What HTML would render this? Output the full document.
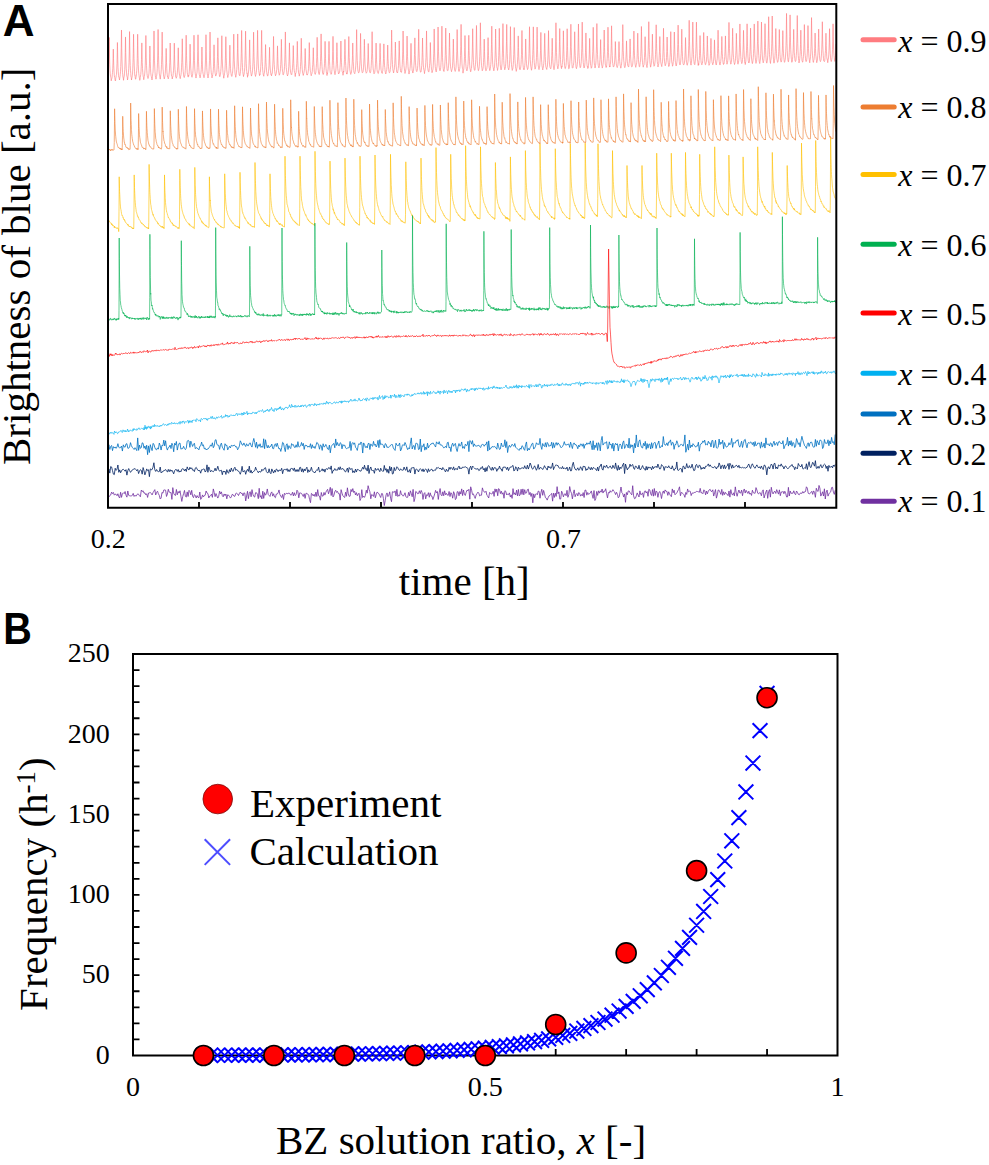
<!DOCTYPE html>
<html><head><meta charset="utf-8"><style>
html,body{margin:0;padding:0;background:#fff;}
svg{display:block;}
text{font-family:"Liberation Serif",serif;fill:#000;}
.sans{font-family:"Liberation Sans",sans-serif;font-weight:bold;}
</style></head><body>
<svg width="989" height="1165" viewBox="0 0 989 1165">
<rect width="989" height="1165" fill="#fff"/>
<text class="sans" x="2.7" y="36" font-size="44">A</text>
<text x="0" y="0" font-size="41" transform="translate(30.2,465) rotate(-90)">Brightness of blue [a.u.]</text>
<polyline points="108.00,75.50 108.25,72.17 108.50,68.35 108.75,60.68 109.00,50.75 109.20,37.44 109.25,41.23 109.50,54.98 109.75,64.69 110.00,70.21 110.25,73.79 110.50,76.17 110.75,77.18 111.00,78.05 111.25,80.81 111.50,79.11 111.75,78.62 112.00,77.91 112.25,74.82 112.50,72.57 112.75,68.78 113.00,62.15 113.25,51.17 113.30,49.15 113.50,58.44 113.75,65.77 114.00,71.01 114.25,75.11 114.50,76.99 114.75,77.11 115.00,79.56 115.25,80.62 115.50,80.98 115.75,78.29 116.00,77.28 116.25,75.21 116.50,74.44 116.75,68.98 117.00,63.41 117.25,52.13 117.42,42.51 117.50,46.77 117.75,59.33 118.00,67.58 118.25,71.26 118.50,75.47 118.75,77.03 119.00,77.56 119.25,78.61 119.50,79.98 119.75,78.05 120.00,76.58 120.25,74.50 120.50,71.72 120.75,66.57 121.00,58.90 121.25,47.64 121.49,30.31 121.50,29.99 121.75,48.80 122.00,59.92 122.25,67.02 122.50,72.54 122.75,74.78 123.00,77.64 123.25,77.67 123.50,80.30 123.75,78.22 124.00,76.94 124.25,76.01 124.50,73.11 124.75,69.52 125.00,62.94 125.25,52.57 125.50,37.55 125.51,36.94 125.75,52.71 126.00,61.93 126.25,68.81 126.50,72.06 126.75,75.83 127.00,76.61 127.25,77.29 127.50,79.98 127.75,78.74 128.00,76.37 128.25,74.94 128.50,72.52 128.75,68.24 129.00,62.56 129.25,51.83 129.50,35.91 129.56,31.59 129.75,45.17 130.00,58.33 130.25,65.59 130.50,70.53 130.75,73.42 131.00,77.30 131.25,77.50 131.50,80.03 131.75,78.18 132.00,77.30 132.25,75.69 132.50,74.19 132.75,68.89 133.00,62.61 133.25,53.39 133.50,38.28 133.56,34.29 133.75,47.52 134.00,58.58 134.25,65.95 134.50,71.28 134.75,75.20 135.00,75.03 135.25,77.93 135.50,79.26 135.75,78.89 136.00,77.00 136.25,76.10 136.50,73.44 136.75,70.49 137.00,66.61 137.25,58.35 137.50,45.18 137.65,34.22 137.75,41.24 138.00,55.70 138.25,64.58 138.50,70.08 138.75,73.58 139.00,75.28 139.25,77.22 139.50,78.12 139.75,80.34 140.00,79.30 140.25,77.53 140.50,76.02 140.75,74.48 141.00,71.23 141.25,66.48 141.50,59.45 141.75,47.35 141.83,42.90 142.00,52.17 142.25,62.36 142.50,68.49 142.75,72.24 143.00,74.69 143.25,76.66 143.50,77.53 143.75,79.71 144.00,78.11 144.25,76.58 144.50,75.95 144.75,73.14 145.00,70.18 145.25,65.11 145.50,55.99 145.75,44.10 145.87,35.51 146.00,44.66 146.25,57.23 146.50,65.32 146.75,70.13 147.00,73.73 147.25,75.64 147.50,77.27 147.75,77.44 148.00,78.52 148.25,77.85 148.50,76.73 148.75,75.03 149.00,73.09 149.25,68.16 149.50,63.19 149.75,53.59 149.89,45.98 150.00,52.04 150.25,61.59 150.50,68.18 150.75,72.68 151.00,75.15 151.25,76.66 151.50,76.83 151.75,78.51 152.00,79.97 152.25,77.90 152.50,76.37 152.75,73.67 153.00,72.09 153.25,67.08 153.50,58.87 153.75,49.26 154.00,30.96 154.00,31.12 154.25,48.82 154.50,60.79 154.75,66.96 155.00,71.72 155.25,75.27 155.50,76.98 155.75,77.26 156.00,79.16 156.25,76.89 156.50,76.16 156.75,75.12 157.00,72.59 157.25,68.50 157.50,62.71 157.75,52.02 158.00,36.93 158.09,29.50 158.25,41.83 158.50,55.84 158.75,64.23 159.00,69.41 159.25,73.26 159.50,74.81 159.75,75.90 160.00,77.91 160.25,79.15 160.50,77.02 160.75,74.68 161.00,73.26 161.25,69.84 161.50,64.52 161.75,55.65 162.00,43.74 162.16,32.09 162.25,38.69 162.50,53.03 162.75,62.73 163.00,69.09 163.25,71.12 163.50,74.84 163.75,76.70 164.00,77.73 164.25,78.92 164.50,78.06 164.75,76.73 165.00,75.29 165.25,73.28 165.50,69.07 165.75,63.73 166.00,55.40 166.15,48.41 166.25,52.64 166.50,62.30 166.75,68.51 167.00,72.95 167.25,74.71 167.50,77.01 167.75,76.78 168.00,77.79 168.25,78.87 168.50,77.71 168.75,76.89 169.00,74.11 169.25,72.05 169.50,68.96 169.75,62.62 170.00,52.99 170.20,43.00 170.25,45.70 170.50,57.92 170.75,65.19 171.00,70.86 171.25,73.34 171.50,75.99 171.75,76.24 172.00,77.06 172.25,78.97 172.50,77.20 172.75,77.12 173.00,75.72 173.25,73.24 173.50,70.78 173.75,65.90 174.00,59.19 174.25,46.85 174.31,43.15 174.50,54.22 174.75,63.93 175.00,69.65 175.25,72.38 175.50,74.81 175.75,76.95 176.00,77.06 176.25,78.28 176.50,77.54 176.75,76.97 177.00,75.17 177.25,72.93 177.50,70.16 177.75,66.68 178.00,58.84 178.25,47.91 178.25,47.81 178.50,59.16 178.75,65.93 179.00,70.94 179.25,73.17 179.50,75.28 179.75,76.12 180.00,77.94 180.25,78.65 180.50,76.66 180.75,75.91 181.00,74.50 181.25,72.63 181.50,67.81 181.75,62.32 182.00,53.56 182.25,40.69 182.27,38.77 182.50,52.22 182.75,62.24 183.00,69.02 183.25,71.74 183.50,74.13 183.75,76.47 184.00,77.10 184.25,77.55 184.50,76.18 184.75,76.17 185.00,74.14 185.25,70.53 185.50,65.81 185.75,56.92 186.00,46.40 186.16,35.20 186.25,42.18 186.50,55.65 186.75,63.60 187.00,68.30 187.25,72.74 187.50,74.35 187.75,75.92 188.00,76.65 188.25,77.11 188.50,75.45 188.75,76.13 189.00,73.96 189.25,71.74 189.50,67.99 189.75,60.42 190.00,49.14 190.10,44.17 190.25,52.26 190.50,61.94 190.75,68.15 191.00,70.86 191.25,74.41 191.50,74.99 191.75,76.85 192.00,77.25 192.25,76.33 192.50,75.37 192.75,73.43 193.00,70.71 193.25,65.95 193.50,60.12 193.75,50.58 193.99,35.19 194.00,35.87 194.25,51.30 194.50,60.60 194.75,68.00 195.00,71.27 195.25,73.81 195.50,75.31 195.75,76.53 196.00,78.05 196.25,76.45 196.50,74.93 196.75,73.67 197.00,72.47 197.25,67.31 197.50,60.95 197.75,51.45 198.00,35.98 198.00,34.77 198.25,50.69 198.50,61.26 198.75,67.29 199.00,71.24 199.25,74.51 199.50,75.01 199.75,76.42 200.00,77.90 200.25,77.49 200.50,74.94 200.75,74.29 201.00,72.33 201.25,69.73 201.50,64.68 201.75,57.15 201.93,47.00 202.00,51.54 202.25,60.85 202.50,66.91 202.75,71.47 203.00,73.25 203.25,74.27 203.50,76.13 203.75,76.20 204.00,77.74 204.25,76.43 204.50,75.34 204.75,74.33 205.00,70.83 205.25,66.07 205.50,60.01 205.75,49.78 205.99,34.71 206.00,36.60 206.25,51.26 206.50,60.24 206.75,67.70 207.00,71.17 207.25,73.87 207.50,75.30 207.75,76.56 208.00,77.98 208.25,76.78 208.50,75.34 208.75,73.69 209.00,71.13 209.25,66.16 209.50,60.44 209.75,50.38 210.00,34.83 210.03,32.02 210.25,48.67 210.50,58.88 210.75,65.18 211.00,69.35 211.25,72.86 211.50,74.73 211.75,75.54 212.00,77.91 212.25,76.26 212.50,76.12 212.75,74.32 213.00,72.84 213.25,70.48 213.50,66.76 213.75,57.86 214.00,46.93 214.03,44.80 214.25,56.20 214.50,63.26 214.75,68.69 215.00,72.15 215.25,73.72 215.50,75.03 215.75,76.09 216.00,75.33 216.25,74.85 216.50,74.11 216.75,72.41 217.00,69.12 217.25,63.42 217.50,56.35 217.75,44.81 217.85,37.83 218.00,46.93 218.25,57.75 218.50,65.63 218.75,69.54 219.00,72.11 219.25,74.11 219.50,76.38 219.75,76.50 220.00,76.73 220.25,75.03 220.50,74.37 220.75,71.44 221.00,68.26 221.25,64.23 221.50,54.94 221.75,41.02 221.83,35.74 222.00,47.20 222.25,58.80 222.50,65.03 222.75,68.90 223.00,72.48 223.25,74.43 223.50,75.62 223.75,78.22 224.00,76.24 224.25,75.63 224.50,73.33 224.75,72.21 225.00,69.50 225.25,63.60 225.50,55.11 225.75,42.08 225.84,36.72 226.00,45.98 226.25,57.73 226.50,65.21 226.75,69.91 227.00,72.22 227.25,74.43 227.50,75.30 227.75,77.52 228.00,76.29 228.25,75.14 228.50,74.70 228.75,73.57 229.00,70.17 229.25,66.63 229.50,60.93 229.75,50.38 229.86,45.20 230.00,51.88 230.25,62.10 230.50,68.48 230.75,72.01 231.00,73.21 231.25,75.17 231.50,75.79 231.75,76.37 232.00,76.31 232.25,73.83 232.50,73.36 232.75,70.21 233.00,66.85 233.25,59.81 233.50,49.24 233.75,34.13 233.75,34.75 234.00,50.07 234.25,60.24 234.50,66.05 234.75,69.25 235.00,73.30 235.25,74.81 235.50,75.56 235.75,77.29 236.00,75.86 236.25,74.01 236.50,72.15 236.75,69.68 237.00,66.06 237.25,58.00 237.50,48.63 237.71,33.94 237.75,36.54 238.00,52.36 238.25,60.98 238.50,66.28 238.75,70.49 239.00,73.51 239.25,75.14 239.50,75.28 239.75,75.85 240.00,75.13 240.25,73.07 240.50,71.41 240.75,67.81 241.00,62.20 241.25,53.78 241.50,40.77 241.64,30.46 241.75,38.82 242.00,52.77 242.25,62.34 242.50,67.48 242.75,71.35 243.00,73.76 243.25,74.88 243.50,76.62 243.75,74.96 244.00,74.80 244.25,72.70 244.50,71.38 244.75,67.51 245.00,59.71 245.25,50.79 245.50,36.79 245.57,31.18 245.75,43.92 246.00,55.73 246.25,63.74 246.50,68.76 246.75,71.51 247.00,74.04 247.25,73.65 247.50,77.28 247.75,75.27 248.00,75.60 248.25,73.94 248.50,71.95 248.75,69.96 249.00,65.20 249.25,58.70 249.50,48.15 249.65,39.90 249.75,46.10 250.00,57.70 250.25,64.31 250.50,69.47 250.75,71.85 251.00,73.62 251.25,75.12 251.50,76.10 251.75,75.10 252.00,74.24 252.25,72.84 252.50,70.70 252.75,66.66 253.00,62.02 253.25,52.49 253.50,39.03 253.58,32.20 253.75,44.37 254.00,56.29 254.25,63.44 254.50,69.45 254.75,71.67 255.00,74.30 255.25,75.11 255.50,76.43 255.75,74.86 256.00,74.29 256.25,72.56 256.50,70.12 256.75,66.13 257.00,59.34 257.25,50.65 257.50,34.71 257.57,30.36 257.75,42.73 258.00,55.00 258.25,63.04 258.50,68.22 258.75,70.50 259.00,72.33 259.25,73.93 259.50,75.63 259.75,74.64 260.00,75.04 260.25,72.32 260.50,70.99 260.75,66.55 261.00,61.97 261.25,53.14 261.50,39.85 261.63,30.39 261.75,40.12 262.00,52.98 262.25,61.60 262.50,66.54 262.75,70.80 263.00,72.59 263.25,74.53 263.50,74.98 263.75,76.24 264.00,73.70 264.25,73.47 264.50,72.38 264.75,69.11 265.00,64.72 265.25,58.42 265.50,47.53 265.57,44.57 265.75,54.75 266.00,62.48 266.25,66.67 266.50,70.17 266.75,72.54 267.00,74.60 267.25,74.55 267.50,76.11 267.75,75.78 268.00,75.12 268.25,73.49 268.50,71.53 268.75,68.81 269.00,65.30 269.25,58.33 269.50,50.05 269.54,47.31 269.75,56.97 270.00,64.84 270.25,69.04 270.50,70.77 270.75,73.61 271.00,74.92 271.25,74.70 271.50,75.87 271.75,74.71 272.00,73.05 272.25,73.16 272.50,68.96 272.75,66.06 273.00,60.89 273.25,52.10 273.50,38.43 273.53,36.47 273.75,49.48 274.00,59.90 274.25,64.45 274.50,69.44 274.75,71.58 275.00,73.58 275.25,74.62 275.50,75.79 275.75,74.66 276.00,74.64 276.25,73.26 276.50,70.93 276.75,69.44 277.00,65.08 277.25,56.12 277.50,45.86 277.51,46.45 277.75,56.57 278.00,63.59 278.25,68.01 278.50,70.78 278.75,72.81 279.00,73.82 279.25,75.22 279.50,74.74 279.75,74.02 280.00,72.55 280.25,71.40 280.50,68.26 280.75,64.34 281.00,58.22 281.25,47.29 281.38,39.34 281.50,46.29 281.75,57.09 282.00,63.94 282.25,68.26 282.50,71.58 282.75,72.43 283.00,74.77 283.25,74.82 283.50,74.19 283.75,73.46 284.00,72.01 284.25,70.30 284.50,66.52 284.75,62.18 285.00,52.92 285.25,39.11 285.36,31.95 285.50,41.11 285.75,54.46 286.00,62.86 286.25,67.64 286.50,69.80 286.75,72.09 287.00,74.63 287.25,74.70 287.50,75.95 287.75,74.95 288.00,74.77 288.25,72.81 288.50,70.07 288.75,66.76 289.00,61.51 289.25,52.43 289.44,42.89 289.50,47.02 289.75,57.07 290.00,64.21 290.25,68.53 290.50,72.35 290.75,72.46 291.00,73.90 291.25,74.57 291.50,74.89 291.75,74.51 292.00,72.67 292.25,70.81 292.50,67.75 292.75,63.93 293.00,58.09 293.25,47.48 293.28,45.58 293.50,55.83 293.75,63.25 294.00,68.06 294.25,70.42 294.50,72.43 294.75,72.81 295.00,73.88 295.25,76.56 295.50,73.40 295.75,73.60 296.00,72.73 296.25,70.64 296.50,67.61 296.75,63.54 297.00,56.57 297.25,45.52 297.31,41.40 297.50,52.18 297.75,60.38 298.00,65.96 298.25,69.79 298.50,72.18 298.75,73.69 299.00,73.87 299.25,76.11 299.50,74.75 299.75,73.88 300.00,72.66 300.25,69.78 300.50,66.44 300.75,61.70 301.00,52.36 301.25,40.16 301.27,38.25 301.50,50.84 301.75,59.12 302.00,65.24 302.25,69.28 302.50,72.02 302.75,73.52 303.00,73.90 303.25,75.45 303.50,73.86 303.75,73.75 304.00,72.28 304.25,70.90 304.50,68.63 304.75,63.27 305.00,55.50 305.18,48.50 305.25,51.49 305.50,60.12 305.75,66.76 306.00,69.65 306.25,70.94 306.50,73.41 306.75,74.58 307.00,74.32 307.25,75.13 307.50,74.05 307.75,73.65 308.00,72.70 308.25,71.19 308.50,68.42 308.75,64.01 309.00,57.17 309.25,45.91 309.29,42.60 309.50,53.50 309.75,61.71 310.00,66.42 310.25,70.28 310.50,71.69 310.75,72.70 311.00,74.70 311.25,75.74 311.50,74.46 311.75,74.20 312.00,73.31 312.25,71.45 312.50,67.68 312.75,64.84 313.00,59.08 313.25,49.56 313.30,47.78 313.50,56.74 313.75,62.92 314.00,67.05 314.25,71.45 314.50,72.01 314.75,72.75 315.00,74.21 315.25,74.35 315.50,73.08 315.75,72.73 316.00,70.37 316.25,67.43 316.50,63.69 316.75,57.24 317.00,45.91 317.15,37.32 317.25,43.48 317.50,56.55 317.75,62.14 318.00,67.86 318.25,70.11 318.50,71.95 318.75,73.57 319.00,74.41 319.25,74.46 319.50,73.15 319.75,71.37 320.00,69.32 320.25,66.57 320.50,61.45 320.75,53.74 321.00,40.46 321.10,33.92 321.25,44.22 321.50,55.15 321.75,61.69 322.00,66.52 322.25,69.36 322.50,72.75 322.75,72.72 323.00,74.52 323.25,74.31 323.50,74.18 323.75,72.73 324.00,70.45 324.25,67.69 324.50,63.57 324.75,56.89 325.00,45.95 325.08,41.36 325.25,50.96 325.50,58.44 325.75,65.22 326.00,68.32 326.25,71.20 326.50,73.01 326.75,73.50 327.00,75.55 327.25,72.96 327.50,73.49 327.75,71.36 328.00,69.96 328.25,66.57 328.50,60.19 328.75,53.25 329.00,41.36 329.01,41.60 329.25,53.22 329.50,61.26 329.75,65.53 330.00,70.19 330.25,72.44 330.50,72.85 330.75,73.55 331.00,74.29 331.25,73.94 331.50,73.93 331.75,71.49 332.00,69.49 332.25,65.54 332.50,59.12 332.75,51.38 333.00,36.36 333.00,37.17 333.25,51.21 333.50,60.27 333.75,65.60 334.00,69.11 334.25,70.77 334.50,71.93 334.75,73.50 335.00,74.68 335.25,72.83 335.50,71.95 335.75,70.92 336.00,68.02 336.25,64.77 336.50,59.10 336.75,51.32 336.92,42.72 337.00,47.83 337.25,56.37 337.50,63.31 337.75,68.25 338.00,70.31 338.25,71.92 338.50,74.00 338.75,73.64 339.00,73.34 339.25,72.65 339.50,72.52 339.75,70.99 340.00,67.77 340.25,64.22 340.50,59.08 340.75,49.81 340.90,41.02 341.00,47.06 341.25,57.33 341.50,62.69 341.75,67.57 342.00,70.56 342.25,71.74 342.50,72.01 342.75,73.61 343.00,75.29 343.25,74.07 343.50,71.23 343.75,72.15 344.00,67.94 344.25,65.29 344.50,59.62 344.75,50.35 344.94,39.36 345.00,42.16 345.25,54.79 345.50,61.57 345.75,65.39 346.00,71.07 346.25,71.91 346.50,73.67 346.75,73.07 347.00,74.17 347.25,73.40 347.50,72.09 347.75,69.27 348.00,65.48 348.25,60.95 348.50,51.99 348.75,39.72 348.81,36.53 349.00,47.08 349.25,57.45 349.50,63.79 349.75,68.81 350.00,71.03 350.25,71.97 350.50,73.62 350.75,74.41 351.00,73.31 351.25,73.18 351.50,70.91 351.75,69.52 352.00,66.05 352.25,62.12 352.50,55.57 352.75,42.98 352.75,43.61 353.00,54.46 353.25,61.58 353.50,66.14 353.75,70.40 354.00,72.71 354.25,72.94 354.50,73.08 354.75,73.63 355.00,72.27 355.25,71.51 355.50,69.17 355.75,65.88 356.00,60.87 356.25,52.13 356.50,39.39 356.63,29.61 356.75,39.11 357.00,51.53 357.25,60.37 357.50,65.17 357.75,69.00 358.00,71.27 358.25,71.66 358.50,72.80 358.75,72.65 359.00,72.60 359.25,71.68 359.50,69.03 359.75,64.95 360.00,60.36 360.25,50.22 360.50,38.10 360.55,33.42 360.75,44.78 361.00,57.89 361.25,63.95 361.50,66.83 361.75,70.09 362.00,71.58 362.25,72.81 362.50,72.68 362.75,72.40 363.00,71.89 363.25,70.06 363.50,67.87 363.75,63.08 364.00,57.56 364.25,45.55 364.37,39.28 364.50,45.84 364.75,56.31 365.00,64.04 365.25,66.99 365.50,70.32 365.75,71.67 366.00,72.22 366.25,73.23 366.50,72.96 366.75,72.20 367.00,71.60 367.25,69.64 367.50,66.01 367.75,61.10 368.00,54.21 368.23,43.52 368.25,45.32 368.50,56.98 368.75,62.96 369.00,66.90 369.25,69.60 369.50,71.02 369.75,72.11 370.00,72.76 370.25,72.83 370.50,71.97 370.75,71.22 371.00,68.55 371.25,65.35 371.50,59.64 371.75,52.89 372.00,39.43 372.12,31.71 372.25,40.59 372.50,53.45 372.75,60.51 373.00,66.03 373.25,70.22 373.50,70.28 373.75,72.76 374.00,73.84 374.25,73.52 374.50,73.05 374.75,72.31 375.00,69.76 375.25,67.82 375.50,63.27 375.75,57.22 376.00,47.58 376.09,43.07 376.25,51.07 376.50,59.75 376.75,64.21 377.00,69.38 377.25,71.14 377.50,72.30 377.75,72.62 378.00,73.31 378.25,73.49 378.50,72.78 378.75,70.71 379.00,70.36 379.25,68.99 379.50,62.63 379.75,57.92 380.00,47.88 380.08,43.40 380.25,52.30 380.50,59.27 380.75,65.21 381.00,69.21 381.25,70.47 381.50,71.69 381.75,72.81 382.00,73.00 382.25,73.43 382.50,71.25 382.75,70.72 383.00,67.35 383.25,64.75 383.50,58.70 383.75,48.54 383.87,43.86 384.00,49.64 384.25,58.72 384.50,65.30 384.75,67.46 385.00,69.73 385.25,72.43 385.50,72.65 385.75,73.95 386.00,73.00 386.25,71.61 386.50,70.83 386.75,69.62 387.00,66.50 387.25,61.35 387.50,54.03 387.70,45.08 387.75,47.31 388.00,58.28 388.25,63.42 388.50,66.73 388.75,69.54 389.00,71.72 389.25,72.67 389.50,72.90 389.75,72.30 390.00,71.83 390.25,69.67 390.50,67.83 390.75,65.71 391.00,60.02 391.25,52.54 391.50,40.49 391.64,30.07 391.75,37.58 392.00,51.97 392.25,59.67 392.50,64.50 392.75,68.46 393.00,70.44 393.25,71.16 393.50,72.95 393.75,72.21 394.00,70.32 394.25,69.72 394.50,67.26 394.75,63.41 395.00,56.84 395.25,48.15 395.37,42.02 395.50,48.78 395.75,57.34 396.00,64.09 396.25,66.84 396.50,69.70 396.75,71.98 397.00,71.90 397.25,72.59 397.50,73.01 397.75,71.44 398.00,70.19 398.25,68.41 398.50,65.62 398.75,58.89 399.00,51.63 399.22,40.92 399.25,42.71 399.50,53.99 399.75,61.08 400.00,66.17 400.25,68.41 400.50,70.73 400.75,72.02 401.00,72.17 401.25,72.39 401.50,72.30 401.75,70.27 402.00,67.65 402.25,64.59 402.50,58.87 402.75,51.17 403.00,38.38 403.09,31.00 403.25,41.89 403.50,54.16 403.75,60.70 404.00,65.72 404.25,68.06 404.50,70.04 404.75,71.39 405.00,73.49 405.25,72.11 405.50,71.24 405.75,69.95 406.00,68.15 406.25,65.40 406.50,60.20 406.75,53.32 407.00,40.08 407.07,36.04 407.25,46.10 407.50,56.38 407.75,61.77 408.00,66.51 408.25,69.12 408.50,70.67 408.75,70.75 409.00,74.07 409.25,72.18 409.50,71.43 409.75,70.38 410.00,68.59 410.25,66.08 410.50,60.79 410.75,53.95 411.00,43.51 411.00,43.33 411.25,54.07 411.50,61.03 411.75,65.37 412.00,68.60 412.25,71.02 412.50,71.04 412.75,73.05 413.00,72.74 413.25,71.38 413.50,70.88 413.75,68.00 414.00,65.10 414.25,60.96 414.50,54.55 414.75,43.79 414.85,37.89 415.00,46.70 415.25,55.39 415.50,62.92 415.75,65.91 416.00,68.79 416.25,70.50 416.50,71.13 416.75,71.66 417.00,70.90 417.25,70.20 417.50,68.64 417.75,65.68 418.00,60.27 418.25,53.08 418.50,41.52 418.69,29.32 418.75,32.73 419.00,48.85 419.25,57.18 419.50,62.86 419.75,67.13 420.00,69.82 420.25,70.96 420.50,72.26 420.75,72.07 421.00,71.82 421.25,70.59 421.50,67.95 421.75,65.64 422.00,60.14 422.25,52.45 422.50,39.90 422.54,37.99 422.75,49.87 423.00,57.53 423.25,64.03 423.50,67.39 423.75,69.57 424.00,69.74 424.25,71.68 424.50,73.61 424.75,71.22 425.00,70.67 425.25,67.91 425.50,67.02 425.75,62.56 426.00,57.35 426.25,46.59 426.50,33.04 426.52,30.93 426.75,45.77 427.00,55.08 427.25,61.69 427.50,67.22 427.75,68.28 428.00,69.99 428.25,71.24 428.50,71.61 428.75,72.08 429.00,71.37 429.25,68.60 429.50,65.65 429.75,63.25 430.00,57.17 430.25,47.50 430.35,42.54 430.50,49.03 430.75,58.03 431.00,62.91 431.25,66.37 431.50,69.78 431.75,70.35 432.00,72.71 432.25,72.17 432.50,70.73 432.75,70.26 433.00,68.89 433.25,65.29 433.50,59.80 433.75,53.29 434.00,42.29 434.18,28.96 434.25,33.87 434.50,48.94 434.75,57.49 435.00,62.58 435.25,66.56 435.50,68.67 435.75,70.65 436.00,71.48 436.25,71.93 436.50,70.74 436.75,68.08 437.00,66.67 437.25,63.14 437.50,56.98 437.75,47.91 438.00,32.38 438.07,27.02 438.25,40.87 438.50,51.77 438.75,58.77 439.00,65.15 439.25,67.31 439.50,69.45 439.75,70.12 440.00,70.82 440.25,70.05 440.50,69.12 440.75,67.39 441.00,62.76 441.25,59.09 441.50,49.94 441.75,37.11 441.91,26.16 442.00,32.96 442.25,46.80 442.50,57.73 442.75,62.25 443.00,66.52 443.25,68.86 443.50,70.96 443.75,70.98 444.00,71.48 444.25,69.51 444.50,68.73 444.75,65.09 445.00,61.05 445.25,55.49 445.50,44.18 445.74,28.08 445.75,29.73 446.00,44.93 446.25,54.59 446.50,61.86 446.75,65.03 447.00,68.80 447.25,70.50 447.50,70.66 447.75,70.82 448.00,70.27 448.25,68.70 448.50,65.86 448.75,62.94 449.00,55.82 449.25,47.46 449.50,33.05 449.50,33.08 449.75,47.78 450.00,56.18 450.25,62.90 450.50,66.20 450.75,68.31 451.00,69.43 451.25,70.46 451.50,71.68 451.75,70.32 452.00,69.75 452.25,68.54 452.50,65.83 452.75,61.86 453.00,54.26 453.25,43.36 453.34,39.09 453.50,47.17 453.75,56.93 454.00,62.31 454.25,66.67 454.50,68.89 454.75,70.33 455.00,71.19 455.25,71.44 455.50,70.57 455.75,69.33 456.00,67.76 456.25,63.95 456.50,60.24 456.75,51.72 457.00,40.29 457.15,29.56 457.25,36.69 457.50,50.88 457.75,57.99 458.00,62.77 458.25,66.38 458.50,68.69 458.75,71.27 459.00,71.14 459.25,71.28 459.50,69.32 459.75,68.44 460.00,66.16 460.25,62.87 460.50,55.56 460.75,46.67 461.00,31.49 461.08,24.36 461.25,37.49 461.50,50.14 461.75,57.21 462.00,63.81 462.25,67.04 462.50,68.62 462.75,69.48 463.00,73.17 463.25,70.94 463.50,70.38 463.75,69.10 464.00,65.81 464.25,62.83 464.50,56.55 464.75,47.58 464.97,35.53 465.00,37.67 465.25,50.90 465.50,58.45 465.75,63.42 466.00,66.59 466.25,68.95 466.50,69.64 466.75,70.66 467.00,70.87 467.25,69.77 467.50,68.68 467.75,66.36 468.00,64.40 468.25,58.92 468.50,50.38 468.75,37.38 468.80,35.31 469.00,46.08 469.25,55.50 469.50,61.81 469.75,65.69 470.00,68.70 470.25,69.54 470.50,71.59 470.75,71.82 471.00,70.58 471.25,68.57 471.50,68.14 471.75,64.17 472.00,59.76 472.25,53.08 472.50,41.95 472.68,28.73 472.75,34.18 473.00,47.48 473.25,57.02 473.50,62.47 473.75,65.87 474.00,67.95 474.25,69.51 474.50,70.23 474.75,70.43 475.00,69.77 475.25,66.22 475.50,64.26 475.75,59.60 476.00,52.94 476.25,41.02 476.48,25.49 476.50,26.69 476.75,43.96 477.00,54.07 477.25,60.55 477.50,65.00 477.75,67.35 478.00,68.39 478.25,70.53 478.50,70.65 478.75,69.52 479.00,68.65 479.25,66.50 479.50,61.79 479.75,56.34 480.00,48.68 480.25,34.71 480.39,22.77 480.50,31.55 480.75,46.39 481.00,55.71 481.25,61.03 481.50,65.56 481.75,67.27 482.00,68.80 482.25,70.81 482.50,70.15 482.75,69.58 483.00,68.55 483.25,66.48 483.50,62.50 483.75,57.34 484.00,48.46 484.21,39.11 484.25,41.02 484.50,51.56 484.75,59.35 485.00,64.31 485.25,67.10 485.50,69.63 485.75,70.57 486.00,70.35 486.25,70.63 486.50,69.31 486.75,68.94 487.00,67.10 487.25,65.57 487.50,59.84 487.75,51.78 488.00,41.52 488.07,37.65 488.25,46.41 488.50,55.67 488.75,61.67 489.00,65.67 489.25,67.74 489.50,68.84 489.75,70.61 490.00,69.79 490.25,68.79 490.50,66.74 490.75,64.50 491.00,61.23 491.25,53.82 491.50,44.70 491.75,29.51 491.78,26.20 492.00,41.22 492.25,51.75 492.50,60.07 492.75,64.47 493.00,66.90 493.25,67.72 493.50,69.23 493.75,70.85 494.00,70.41 494.25,68.44 494.50,66.93 494.75,62.87 495.00,58.15 495.25,50.49 495.50,38.48 495.62,29.01 495.75,38.81 496.00,51.18 496.25,57.68 496.50,62.48 496.75,66.44 497.00,67.91 497.25,68.30 497.50,70.44 497.75,69.17 498.00,67.37 498.25,66.33 498.50,61.67 498.75,55.44 499.00,46.75 499.25,31.83 499.30,28.33 499.50,42.06 499.75,52.45 500.00,59.40 500.25,64.83 500.50,67.20 500.75,68.93 501.00,69.91 501.25,69.62 501.50,68.84 501.75,66.10 502.00,63.88 502.25,57.52 502.50,50.06 502.75,37.19 502.94,23.61 503.00,28.79 503.25,44.97 503.50,53.87 503.75,60.53 504.00,64.36 504.25,66.72 504.50,68.10 504.75,69.75 505.00,68.61 505.25,68.36 505.50,66.47 505.75,63.23 506.00,58.49 506.25,51.11 506.50,41.41 506.72,24.41 506.75,28.18 507.00,43.79 507.25,53.52 507.50,59.60 507.75,64.81 508.00,67.76 508.25,68.08 508.50,69.44 508.75,69.93 509.00,68.40 509.25,67.40 509.50,63.24 509.75,59.25 510.00,51.21 510.25,41.62 510.45,26.63 510.50,29.69 510.75,45.55 511.00,54.95 511.25,61.94 511.50,64.60 511.75,67.16 512.00,68.99 512.25,70.45 512.50,69.55 512.75,69.09 513.00,67.24 513.25,64.33 513.50,60.57 513.75,54.34 514.00,44.09 514.25,29.75 514.26,27.52 514.50,43.93 514.75,54.02 515.00,59.97 515.25,63.74 515.50,66.62 515.75,68.62 516.00,69.80 516.25,71.39 516.50,70.21 516.75,68.56 517.00,67.56 517.25,64.48 517.50,62.20 517.75,56.49 518.00,47.67 518.24,35.90 518.25,36.51 518.50,47.55 518.75,57.09 519.00,61.50 519.25,66.03 519.50,68.81 519.75,68.62 520.00,69.75 520.25,69.23 520.50,68.48 520.75,66.98 521.00,64.71 521.25,59.49 521.50,54.35 521.75,42.98 521.96,30.51 522.00,33.62 522.25,47.30 522.50,55.30 522.75,61.02 523.00,64.69 523.25,67.15 523.50,69.17 523.75,68.86 524.00,69.85 524.25,69.07 524.50,67.71 524.75,65.57 525.00,62.79 525.25,57.08 525.50,49.07 525.70,38.96 525.75,42.26 526.00,51.25 526.25,59.71 526.50,63.30 526.75,66.06 527.00,67.47 527.25,68.13 527.50,69.58 527.75,68.86 528.00,68.41 528.25,65.79 528.50,64.68 528.75,60.05 529.00,53.43 529.25,43.17 529.50,27.34 529.51,26.74 529.75,42.69 530.00,53.18 530.25,59.57 530.50,63.07 530.75,66.25 531.00,67.59 531.25,69.17 531.50,70.26 531.75,68.72 532.00,66.81 532.25,63.89 532.50,60.42 532.75,54.66 533.00,47.01 533.25,32.32 533.33,26.85 533.50,38.29 533.75,50.43 534.00,58.56 534.25,62.26 534.50,65.44 534.75,67.11 535.00,69.16 535.25,68.79 535.50,67.85 535.75,66.33 536.00,64.13 536.25,61.63 536.50,57.25 536.75,46.93 537.00,34.45 537.10,27.10 537.25,37.14 537.50,49.63 537.75,57.32 538.00,61.96 538.25,66.35 538.50,66.39 538.75,68.78 539.00,69.58 539.25,68.35 539.50,67.50 539.75,65.96 540.00,62.59 540.25,57.99 540.50,50.68 540.75,37.59 540.86,32.42 541.00,41.73 541.25,52.07 541.50,59.07 541.75,62.28 542.00,65.73 542.25,67.16 542.50,68.40 542.75,69.89 543.00,68.48 543.25,67.79 543.50,65.29 543.75,63.63 544.00,59.77 544.25,53.08 544.50,43.18 544.69,33.37 544.75,35.84 545.00,48.39 545.25,56.43 545.50,62.46 545.75,66.10 546.00,67.23 546.25,67.99 546.50,68.95 546.75,69.48 547.00,67.55 547.25,67.25 547.50,64.91 547.75,60.58 548.00,55.10 548.25,46.07 548.50,32.17 548.50,30.65 548.75,46.00 549.00,54.39 549.25,60.01 549.50,64.14 549.75,66.32 550.00,67.42 550.25,68.05 550.50,68.52 550.75,68.85 551.00,67.74 551.25,64.94 551.50,61.84 551.75,55.67 552.00,47.53 552.19,38.27 552.25,40.93 552.50,51.55 552.75,58.80 553.00,62.85 553.25,65.18 553.50,67.61 553.75,68.37 554.00,69.70 554.25,68.20 554.50,66.80 554.75,65.03 555.00,61.77 555.25,56.61 555.50,49.03 555.75,37.44 555.95,22.75 556.00,27.20 556.25,41.69 556.50,52.48 556.75,58.91 557.00,63.28 557.25,65.56 557.50,67.17 557.75,68.86 558.00,68.50 558.25,66.76 558.50,66.31 558.75,63.48 559.00,58.50 559.25,52.60 559.50,41.41 559.72,28.55 559.75,30.32 560.00,44.56 560.25,53.99 560.50,59.65 560.75,63.84 561.00,66.18 561.25,67.60 561.50,68.65 561.75,66.37 562.00,67.10 562.25,64.31 562.50,62.55 562.75,58.55 563.00,51.11 563.25,39.75 563.39,30.80 563.50,37.69 563.75,49.30 564.00,56.78 564.25,61.36 564.50,65.44 564.75,66.75 565.00,68.44 565.25,68.61 565.50,68.09 565.75,66.81 566.00,65.30 566.25,62.61 566.50,57.79 566.75,50.20 567.00,38.92 567.17,28.76 567.25,33.26 567.50,46.62 567.75,55.98 568.00,61.18 568.25,64.31 568.50,66.01 568.75,68.76 569.00,68.64 569.25,67.82 569.50,66.07 569.75,63.26 570.00,59.84 570.25,55.28 570.50,46.72 570.75,32.93 570.86,24.26 571.00,34.23 571.25,47.55 571.50,55.08 571.75,61.40 572.00,64.79 572.25,67.69 572.50,68.02 572.75,68.12 573.00,67.66 573.25,65.35 573.50,65.17 573.75,62.85 574.00,59.45 574.25,53.01 574.50,43.14 574.69,31.75 574.75,35.86 575.00,48.77 575.25,55.45 575.50,60.79 575.75,63.52 576.00,67.05 576.25,68.17 576.50,68.71 576.75,67.08 577.00,66.57 577.25,64.47 577.50,61.66 577.75,56.86 578.00,49.85 578.25,37.80 578.46,23.98 578.50,27.19 578.75,42.49 579.00,52.46 579.25,58.56 579.50,63.16 579.75,65.14 580.00,67.02 580.25,67.69 580.50,66.80 580.75,66.78 581.00,63.88 581.25,61.74 581.50,56.86 581.75,48.36 582.00,36.95 582.21,22.13 582.25,25.23 582.50,41.10 582.75,52.25 583.00,58.22 583.25,62.63 583.50,64.82 583.75,66.84 584.00,68.04 584.25,67.74 584.50,67.01 584.75,65.11 585.00,62.30 585.25,57.96 585.50,52.24 585.75,42.33 585.91,32.95 586.00,38.31 586.25,50.21 586.50,58.31 586.75,61.45 587.00,64.64 587.25,66.48 587.50,66.16 587.75,68.51 588.00,67.52 588.25,67.65 588.50,65.40 588.75,62.89 589.00,59.63 589.25,54.24 589.50,45.10 589.64,38.39 589.75,43.36 590.00,53.18 590.25,59.55 590.50,63.87 590.75,65.60 591.00,66.88 591.25,68.28 591.50,68.00 591.75,67.25 592.00,65.28 592.25,62.03 592.50,58.05 592.75,51.45 593.00,41.17 593.22,27.29 593.25,29.12 593.50,42.99 593.75,52.92 594.00,58.09 594.25,62.84 594.50,65.16 594.75,65.81 595.00,68.04 595.25,67.23 595.50,65.44 595.75,64.01 596.00,60.63 596.25,53.60 596.50,46.08 596.75,32.17 596.86,23.55 597.00,33.82 597.25,46.08 597.50,54.44 597.75,59.59 598.00,62.97 598.25,65.41 598.50,66.08 598.75,67.65 599.00,67.90 599.25,66.70 599.50,65.55 599.75,62.24 600.00,59.37 600.25,54.10 600.50,45.92 600.63,39.60 600.75,46.22 601.00,54.24 601.25,59.68 601.50,63.10 601.75,65.62 602.00,66.41 602.25,68.08 602.50,67.43 602.75,66.21 603.00,64.49 603.25,62.10 603.50,58.21 603.75,51.67 604.00,41.13 604.19,30.01 604.25,33.90 604.50,47.30 604.75,54.80 605.00,58.94 605.25,63.92 605.50,65.38 605.75,66.06 606.00,67.38 606.25,66.72 606.50,67.19 606.75,64.79 607.00,61.23 607.25,58.31 607.50,51.58 607.75,42.89 607.98,27.20 608.00,27.89 608.25,43.60 608.50,52.63 608.75,58.46 609.00,61.31 609.25,64.95 609.50,67.07 609.75,66.31 610.00,66.94 610.25,64.65 610.50,63.86 610.75,59.37 611.00,53.50 611.25,45.39 611.50,31.32 611.57,25.80 611.75,38.47 612.00,49.05 612.25,55.52 612.50,61.93 612.75,63.60 613.00,65.28 613.25,66.90 613.50,67.00 613.75,66.55 614.00,66.11 614.25,64.74 614.50,62.90 614.75,60.06 615.00,53.97 615.25,46.11 615.35,41.57 615.50,47.24 615.75,55.52 616.00,59.77 616.25,63.84 616.50,65.48 616.75,66.49 617.00,66.59 617.25,67.57 617.50,66.49 617.75,66.21 618.00,64.21 618.25,61.37 618.50,58.30 618.75,52.01 619.00,41.60 619.00,42.35 619.25,51.32 619.50,57.55 619.75,61.73 620.00,63.80 620.25,65.54 620.50,66.69 620.75,68.17 621.00,67.54 621.25,65.67 621.50,65.03 621.75,61.74 622.00,58.07 622.25,52.20 622.50,42.28 622.75,28.17 622.78,24.62 623.00,38.30 623.25,50.34 623.50,56.33 623.75,60.73 624.00,62.14 624.25,65.88 624.50,66.90 624.75,67.68 625.00,67.11 625.25,66.42 625.50,63.93 625.75,61.85 626.00,56.98 626.25,50.82 626.50,41.52 626.51,40.88 626.75,49.93 627.00,57.26 627.25,61.10 627.50,63.38 627.75,65.66 628.00,66.29 628.25,66.51 628.50,66.15 628.75,66.65 629.00,63.55 629.25,62.11 629.50,58.68 629.75,52.99 630.00,43.07 630.09,38.92 630.25,46.34 630.50,54.70 630.75,59.07 631.00,62.03 631.25,65.16 631.50,66.51 631.75,66.96 632.00,66.74 632.25,66.56 632.50,65.35 632.75,64.03 633.00,60.35 633.25,56.88 633.50,50.20 633.75,39.42 633.90,31.07 634.00,37.01 634.25,48.16 634.50,55.79 634.75,59.46 635.00,63.04 635.25,65.13 635.50,66.22 635.75,67.35 636.00,65.96 636.25,64.92 636.50,64.39 636.75,62.30 637.00,59.67 637.25,53.47 637.50,44.14 637.72,33.20 637.75,34.03 638.00,45.97 638.25,55.80 638.50,59.60 638.75,62.93 639.00,64.84 639.25,66.72 639.50,66.75 639.75,66.61 640.00,64.34 640.25,62.34 640.50,60.90 640.75,56.43 641.00,48.88 641.25,37.61 641.42,26.47 641.50,31.60 641.75,45.86 642.00,53.76 642.25,58.97 642.50,62.26 642.75,64.73 643.00,65.80 643.25,67.18 643.50,65.59 643.75,65.43 644.00,64.70 644.25,60.89 644.50,57.21 644.75,51.62 645.00,42.05 645.10,36.70 645.25,43.13 645.50,52.91 645.75,57.60 646.00,61.29 646.25,64.21 646.50,65.20 646.75,66.64 647.00,67.58 647.25,65.36 647.50,63.71 647.75,60.34 648.00,56.44 648.25,49.90 648.50,40.18 648.75,24.18 648.78,21.71 649.00,36.81 649.25,47.66 649.50,54.59 649.75,59.15 650.00,62.93 650.25,64.56 650.50,67.17 650.75,66.57 651.00,64.93 651.25,63.94 651.50,60.54 651.75,58.71 652.00,52.35 652.25,42.48 652.40,34.16 652.50,40.41 652.75,49.30 653.00,56.19 653.25,60.98 653.50,63.20 653.75,64.53 654.00,66.28 654.25,65.93 654.50,65.66 654.75,64.07 655.00,62.02 655.25,59.72 655.50,54.34 655.75,48.46 656.00,35.68 656.18,24.79 656.25,28.52 656.50,43.42 656.75,51.42 657.00,57.01 657.25,61.34 657.50,63.87 657.75,64.34 658.00,66.97 658.25,65.33 658.50,64.78 658.75,63.31 659.00,60.91 659.25,55.77 659.50,51.27 659.75,40.96 659.82,36.56 660.00,44.62 660.25,52.42 660.50,57.75 660.75,61.98 661.00,63.61 661.25,64.53 661.50,65.67 661.75,66.58 662.00,64.72 662.25,63.16 662.50,61.86 662.75,57.86 663.00,52.04 663.25,42.89 663.50,28.52 663.51,28.24 663.75,42.34 664.00,51.50 664.25,57.52 664.50,61.25 664.75,63.39 665.00,64.85 665.25,65.78 665.50,64.63 665.75,64.54 666.00,62.90 666.25,60.81 666.50,57.46 666.75,51.42 667.00,42.73 667.13,37.03 667.25,43.19 667.50,51.60 667.75,57.75 668.00,60.93 668.25,62.78 668.50,64.73 668.75,66.55 669.00,65.39 669.25,65.47 669.50,64.25 669.75,62.24 670.00,57.81 670.25,54.08 670.50,45.03 670.75,32.08 670.76,31.63 671.00,44.66 671.25,52.69 671.50,57.85 671.75,61.92 672.00,63.04 672.25,64.22 672.50,66.22 672.75,65.45 673.00,64.50 673.25,61.62 673.50,59.87 673.75,55.11 674.00,48.74 674.25,36.19 674.33,32.00 674.50,40.95 674.75,49.76 675.00,56.20 675.25,60.93 675.50,62.55 675.75,63.96 676.00,65.72 676.25,66.02 676.50,65.18 676.75,62.97 677.00,61.26 677.25,58.53 677.50,52.54 677.75,44.39 678.00,32.42 678.11,25.14 678.25,33.41 678.50,44.71 678.75,52.91 679.00,57.97 679.25,61.48 679.50,63.80 679.75,64.65 680.00,65.03 680.25,64.59 680.50,62.68 680.75,61.00 681.00,57.35 681.25,53.72 681.50,44.46 681.75,30.52 681.77,29.18 682.00,42.20 682.25,50.50 682.50,56.61 682.75,60.19 683.00,63.27 683.25,64.05 683.50,64.78 683.75,64.92 684.00,64.32 684.25,63.80 684.50,62.05 684.75,60.07 685.00,55.02 685.25,49.30 685.50,38.56 685.52,37.60 685.75,46.68 686.00,53.98 686.25,59.40 686.50,62.52 686.75,63.70 687.00,65.10 687.25,65.22 687.50,64.30 687.75,62.90 688.00,61.73 688.25,58.30 688.50,53.11 688.75,45.35 689.00,33.63 689.18,20.31 689.25,25.00 689.50,41.31 689.75,50.13 690.00,56.06 690.25,60.64 690.50,62.84 690.75,63.83 691.00,65.14 691.25,63.36 691.50,62.04 691.75,58.81 692.00,56.74 692.25,49.18 692.50,41.03 692.75,25.40 692.79,22.06 693.00,36.27 693.25,47.51 693.50,54.66 693.75,59.67 694.00,61.77 694.25,63.81 694.50,64.20 694.75,64.73 695.00,63.24 695.25,61.04 695.50,58.24 695.75,53.56 696.00,46.28 696.25,34.74 696.43,22.13 696.50,27.44 696.75,42.27 697.00,49.99 697.25,56.21 697.50,60.89 697.75,61.04 698.00,63.50 698.25,65.52 698.50,63.65 698.75,64.69 699.00,60.39 699.25,59.72 699.50,55.56 699.75,48.58 700.00,37.53 700.04,35.58 700.25,44.70 700.50,53.27 700.75,57.21 701.00,60.74 701.25,63.34 701.50,63.53 701.75,64.70 702.00,64.81 702.25,63.18 702.50,63.04 702.75,60.45 703.00,56.08 703.25,51.41 703.50,42.52 703.70,32.47 703.75,35.85 704.00,46.55 704.25,54.43 704.50,58.06 704.75,61.74 705.00,63.02 705.25,64.61 705.50,64.79 705.75,64.17 706.00,62.85 706.25,62.14 706.50,59.85 706.75,56.56 707.00,50.02 707.25,39.85 707.32,35.97 707.50,44.60 707.75,52.31 708.00,58.08 708.25,61.00 708.50,62.13 708.75,63.49 709.00,65.33 709.25,64.93 709.50,63.92 709.75,63.46 710.00,60.84 710.25,58.01 710.50,53.38 710.75,45.48 710.95,38.43 711.00,39.93 711.25,49.55 711.50,55.36 711.75,59.83 712.00,61.81 712.25,63.35 712.50,63.46 712.75,64.79 713.00,63.44 713.25,63.31 713.50,61.73 713.75,59.01 714.00,56.06 714.25,49.02 714.49,39.89 714.50,40.36 714.75,49.54 715.00,56.05 715.25,59.89 715.50,61.07 715.75,63.76 716.00,64.45 716.25,65.03 716.50,64.03 716.75,61.98 717.00,60.15 717.25,58.70 717.50,53.29 717.75,45.16 718.00,34.55 718.07,30.19 718.25,39.52 718.50,48.56 718.75,54.77 719.00,59.43 719.25,61.64 719.50,63.03 719.75,64.25 720.00,65.05 720.25,63.11 720.50,63.10 720.75,61.39 721.00,58.92 721.25,55.70 721.50,50.29 721.75,41.38 721.84,36.44 722.00,44.10 722.25,53.14 722.50,56.55 722.75,59.37 723.00,62.34 723.25,63.76 723.50,64.49 723.75,63.67 724.00,63.90 724.25,61.71 724.50,59.50 724.75,56.56 725.00,51.76 725.25,44.22 725.43,35.93 725.50,39.35 725.75,49.41 726.00,55.06 726.25,59.32 726.50,60.61 726.75,62.08 727.00,64.23 727.25,62.98 727.50,62.44 727.75,60.83 728.00,57.95 728.25,53.74 728.50,48.00 728.75,35.55 728.98,22.42 729.00,24.74 729.25,38.90 729.50,48.59 729.75,55.13 730.00,59.59 730.25,60.56 730.50,62.76 730.75,64.17 731.00,63.85 731.25,62.57 731.50,61.11 731.75,57.88 732.00,53.89 732.25,46.88 732.50,36.41 732.64,28.32 732.75,35.00 733.00,45.56 733.25,53.95 733.50,57.55 733.75,59.76 734.00,62.79 734.25,63.00 734.50,64.56 734.75,63.70 735.00,62.88 735.25,61.35 735.50,58.63 735.75,55.25 736.00,50.43 736.25,39.14 736.38,33.35 736.50,39.58 736.75,48.30 737.00,54.15 737.25,59.72 737.50,60.87 737.75,63.63 738.00,64.19 738.25,63.18 738.50,62.17 738.75,60.34 739.00,57.60 739.25,52.50 739.50,44.91 739.75,33.19 739.90,23.94 740.00,30.83 740.25,42.62 740.50,50.86 740.75,56.45 741.00,59.21 741.25,61.39 741.50,62.40 741.75,63.58 742.00,63.09 742.25,62.07 742.50,59.52 742.75,57.32 743.00,51.15 743.25,44.76 743.50,31.03 743.51,30.38 743.75,42.39 744.00,49.42 744.25,55.95 744.50,59.42 744.75,62.38 745.00,62.05 745.25,64.54 745.50,62.62 745.75,61.77 746.00,58.05 746.25,56.10 746.50,50.68 746.75,43.03 747.00,29.88 747.08,23.82 747.25,35.70 747.50,46.44 747.75,53.29 748.00,57.87 748.25,60.68 748.50,61.88 748.75,62.91 749.00,62.10 749.25,62.23 749.50,59.95 749.75,56.57 750.00,51.46 750.25,44.07 750.50,32.05 750.56,28.15 750.75,38.70 751.00,49.57 751.25,54.58 751.50,57.96 751.75,60.02 752.00,61.83 752.25,63.52 752.50,63.46 752.75,61.94 753.00,60.47 753.25,57.76 753.50,53.37 753.75,48.29 754.00,37.94 754.24,24.50 754.25,23.94 754.50,39.03 754.75,48.92 755.00,54.30 755.25,57.51 755.50,60.12 755.75,62.16 756.00,63.39 756.25,62.29 756.50,61.45 756.75,59.25 757.00,55.47 757.25,49.90 757.50,41.22 757.75,28.17 757.85,21.07 758.00,31.21 758.25,43.64 758.50,51.01 758.75,55.40 759.00,58.72 759.25,61.59 759.50,62.68 759.75,63.56 760.00,61.71 760.25,60.41 760.50,57.95 760.75,53.55 761.00,46.09 761.25,35.82 761.47,22.04 761.50,23.92 761.75,39.32 762.00,48.91 762.25,54.06 762.50,59.03 762.75,60.28 763.00,61.82 763.25,62.81 763.50,61.64 763.75,60.74 764.00,58.23 764.25,55.41 764.50,49.16 764.75,40.11 765.00,25.53 765.02,23.69 765.25,38.18 765.50,47.39 765.75,54.37 766.00,57.74 766.25,61.03 766.50,62.12 766.75,63.15 767.00,62.23 767.25,60.88 767.50,58.99 767.75,55.79 768.00,49.74 768.25,42.09 768.50,30.17 768.66,16.73 768.75,23.76 769.00,38.33 769.25,47.34 769.50,54.61 769.75,57.82 770.00,60.33 770.25,62.62 770.50,63.46 770.75,60.52 771.00,59.54 771.25,56.26 771.50,51.32 771.75,43.76 772.00,31.53 772.22,16.01 772.25,17.94 772.50,34.84 772.75,46.10 773.00,52.79 773.25,56.92 773.50,59.62 773.75,62.08 774.00,63.18 774.25,62.12 774.50,60.53 774.75,58.89 775.00,55.56 775.25,51.45 775.50,44.14 775.75,31.36 775.81,28.55 776.00,39.15 776.25,48.17 776.50,53.48 776.75,58.32 777.00,59.70 777.25,60.93 777.50,62.36 777.75,62.16 778.00,61.52 778.25,59.81 778.50,56.50 778.75,51.35 779.00,44.61 779.25,33.45 779.32,29.51 779.50,38.19 779.75,48.27 780.00,54.33 780.25,57.60 780.50,60.24 780.75,61.01 781.00,62.10 781.25,61.80 781.50,61.58 781.75,59.76 782.00,56.25 782.25,52.74 782.50,45.13 782.75,35.27 782.82,30.61 783.00,39.42 783.25,48.93 783.50,53.78 783.75,57.28 784.00,59.29 784.25,61.58 784.50,62.33 784.75,61.93 785.00,60.62 785.25,59.75 785.50,55.99 785.75,51.39 786.00,45.37 786.25,34.42 786.50,16.49 786.52,13.41 786.75,30.74 787.00,43.34 787.25,50.65 787.50,56.25 787.75,57.85 788.00,60.81 788.25,61.78 788.50,61.74 788.75,59.44 789.00,57.47 789.25,52.67 789.50,46.05 789.75,36.38 790.00,21.17 790.07,14.89 790.25,29.27 790.50,42.17 790.75,49.77 791.00,54.28 791.25,58.02 791.50,59.81 791.75,62.20 792.00,62.32 792.25,61.48 792.50,59.57 792.75,56.47 793.00,53.47 793.25,47.60 793.50,39.37 793.69,29.39 793.75,32.75 794.00,44.12 794.25,52.19 794.50,55.42 794.75,58.29 795.00,60.45 795.25,61.36 795.50,61.56 795.75,60.93 796.00,59.78 796.25,55.27 796.50,51.81 796.75,45.01 797.00,34.19 797.25,17.19 797.27,15.53 797.50,32.68 797.75,43.44 798.00,50.91 798.25,55.60 798.50,58.59 798.75,60.32 799.00,62.93 799.25,61.72 799.50,60.70 799.75,58.84 800.00,55.62 800.25,51.39 800.50,44.47 800.75,34.37 800.82,30.16 801.00,39.38 801.25,48.68 801.50,54.32 801.75,56.66 802.00,60.59 802.25,61.16 802.50,62.21 802.75,62.04 803.00,60.34 803.25,58.12 803.50,56.55 803.75,50.25 804.00,43.38 804.25,32.27 804.36,24.57 804.50,33.91 804.75,44.95 805.00,52.82 805.25,55.52 805.50,58.70 805.75,60.81 806.00,61.63 806.25,61.29 806.50,61.16 806.75,59.53 807.00,57.37 807.25,54.05 807.50,48.22 807.75,38.83 807.98,25.58 808.00,25.96 808.25,39.95 808.50,48.69 808.75,53.82 809.00,57.52 809.25,59.24 809.50,61.81 809.75,62.75 810.00,60.44 810.25,59.21 810.50,56.34 810.75,53.06 811.00,46.30 811.25,36.14 811.50,20.25 811.53,17.60 811.75,31.88 812.00,44.05 812.25,50.55 812.50,55.74 812.75,58.43 813.00,60.75 813.25,62.36 813.50,62.29 813.75,60.39 814.00,59.69 814.25,56.97 814.50,53.55 814.75,47.77 815.00,39.20 815.10,33.06 815.25,41.41 815.50,48.58 815.75,55.05 816.00,56.71 816.25,59.25 816.50,60.22 816.75,62.71 817.00,61.01 817.25,60.75 817.50,58.90 817.75,55.87 818.00,52.83 818.25,47.39 818.50,37.62 818.67,29.12 818.75,33.34 819.00,44.39 819.25,51.10 819.50,55.84 819.75,59.40 820.00,60.39 820.25,61.42 820.50,61.51 820.75,60.60 821.00,60.39 821.25,57.02 821.50,53.85 821.75,49.10 822.00,40.82 822.25,29.22 822.33,21.74 822.50,33.94 822.75,44.88 823.00,50.79 823.25,55.36 823.50,58.65 823.75,60.99 824.00,60.82 824.25,61.02 824.50,61.49 824.75,60.49 825.00,57.56 825.25,53.48 825.50,50.35 825.75,41.72 825.95,33.21 826.00,35.45 826.25,45.40 826.50,51.78 826.75,56.81 827.00,59.38 827.25,59.23 827.50,60.87 827.75,62.71 828.00,60.87 828.25,59.17 828.50,57.96 828.75,54.92 829.00,50.23 829.25,42.65 829.50,31.09 829.54,28.69 829.75,39.99 830.00,47.92 830.25,53.58 830.50,57.07 830.75,59.97 831.00,60.87 831.25,61.56 831.50,61.03 831.75,59.62 832.00,57.86 832.25,54.25 832.50,49.67 832.75,41.21 833.00,27.56 833.05,23.83 833.25,36.25 833.50,46.01 833.75,52.02 834.00,55.33 834.25,57.69 834.50,60.39 834.75,61.43 835.00,60.31 835.25,57.47 835.50,55.80 835.75,50.57 836.00,44.02" fill="none" stroke="#FF7C80" stroke-width="1" stroke-linejoin="round" stroke-opacity="0.62"/>
<polyline points="108.00,150.60 108.25,150.24 108.50,149.91 108.75,149.81 109.00,149.88 109.25,149.69 109.50,149.89 109.75,149.09 110.00,150.04 110.25,149.96 110.50,150.87 110.75,150.23 111.00,149.80 111.25,150.16 111.50,149.53 111.75,149.74 112.00,149.30 112.25,150.45 112.50,150.15 112.75,149.53 113.00,149.92 113.25,150.27 113.50,150.11 113.75,150.06 114.00,149.63 114.25,142.56 114.50,121.39 114.60,108.78 114.75,115.38 115.00,123.62 115.25,130.10 115.40,131.93 115.50,134.08 115.75,136.70 116.00,139.12 116.25,141.12 116.50,142.11 116.75,143.25 117.00,143.58 117.25,144.44 117.50,145.58 117.75,146.46 118.00,146.91 118.25,147.66 118.50,147.33 118.75,147.62 119.00,148.19 119.25,148.09 119.50,148.28 119.75,148.12 120.00,149.00 120.25,148.42 120.50,149.11 120.75,148.54 121.00,149.52 121.25,148.86 121.50,149.59 121.75,148.80 122.00,149.26 122.11,149.85 122.25,147.29 122.50,135.27 122.71,116.27 122.75,117.22 122.86,122.00 123.00,126.25 123.11,128.30 123.25,131.75 123.50,135.05 123.51,135.06 123.75,138.04 124.00,139.81 124.25,142.39 124.50,142.26 124.75,144.05 125.00,144.95 125.25,144.59 125.50,145.26 125.75,146.56 126.00,146.62 126.25,147.30 126.50,147.89 126.75,147.64 127.00,147.64 127.25,147.27 127.50,148.49 127.75,148.25 128.00,148.83 128.25,148.93 128.50,148.47 128.75,149.65 129.00,149.51 129.25,149.50 129.50,148.85 129.75,149.18 130.00,149.18 130.06,149.24 130.25,144.58 130.50,125.13 130.66,103.05 130.75,107.89 130.81,110.70 131.00,118.70 131.06,120.40 131.25,124.38 131.46,129.46 131.50,130.28 131.75,134.21 132.00,136.44 132.25,138.51 132.50,140.00 132.75,141.79 133.00,142.50 133.25,143.37 133.50,144.10 133.75,145.23 134.00,145.44 134.25,145.54 134.50,146.79 134.75,146.71 135.00,147.41 135.25,147.71 135.50,148.25 135.75,148.42 136.00,148.05 136.25,148.36 136.50,148.12 136.75,149.29 137.00,148.97 137.25,149.40 137.50,148.89 137.75,148.36 138.00,149.68 138.04,149.19 138.25,145.01 138.50,128.57 138.64,113.54 138.75,118.19 138.79,119.03 139.00,126.21 139.04,126.71 139.25,130.99 139.44,134.74 139.50,135.20 139.75,137.45 140.00,138.93 140.25,141.19 140.50,142.56 140.75,143.35 141.00,143.78 141.25,144.65 141.50,145.08 141.75,146.11 142.00,146.77 142.25,147.23 142.50,146.95 142.75,147.58 143.00,147.94 143.25,147.79 143.50,148.12 143.75,149.08 144.00,148.56 144.25,148.93 144.50,148.58 144.75,148.84 145.00,148.31 145.25,148.98 145.50,149.47 145.75,149.85 145.84,149.55 146.00,146.74 146.25,131.59 146.44,111.29 146.50,113.96 146.59,117.91 146.75,122.70 146.84,125.77 147.00,128.69 147.24,132.49 147.25,132.89 147.50,135.69 147.75,138.04 148.00,140.65 148.25,141.55 148.50,142.81 148.75,144.05 149.00,144.86 149.25,144.89 149.50,146.10 149.75,146.25 150.00,146.54 150.25,147.06 150.50,146.72 150.75,147.22 151.00,147.70 151.25,148.17 151.50,148.01 151.75,148.25 152.00,148.78 152.25,149.06 152.50,148.94 152.75,149.21 153.00,148.71 153.25,148.81 153.50,149.09 153.75,148.93 153.77,148.86 154.00,143.90 154.25,123.50 154.37,108.59 154.50,114.63 154.52,116.07 154.75,123.09 154.77,124.14 155.00,128.75 155.17,131.73 155.25,132.77 155.50,135.94 155.75,138.86 156.00,139.55 156.25,141.90 156.50,142.10 156.75,143.30 157.00,144.46 157.25,145.06 157.50,145.52 157.75,145.34 158.00,146.48 158.25,146.37 158.50,147.95 158.75,147.26 159.00,147.66 159.25,147.41 159.50,147.83 159.75,147.71 160.00,148.65 160.25,148.35 160.50,148.75 160.75,148.41 161.00,148.56 161.25,149.26 161.50,148.53 161.60,148.26 161.75,146.34 162.00,129.66 162.20,107.12 162.25,110.16 162.35,113.91 162.50,120.14 162.60,122.51 162.75,127.10 163.00,131.68 163.00,131.10 163.25,134.56 163.50,136.85 163.75,139.13 164.00,140.98 164.25,141.30 164.50,143.14 164.75,143.21 165.00,144.10 165.25,144.40 165.50,146.30 165.75,146.05 166.00,146.52 166.25,146.55 166.50,147.47 166.75,146.63 167.00,147.61 167.25,148.57 167.50,147.85 167.75,148.14 168.00,148.51 168.25,148.11 168.50,148.51 168.75,148.93 169.00,148.74 169.25,148.87 169.50,148.68 169.69,148.95 169.75,148.43 170.00,138.91 170.25,115.39 170.29,110.81 170.44,116.39 170.50,119.83 170.69,125.30 170.75,126.29 171.00,130.75 171.09,132.34 171.25,135.20 171.50,137.03 171.75,139.15 172.00,140.89 172.25,142.44 172.50,142.99 172.75,143.79 173.00,144.33 173.25,145.69 173.50,146.01 173.75,146.05 174.00,145.98 174.25,146.53 174.50,147.30 174.75,147.10 175.00,147.89 175.25,147.90 175.50,148.05 175.75,148.32 176.00,148.40 176.25,148.04 176.50,148.32 176.75,149.34 177.00,148.18 177.25,148.50 177.50,149.10 177.72,148.71 177.75,148.42 178.00,140.02 178.25,118.69 178.32,109.26 178.47,116.43 178.50,116.93 178.72,124.39 178.75,124.32 179.00,130.05 179.12,131.78 179.25,133.81 179.50,136.75 179.75,138.93 180.00,139.82 180.25,141.90 180.50,142.35 180.75,143.04 181.00,144.08 181.25,144.26 181.50,145.32 181.75,145.90 182.00,146.14 182.25,146.75 182.50,146.76 182.75,147.15 183.00,146.88 183.25,147.61 183.50,147.48 183.75,147.77 184.00,148.04 184.25,148.26 184.50,147.72 184.75,147.84 185.00,148.36 185.25,148.71 185.50,148.73 185.75,148.97 185.86,149.13 186.00,146.67 186.25,131.15 186.46,106.47 186.50,108.06 186.61,113.43 186.75,118.84 186.86,122.30 187.00,125.72 187.25,130.50 187.26,130.99 187.50,134.10 187.75,136.70 188.00,138.67 188.25,139.92 188.50,141.01 188.75,142.58 189.00,143.43 189.25,143.94 189.50,144.51 189.75,146.00 190.00,145.41 190.25,146.01 190.50,146.54 190.75,146.36 191.00,147.08 191.25,147.90 191.50,147.81 191.75,147.89 192.00,148.03 192.25,148.00 192.50,148.42 192.75,148.14 193.00,148.14 193.25,148.40 193.50,148.75 193.75,148.61 193.93,148.77 194.00,147.31 194.25,137.72 194.50,113.49 194.53,108.66 194.68,115.30 194.75,117.70 194.93,123.67 195.00,124.98 195.25,130.62 195.33,131.47 195.50,134.28 195.75,137.05 196.00,137.86 196.25,140.23 196.50,141.14 196.75,141.93 197.00,143.07 197.25,143.94 197.50,145.00 197.75,144.64 198.00,146.01 198.25,146.75 198.50,146.61 198.75,146.90 199.00,146.97 199.25,146.80 199.50,147.60 199.75,147.73 200.00,148.01 200.25,148.79 200.50,148.26 200.75,148.26 201.00,148.75 201.25,147.81 201.50,147.95 201.75,148.28 201.88,148.21 202.00,147.11 202.25,133.80 202.48,110.91 202.50,112.57 202.63,117.54 202.75,121.32 202.88,125.17 203.00,128.08 203.25,131.81 203.28,132.68 203.50,135.57 203.75,137.73 204.00,139.98 204.25,141.25 204.50,141.67 204.75,142.94 205.00,143.38 205.25,144.54 205.50,144.61 205.75,145.72 206.00,145.96 206.25,146.53 206.50,146.46 206.75,146.29 207.00,147.66 207.25,147.20 207.50,147.92 207.75,147.76 208.00,147.98 208.25,148.51 208.50,148.10 208.75,148.57 209.00,147.64 209.25,148.54 209.50,148.21 209.75,148.30 209.94,148.39 210.00,148.07 210.25,138.18 210.50,112.86 210.54,108.95 210.69,115.37 210.75,118.42 210.94,123.54 211.00,125.46 211.25,130.17 211.34,131.90 211.50,134.23 211.75,136.34 212.00,138.48 212.25,139.52 212.50,141.37 212.75,142.59 213.00,142.95 213.25,144.26 213.50,143.76 213.75,144.37 214.00,144.99 214.25,145.71 214.50,146.24 214.75,146.51 215.00,146.78 215.25,147.28 215.50,147.07 215.75,146.97 216.00,147.13 216.25,148.44 216.50,147.00 216.75,147.86 217.00,148.52 217.25,148.26 217.50,147.87 217.75,148.22 217.90,148.56 218.00,147.67 218.25,134.91 218.50,109.81 218.50,109.14 218.65,116.14 218.75,119.73 218.90,123.64 219.00,125.62 219.25,131.01 219.30,132.31 219.50,134.50 219.75,136.84 220.00,139.50 220.25,139.79 220.50,141.68 220.75,142.15 221.00,143.20 221.25,143.92 221.50,145.02 221.75,144.68 222.00,145.27 222.25,145.29 222.50,146.36 222.75,146.33 223.00,146.90 223.25,146.60 223.50,147.05 223.75,147.71 224.00,147.43 224.25,147.85 224.50,147.93 224.75,147.72 225.00,147.39 225.25,148.35 225.50,148.14 225.75,148.48 225.99,147.48 226.00,147.59 226.25,140.18 226.50,120.17 226.59,110.25 226.74,116.87 226.75,117.14 226.99,124.48 227.00,125.03 227.25,129.85 227.39,132.25 227.50,133.67 227.75,135.52 228.00,138.17 228.25,140.34 228.50,140.98 228.75,142.10 229.00,142.79 229.25,143.55 229.50,144.73 229.75,144.77 230.00,144.96 230.25,144.63 230.50,145.86 230.75,145.67 231.00,145.99 231.25,147.13 231.50,147.30 231.75,146.56 232.00,147.68 232.25,147.68 232.50,147.36 232.75,147.99 233.00,147.26 233.25,147.48 233.50,147.47 233.75,147.64 234.00,148.39 234.03,147.62 234.25,142.13 234.50,122.03 234.63,105.75 234.75,111.41 234.78,113.21 235.00,120.38 235.03,121.11 235.25,126.65 235.43,130.14 235.50,130.84 235.75,134.41 236.00,137.30 236.25,138.28 236.50,139.95 236.75,141.59 237.00,141.87 237.25,142.63 237.50,143.25 237.75,144.38 238.00,144.94 238.25,145.16 238.50,145.63 238.75,146.40 239.00,146.56 239.25,146.03 239.50,146.74 239.75,146.98 240.00,147.37 240.25,147.20 240.50,147.18 240.75,147.37 241.00,147.01 241.25,147.71 241.50,147.59 241.75,148.02 241.92,147.54 242.00,146.98 242.25,134.95 242.50,108.73 242.52,106.81 242.67,113.60 242.75,117.09 242.92,121.79 243.00,124.36 243.25,128.83 243.32,130.34 243.50,132.87 243.75,135.92 244.00,137.81 244.25,139.28 244.50,140.91 244.75,141.74 245.00,142.74 245.25,143.57 245.50,143.92 245.75,144.39 246.00,145.08 246.25,145.24 246.50,145.88 246.75,146.44 247.00,146.63 247.25,146.44 247.50,146.33 247.75,146.94 248.00,147.08 248.25,147.65 248.50,147.25 248.75,147.42 249.00,147.84 249.25,147.50 249.50,147.68 249.75,148.40 249.92,148.36 250.00,147.32 250.25,135.74 250.50,109.96 250.52,108.04 250.67,114.79 250.75,117.90 250.92,122.73 251.00,124.98 251.25,129.86 251.32,131.09 251.50,133.93 251.75,136.14 252.00,137.40 252.25,139.18 252.50,140.21 252.75,141.51 253.00,142.83 253.25,143.50 253.50,143.77 253.75,144.61 254.00,144.71 254.25,144.88 254.50,145.23 254.75,145.73 255.00,146.79 255.25,146.06 255.50,147.16 255.75,147.37 256.00,147.00 256.25,147.18 256.50,147.10 256.75,147.41 257.00,147.74 257.25,147.59 257.50,148.01 257.75,148.13 257.92,147.87 258.00,147.11 258.25,134.48 258.50,106.77 258.52,103.69 258.67,111.27 258.75,114.46 258.92,119.84 259.00,123.10 259.25,127.49 259.32,128.75 259.50,131.82 259.75,133.92 260.00,136.50 260.25,137.95 260.50,139.52 260.75,140.94 261.00,142.05 261.25,143.12 261.50,143.71 261.75,144.43 262.00,144.73 262.25,144.81 262.50,145.75 262.75,145.53 263.00,145.78 263.25,146.78 263.50,146.75 263.75,146.75 264.00,147.11 264.25,147.30 264.50,146.65 264.75,147.21 265.00,146.93 265.25,147.47 265.50,147.27 265.75,148.04 265.88,147.78 266.00,145.41 266.25,130.00 266.48,102.07 266.50,103.40 266.63,109.95 266.75,114.91 266.88,118.41 267.00,122.39 267.25,128.02 267.28,128.41 267.50,132.06 267.75,134.02 268.00,136.81 268.25,138.10 268.50,139.77 268.75,140.97 269.00,142.02 269.25,142.39 269.50,143.34 269.75,143.47 270.00,143.90 270.25,145.03 270.50,145.21 270.75,145.01 271.00,145.57 271.25,146.14 271.50,146.90 271.75,146.92 272.00,147.01 272.25,146.26 272.50,146.98 272.75,147.30 273.00,147.37 273.25,147.47 273.50,147.32 273.75,148.08 273.97,148.04 274.00,147.41 274.25,138.01 274.50,114.86 274.57,104.18 274.72,111.92 274.75,113.29 274.97,120.04 275.00,121.23 275.25,126.83 275.37,129.33 275.50,131.18 275.75,134.75 276.00,136.55 276.25,138.11 276.50,139.92 276.75,140.59 277.00,141.52 277.25,143.25 277.50,142.88 277.75,143.59 278.00,144.30 278.25,144.37 278.50,144.39 278.75,145.84 279.00,145.49 279.25,145.84 279.50,146.13 279.75,146.11 280.00,146.26 280.25,146.84 280.50,147.76 280.75,147.29 281.00,147.40 281.25,146.70 281.50,147.29 281.75,146.95 282.00,147.70 282.16,147.38 282.25,146.70 282.50,135.24 282.75,109.99 282.76,108.31 282.91,115.12 283.00,117.53 283.16,122.52 283.25,124.92 283.50,129.62 283.56,130.96 283.75,133.66 284.00,135.93 284.25,137.84 284.50,139.29 284.75,140.80 285.00,140.86 285.25,142.47 285.50,142.72 285.75,143.23 286.00,144.18 286.25,144.50 286.50,145.23 286.75,145.76 287.00,144.86 287.25,145.91 287.50,146.85 287.75,146.66 288.00,147.04 288.25,146.72 288.50,146.32 288.75,146.54 289.00,147.29 289.25,147.46 289.50,146.95 289.75,147.18 290.00,147.42 290.10,146.74 290.25,144.39 290.50,127.11 290.70,99.79 290.75,102.48 290.85,108.45 291.00,113.81 291.10,117.25 291.25,120.95 291.50,127.44 291.50,127.03 291.75,131.78 292.00,133.95 292.25,136.09 292.50,137.13 292.75,139.69 293.00,140.20 293.25,141.25 293.50,141.36 293.75,143.17 294.00,143.80 294.25,143.78 294.50,144.48 294.75,144.99 295.00,145.54 295.25,145.55 295.50,146.38 295.75,145.93 296.00,146.01 296.25,146.24 296.50,145.67 296.75,146.41 297.00,147.16 297.25,147.01 297.50,146.72 297.75,147.21 298.00,146.45 298.04,147.07 298.25,142.97 298.50,126.28 298.64,111.27 298.75,116.21 298.79,118.00 299.00,123.60 299.04,124.99 299.25,128.54 299.44,131.34 299.50,133.04 299.75,135.54 300.00,137.62 300.25,138.92 300.50,140.26 300.75,141.66 301.00,142.82 301.25,142.85 301.50,142.95 301.75,144.50 302.00,144.71 302.25,145.13 302.50,145.29 302.75,146.33 303.00,145.80 303.25,146.18 303.50,145.55 303.75,146.16 304.00,146.28 304.25,146.64 304.50,146.88 304.75,146.60 305.00,147.56 305.25,146.65 305.50,146.93 305.74,147.23 305.75,146.71 306.00,139.08 306.25,114.85 306.34,101.28 306.49,109.68 306.50,109.29 306.74,118.50 306.75,118.23 307.00,124.33 307.14,127.47 307.25,129.28 307.50,132.50 307.75,135.38 308.00,136.18 308.25,138.14 308.50,139.15 308.75,141.30 309.00,141.50 309.25,142.27 309.50,142.71 309.75,143.96 310.00,143.99 310.25,144.63 310.50,144.20 310.75,145.65 311.00,145.65 311.25,145.95 311.50,146.41 311.75,146.09 312.00,146.27 312.25,146.72 312.50,146.74 312.75,146.61 313.00,146.81 313.25,146.70 313.50,147.20 313.70,147.33 313.75,146.74 314.00,137.63 314.25,112.52 314.30,106.48 314.45,113.93 314.50,115.09 314.70,121.08 314.75,123.42 315.00,128.40 315.10,129.45 315.25,132.22 315.50,134.33 315.75,136.29 316.00,138.33 316.25,139.52 316.50,140.37 316.75,141.52 317.00,142.05 317.25,143.06 317.50,143.59 317.75,144.34 318.00,144.33 318.25,144.39 318.50,144.71 318.75,145.36 319.00,146.23 319.25,146.20 319.50,145.86 319.75,146.58 320.00,145.98 320.25,146.87 320.50,146.48 320.75,146.98 321.00,147.01 321.25,146.77 321.50,147.04 321.62,146.58 321.75,144.96 322.00,130.92 322.22,106.64 322.25,108.54 322.37,113.48 322.50,117.91 322.62,122.08 322.75,124.39 323.00,129.34 323.02,130.01 323.25,132.54 323.50,135.97 323.75,137.71 324.00,138.61 324.25,139.82 324.50,140.55 324.75,141.36 325.00,142.72 325.25,143.39 325.50,143.82 325.75,144.24 326.00,144.35 326.25,145.01 326.50,144.67 326.75,145.45 327.00,146.20 327.25,146.34 327.50,145.89 327.75,146.09 328.00,146.82 328.25,147.09 328.50,146.03 328.75,146.50 329.00,146.81 329.25,147.22 329.32,146.52 329.50,142.97 329.75,123.03 329.92,100.22 330.00,104.71 330.07,108.04 330.25,115.14 330.32,118.00 330.50,122.75 330.72,126.69 330.75,127.64 331.00,130.73 331.25,133.65 331.50,135.55 331.75,137.20 332.00,138.77 332.25,139.78 332.50,141.25 332.75,142.14 333.00,142.46 333.25,142.74 333.50,143.93 333.75,143.38 334.00,143.80 334.25,145.07 334.50,145.35 334.75,145.72 335.00,145.52 335.25,145.35 335.50,145.79 335.75,146.32 336.00,145.98 336.25,146.12 336.50,145.98 336.75,146.15 337.00,146.93 337.25,146.86 337.32,146.31 337.50,142.31 337.75,123.69 337.92,102.67 338.00,106.57 338.07,110.06 338.25,116.28 338.32,118.70 338.50,123.99 338.72,128.39 338.75,128.19 339.00,131.75 339.25,134.86 339.50,136.41 339.75,137.92 340.00,139.56 340.25,140.50 340.50,141.70 340.75,142.34 341.00,142.51 341.25,143.23 341.50,143.73 341.75,143.70 342.00,144.20 342.25,145.20 342.50,144.58 342.75,145.73 343.00,145.70 343.25,145.73 343.50,146.13 343.75,146.25 344.00,146.64 344.25,146.18 344.50,146.34 344.75,146.41 345.00,147.23 345.25,146.97 345.35,146.33 345.50,143.38 345.75,124.43 345.95,98.03 346.00,101.28 346.10,107.04 346.25,112.17 346.35,116.54 346.50,120.80 346.75,125.78 346.75,126.04 347.00,129.83 347.25,132.93 347.50,135.50 347.75,136.38 348.00,138.80 348.25,139.39 348.50,141.05 348.75,141.51 349.00,142.52 349.25,142.91 349.50,143.63 349.75,143.74 350.00,143.84 350.25,144.73 350.50,145.06 350.75,145.82 351.00,144.62 351.25,145.46 351.50,146.08 351.75,145.43 352.00,145.93 352.25,146.88 352.50,146.74 352.75,146.02 353.00,146.91 353.21,146.89 353.25,146.57 353.50,135.78 353.75,108.59 353.81,99.20 353.96,107.01 354.00,109.18 354.21,116.94 354.25,118.70 354.50,124.19 354.61,125.63 354.75,128.62 355.00,132.07 355.25,134.55 355.50,136.35 355.75,137.57 356.00,139.64 356.25,139.93 356.50,141.29 356.75,141.70 357.00,142.03 357.25,143.51 357.50,142.62 357.75,143.63 358.00,144.45 358.25,144.49 358.50,145.16 358.75,145.11 359.00,145.21 359.25,146.31 359.50,145.64 359.75,145.80 360.00,145.61 360.25,145.83 360.50,146.42 360.75,146.47 361.00,146.35 361.12,146.13 361.25,144.87 361.50,130.94 361.72,109.65 361.75,111.02 361.87,115.58 362.00,120.29 362.12,123.19 362.25,126.09 362.50,131.27 362.52,131.15 362.75,134.10 363.00,135.96 363.25,138.01 363.50,139.31 363.75,140.56 364.00,141.88 364.25,141.73 364.50,142.55 364.75,142.99 365.00,142.26 365.25,143.42 365.50,144.27 365.75,144.80 366.00,144.65 366.25,145.49 366.50,145.75 366.75,145.33 367.00,146.14 367.25,146.39 367.50,146.06 367.75,145.66 368.00,146.61 368.25,146.12 368.50,146.11 368.75,146.35 368.94,146.16 369.00,146.32 369.25,135.40 369.50,109.99 369.54,104.02 369.69,110.90 369.75,113.50 369.94,120.14 370.00,121.30 370.25,127.88 370.34,128.32 370.50,130.50 370.75,133.93 371.00,135.92 371.25,137.32 371.50,138.60 371.75,139.93 372.00,140.99 372.25,141.75 372.50,142.04 372.75,142.87 373.00,143.51 373.25,143.91 373.50,142.94 373.75,144.03 374.00,144.36 374.25,144.80 374.50,145.16 374.75,145.61 375.00,145.67 375.25,145.55 375.50,145.73 375.75,146.45 376.00,145.71 376.25,146.12 376.50,146.63 376.75,146.27 376.96,145.48 377.00,146.10 377.25,135.14 377.50,108.47 377.56,100.10 377.71,108.06 377.75,109.68 377.96,117.63 378.00,118.74 378.25,124.67 378.36,126.75 378.50,129.00 378.75,131.92 379.00,134.25 379.25,136.27 379.50,137.41 379.75,138.51 380.00,140.42 380.25,140.74 380.50,141.55 380.75,142.14 381.00,142.74 381.25,143.22 381.50,143.64 381.75,143.70 382.00,144.62 382.25,144.32 382.50,145.17 382.75,144.34 383.00,144.83 383.25,145.70 383.50,145.44 383.75,145.38 384.00,145.85 384.25,145.45 384.50,145.92 384.69,145.17 384.75,145.40 385.00,135.84 385.25,114.03 385.29,109.48 385.44,115.38 385.50,118.42 385.69,122.97 385.75,123.93 386.00,128.48 386.09,131.13 386.25,132.60 386.50,134.83 386.75,136.64 387.00,137.96 387.25,139.98 387.50,140.42 387.75,141.87 388.00,141.85 388.25,141.67 388.50,143.29 388.75,143.29 389.00,143.71 389.25,144.66 389.50,144.30 389.75,145.05 390.00,144.85 390.25,144.78 390.50,145.38 390.75,145.14 391.00,145.90 391.25,145.92 391.50,145.70 391.75,145.97 392.00,146.03 392.25,145.80 392.50,146.26 392.55,145.88 392.75,141.30 393.00,121.15 393.15,102.83 393.25,108.14 393.30,109.84 393.50,117.36 393.55,118.75 393.75,124.22 393.95,127.41 394.00,128.64 394.25,132.28 394.50,134.32 394.75,135.51 395.00,137.62 395.25,139.16 395.50,139.71 395.75,141.05 396.00,141.60 396.25,142.15 396.50,142.45 396.75,142.83 397.00,143.32 397.25,143.79 397.50,144.26 397.75,144.49 398.00,144.47 398.25,144.81 398.50,145.10 398.75,144.55 399.00,144.99 399.25,145.09 399.50,145.41 399.75,145.47 400.00,145.56 400.25,145.41 400.50,146.01 400.67,145.91 400.75,144.30 401.00,130.60 401.25,98.66 401.27,96.30 401.42,104.50 401.50,108.34 401.67,114.81 401.75,117.29 402.00,123.46 402.07,125.33 402.25,127.91 402.50,131.33 402.75,133.87 403.00,135.04 403.25,137.51 403.50,138.43 403.75,139.58 404.00,139.84 404.25,141.20 404.50,141.72 404.75,141.96 405.00,143.44 405.25,143.27 405.50,143.37 405.75,143.85 406.00,144.39 406.25,144.72 406.50,144.74 406.75,145.16 407.00,145.41 407.25,144.61 407.50,145.00 407.75,144.96 408.00,145.42 408.25,145.97 408.50,145.77 408.54,145.19 408.75,140.92 409.00,123.50 409.14,106.61 409.25,111.41 409.29,113.33 409.50,119.39 409.54,121.49 409.75,125.97 409.94,129.33 410.00,129.58 410.25,132.61 410.50,134.87 410.75,136.87 411.00,138.16 411.25,139.29 411.50,140.78 411.75,141.38 412.00,141.33 412.25,141.91 412.50,143.23 412.75,142.94 413.00,143.90 413.25,144.30 413.50,143.82 413.75,144.16 414.00,144.50 414.25,144.35 414.50,144.47 414.75,144.82 415.00,145.38 415.25,145.03 415.50,145.21 415.75,145.20 416.00,144.96 416.25,146.02 416.46,144.72 416.50,145.14 416.75,136.93 417.00,114.54 417.06,108.07 417.21,114.86 417.25,115.62 417.46,122.17 417.50,122.72 417.75,128.21 417.86,129.72 418.00,131.60 418.25,134.55 418.50,136.17 418.75,137.98 419.00,138.94 419.25,139.28 419.50,140.62 419.75,141.40 420.00,141.32 420.25,142.80 420.50,142.80 420.75,143.29 421.00,143.18 421.25,143.81 421.50,144.15 421.75,144.15 422.00,144.49 422.25,143.89 422.50,145.25 422.75,144.52 423.00,144.26 423.25,144.78 423.50,144.91 423.75,145.47 424.00,145.02 424.25,145.50 424.29,145.07 424.50,141.09 424.75,121.63 424.89,105.42 425.00,110.40 425.04,112.42 425.25,119.07 425.29,120.57 425.50,125.53 425.69,127.91 425.75,129.01 426.00,131.99 426.25,134.10 426.50,136.10 426.75,137.39 427.00,138.34 427.25,139.81 427.50,140.75 427.75,140.77 428.00,141.61 428.25,142.30 428.50,142.64 428.75,142.85 429.00,143.71 429.25,144.00 429.50,144.19 429.75,144.10 430.00,145.05 430.25,145.13 430.50,144.53 430.75,144.75 431.00,145.32 431.25,144.72 431.50,145.22 431.75,145.17 431.98,144.96 432.00,145.06 432.25,136.15 432.50,113.84 432.58,104.41 432.73,112.12 432.75,112.84 432.98,120.12 433.00,120.46 433.25,126.20 433.38,128.40 433.50,130.09 433.75,132.90 434.00,134.40 434.25,136.53 434.50,137.53 434.75,138.40 435.00,139.32 435.25,140.64 435.50,141.51 435.75,141.23 436.00,142.81 436.25,143.14 436.50,142.86 436.75,143.15 437.00,143.57 437.25,144.18 437.50,143.92 437.75,143.85 438.00,144.52 438.25,143.82 438.50,144.72 438.75,145.18 439.00,144.98 439.25,145.22 439.50,145.20 439.75,145.34 439.79,145.14 440.00,139.90 440.25,121.40 440.39,104.99 440.50,110.61 440.54,112.35 440.75,119.06 440.79,119.74 441.00,124.60 441.19,128.06 441.25,129.50 441.50,132.14 441.75,134.26 442.00,135.76 442.25,137.72 442.50,138.64 442.75,139.45 443.00,140.30 443.25,141.52 443.50,141.45 443.75,142.60 444.00,142.87 444.25,142.83 444.50,143.45 444.75,143.38 445.00,143.39 445.25,143.80 445.50,143.76 445.75,144.43 446.00,144.40 446.25,144.72 446.50,144.92 446.75,143.63 447.00,144.92 447.25,144.25 447.50,145.00 447.64,144.67 447.75,143.68 448.00,130.51 448.24,102.70 448.25,103.16 448.39,109.83 448.50,113.33 448.64,118.73 448.75,121.32 449.00,126.19 449.04,126.82 449.25,131.10 449.50,132.51 449.75,134.05 450.00,135.95 450.25,137.44 450.50,138.50 450.75,139.49 451.00,139.91 451.25,141.11 451.50,141.31 451.75,141.49 452.00,142.10 452.25,142.61 452.50,143.36 452.75,143.51 453.00,143.47 453.25,143.80 453.50,144.06 453.75,144.86 454.00,144.07 454.25,144.57 454.50,144.77 454.75,144.27 455.00,144.75 455.25,144.82 455.31,144.61 455.50,140.27 455.75,119.55 455.91,96.85 456.00,101.82 456.06,105.02 456.25,113.54 456.31,114.39 456.50,120.12 456.71,124.79 456.75,125.22 457.00,129.09 457.25,131.68 457.50,134.01 457.75,135.89 458.00,136.73 458.25,138.01 458.50,138.88 458.75,139.57 459.00,140.41 459.25,140.62 459.50,141.80 459.75,142.59 460.00,142.99 460.25,143.18 460.50,142.70 460.75,143.83 461.00,143.28 461.25,143.71 461.50,144.55 461.75,143.69 462.00,144.49 462.25,144.41 462.50,144.36 462.75,144.20 463.00,144.73 463.13,144.46 463.25,143.28 463.50,128.57 463.73,101.03 463.75,101.92 463.88,108.31 464.00,112.72 464.13,116.97 464.25,120.58 464.50,125.62 464.53,125.62 464.75,129.17 465.00,132.26 465.25,133.73 465.50,135.46 465.75,137.66 466.00,138.65 466.25,138.54 466.50,139.41 466.75,140.68 467.00,140.70 467.25,141.52 467.50,141.88 467.75,142.61 468.00,141.86 468.25,142.25 468.50,142.85 468.75,143.85 469.00,143.63 469.25,143.25 469.50,144.16 469.75,144.37 470.00,144.14 470.25,144.21 470.50,144.56 470.75,144.90 471.00,144.60 471.04,144.74 471.25,139.34 471.50,118.69 471.64,99.78 471.75,105.38 471.79,107.25 472.00,115.05 472.04,116.85 472.25,121.99 472.44,125.89 472.50,125.94 472.75,130.07 473.00,132.20 473.25,134.07 473.50,135.61 473.75,137.60 474.00,138.51 474.25,138.86 474.50,139.46 474.75,140.51 475.00,140.90 475.25,142.13 475.50,141.45 475.75,141.69 476.00,142.56 476.25,142.93 476.50,143.22 476.75,143.65 477.00,144.30 477.25,143.62 477.50,143.69 477.75,143.38 478.00,144.19 478.25,144.50 478.50,144.19 478.75,144.77 478.92,144.41 479.00,144.35 479.25,133.35 479.50,108.96 479.52,106.26 479.67,112.19 479.75,114.81 479.92,120.65 480.00,122.68 480.25,127.84 480.32,128.27 480.50,130.48 480.75,132.67 481.00,135.31 481.25,136.59 481.50,137.44 481.75,138.87 482.00,139.65 482.25,139.50 482.50,141.01 482.75,141.31 483.00,141.57 483.25,141.94 483.50,143.03 483.75,143.25 484.00,143.61 484.25,142.79 484.50,143.16 484.75,143.87 485.00,143.28 485.25,143.58 485.50,143.32 485.75,144.69 486.00,144.50 486.25,144.37 486.47,144.34 486.50,144.05 486.75,136.14 487.00,115.46 487.07,106.65 487.22,113.46 487.25,113.86 487.47,120.44 487.50,121.88 487.75,126.43 487.87,128.58 488.00,129.91 488.25,131.88 488.50,134.83 488.75,135.71 489.00,137.79 489.25,137.87 489.50,138.60 489.75,140.07 490.00,140.71 490.25,141.12 490.50,141.11 490.75,142.24 491.00,141.75 491.25,142.40 491.50,142.54 491.75,142.91 492.00,143.54 492.25,143.19 492.50,143.76 492.75,143.94 493.00,143.21 493.25,143.50 493.50,143.86 493.75,143.86 494.00,144.24 494.08,143.48 494.25,140.46 494.50,119.99 494.68,94.01 494.75,97.69 494.83,102.49 495.00,109.66 495.08,112.94 495.25,117.72 495.48,123.14 495.50,123.09 495.75,127.71 496.00,129.34 496.25,132.06 496.50,134.38 496.75,135.14 497.00,137.13 497.25,137.46 497.50,138.78 497.75,139.16 498.00,139.97 498.25,140.74 498.50,141.12 498.75,141.44 499.00,142.69 499.25,142.26 499.50,142.20 499.75,143.10 500.00,143.28 500.25,143.61 500.50,143.97 500.75,143.15 501.00,143.98 501.25,144.11 501.50,143.81 501.60,143.93 501.75,140.22 502.00,125.17 502.20,102.23 502.25,104.19 502.35,109.12 502.50,114.96 502.60,118.07 502.75,122.21 503.00,125.73 503.00,126.37 503.25,130.03 503.50,131.79 503.75,134.16 504.00,136.35 504.25,137.39 504.50,138.14 504.75,137.89 505.00,139.48 505.25,140.29 505.50,140.58 505.75,141.13 506.00,142.64 506.25,141.84 506.50,141.88 506.75,142.57 507.00,142.61 507.25,142.82 507.50,143.07 507.75,143.53 508.00,143.48 508.25,143.10 508.50,143.57 508.75,143.88 509.00,143.63 509.25,144.26 509.43,144.17 509.50,142.84 509.75,129.52 510.00,98.79 510.03,93.58 510.18,102.07 510.25,105.82 510.43,112.14 510.50,114.18 510.75,121.20 510.83,122.64 511.00,125.68 511.25,128.79 511.50,131.42 511.75,133.09 512.00,135.01 512.25,136.44 512.50,137.21 512.75,138.43 513.00,138.31 513.25,139.33 513.50,140.70 513.75,141.32 514.00,141.23 514.25,141.50 514.50,141.43 514.75,142.29 515.00,142.69 515.25,142.13 515.50,143.04 515.75,143.19 516.00,143.32 516.25,142.90 516.50,143.60 516.75,142.98 517.00,144.12 517.19,143.70 517.25,142.80 517.50,132.81 517.75,107.30 517.79,101.91 517.94,109.77 518.00,111.14 518.19,117.68 518.25,119.67 518.50,123.80 518.59,126.41 518.75,128.36 519.00,131.16 519.25,132.90 519.50,135.04 519.75,135.86 520.00,137.00 520.25,138.09 520.50,138.59 520.75,140.22 521.00,139.78 521.25,140.47 521.50,141.05 521.75,141.53 522.00,142.13 522.25,142.42 522.50,142.27 522.75,142.46 523.00,142.79 523.25,143.23 523.50,143.33 523.75,143.03 524.00,142.60 524.25,144.16 524.50,143.83 524.75,143.66 524.94,143.74 525.00,143.05 525.25,131.31 525.50,103.86 525.54,97.42 525.69,105.02 525.75,107.18 525.94,114.58 526.00,116.55 526.25,122.13 526.34,124.06 526.50,125.79 526.75,129.54 527.00,131.91 527.25,133.36 527.50,134.65 527.75,136.61 528.00,137.19 528.25,138.50 528.50,138.91 528.75,139.90 529.00,140.11 529.25,140.17 529.50,141.08 529.75,141.35 530.00,142.01 530.25,141.90 530.50,142.15 530.75,142.80 531.00,143.09 531.25,143.11 531.50,143.34 531.75,143.26 532.00,143.48 532.25,143.61 532.50,143.52 532.50,143.40 532.75,135.31 533.00,111.77 533.10,96.88 533.25,104.68 533.25,104.71 533.50,114.29 533.50,114.44 533.75,120.45 533.90,123.05 534.00,125.53 534.25,128.19 534.50,131.35 534.75,133.25 535.00,135.16 535.25,136.61 535.50,137.21 535.75,137.78 536.00,138.32 536.25,139.11 536.50,139.97 536.75,139.72 537.00,140.90 537.25,141.24 537.50,141.79 537.75,141.73 538.00,142.13 538.25,142.06 538.50,142.34 538.75,142.05 539.00,142.86 539.25,143.48 539.50,143.11 539.75,143.27 540.00,142.88 540.01,143.73 540.25,136.60 540.50,117.33 540.61,104.65 540.75,110.67 540.76,111.57 541.00,119.02 541.01,119.21 541.25,124.63 541.41,127.00 541.50,128.18 541.75,131.27 542.00,133.06 542.25,134.86 542.50,135.90 542.75,136.68 543.00,137.84 543.25,138.65 543.50,139.47 543.75,140.42 544.00,139.89 544.25,140.93 544.50,140.47 544.75,141.19 545.00,141.65 545.25,141.27 545.50,141.62 545.75,142.50 546.00,142.63 546.25,142.70 546.50,142.58 546.75,143.72 547.00,143.00 547.25,142.83 547.50,143.79 547.65,143.45 547.75,142.03 548.00,130.48 548.25,104.68 548.25,104.97 548.40,111.30 548.50,114.44 548.65,119.46 548.75,121.61 549.00,125.86 549.05,126.68 549.25,129.87 549.50,131.86 549.75,133.88 550.00,135.56 550.25,136.56 550.50,136.95 550.75,138.53 551.00,139.33 551.25,139.89 551.50,140.67 551.75,140.67 552.00,141.20 552.25,141.82 552.50,141.45 552.75,142.41 553.00,142.63 553.25,142.50 553.50,143.03 553.75,142.84 554.00,142.36 554.25,143.18 554.50,142.99 554.75,143.11 555.00,143.09 555.25,143.58 555.28,143.30 555.50,137.11 555.75,116.61 555.88,99.25 556.00,105.00 556.03,106.52 556.25,114.57 556.28,115.45 556.50,121.25 556.68,124.90 556.75,126.29 557.00,129.31 557.25,131.69 557.50,133.62 557.75,135.20 558.00,135.82 558.25,137.22 558.50,137.94 558.75,138.52 559.00,139.03 559.25,139.56 559.50,140.11 559.75,140.18 560.00,141.15 560.25,141.27 560.50,141.59 560.75,141.91 561.00,142.25 561.25,141.97 561.50,142.30 561.75,141.91 562.00,141.81 562.25,142.02 562.50,143.33 562.75,142.23 562.79,143.04 563.00,138.49 563.25,119.31 563.39,103.42 563.50,109.26 563.54,110.46 563.75,118.05 563.79,118.46 564.00,122.81 564.19,126.44 564.25,127.01 564.50,129.67 564.75,131.90 565.00,134.88 565.25,135.24 565.50,136.53 565.75,137.23 566.00,138.29 566.25,138.82 566.50,139.33 566.75,139.54 567.00,139.90 567.25,140.50 567.50,141.19 567.75,142.09 568.00,141.98 568.25,142.46 568.50,142.18 568.75,142.15 569.00,141.86 569.25,142.44 569.50,141.80 569.75,142.54 570.00,143.30 570.25,142.92 570.40,143.24 570.50,141.56 570.75,128.10 571.00,100.83 571.00,100.71 571.15,108.38 571.25,112.51 571.40,116.30 571.50,119.06 571.75,124.21 571.80,124.96 572.00,127.45 572.25,130.60 572.50,132.73 572.75,134.34 573.00,135.07 573.25,136.52 573.50,136.84 573.75,138.52 574.00,138.49 574.25,139.31 574.50,139.73 574.75,140.10 575.00,140.30 575.25,140.37 575.50,141.87 575.75,141.60 576.00,141.81 576.25,142.64 576.50,142.03 576.75,142.40 577.00,142.34 577.25,142.85 577.50,142.70 577.75,142.72 578.00,142.59 578.06,142.79 578.25,139.04 578.50,120.07 578.66,101.99 578.75,106.23 578.81,108.80 579.00,114.86 579.06,117.51 579.25,121.48 579.46,125.43 579.50,125.94 579.75,128.67 580.00,131.44 580.25,132.76 580.50,134.51 580.75,135.89 581.00,136.96 581.25,137.80 581.50,138.42 581.75,139.81 582.00,139.72 582.25,139.59 582.50,140.19 582.75,140.51 583.00,140.97 583.25,141.07 583.50,141.21 583.75,142.28 584.00,141.89 584.25,141.90 584.50,142.06 584.75,142.19 585.00,142.85 585.25,142.62 585.50,142.92 585.66,141.48 585.75,141.66 586.00,129.05 586.25,101.68 586.26,100.12 586.41,106.72 586.50,111.21 586.66,115.82 586.75,117.89 587.00,123.48 587.06,125.00 587.25,127.81 587.50,130.37 587.75,131.82 588.00,134.70 588.25,134.72 588.50,136.18 588.75,136.60 589.00,138.34 589.25,138.69 589.50,139.41 589.75,139.62 590.00,139.98 590.25,140.44 590.50,140.04 590.75,141.33 591.00,141.55 591.25,141.31 591.50,141.63 591.75,141.90 592.00,142.49 592.25,142.22 592.50,142.19 592.75,142.09 593.00,141.83 593.09,142.17 593.25,139.20 593.50,121.36 593.69,97.90 593.75,101.54 593.84,105.61 594.00,111.88 594.09,114.82 594.25,118.95 594.49,123.61 594.50,123.99 594.75,126.77 595.00,130.46 595.25,131.60 595.50,133.95 595.75,134.97 596.00,136.43 596.25,136.96 596.50,137.39 596.75,138.75 597.00,139.01 597.25,139.48 597.50,139.90 597.75,140.60 598.00,140.86 598.25,140.94 598.50,140.56 598.75,141.18 599.00,141.55 599.25,142.31 599.50,141.96 599.75,141.92 600.00,142.48 600.25,142.12 600.38,142.20 600.50,140.68 600.75,125.84 600.98,99.72 601.00,100.82 601.13,106.86 601.25,111.09 601.38,115.77 601.50,119.26 601.75,123.58 601.78,123.97 602.00,127.55 602.25,129.51 602.50,131.32 602.75,133.55 603.00,134.75 603.25,135.96 603.50,136.76 603.75,137.83 604.00,138.29 604.25,138.71 604.50,139.25 604.75,140.05 605.00,140.53 605.25,140.83 605.50,141.04 605.75,139.89 606.00,140.90 606.25,141.33 606.50,141.68 606.75,141.18 607.00,142.37 607.25,142.08 607.50,141.86 607.75,142.21 607.90,142.08 608.00,140.70 608.25,127.57 608.50,99.17 608.50,98.85 608.65,106.27 608.75,110.51 608.90,114.94 609.00,118.51 609.25,122.88 609.30,124.67 609.50,127.28 609.75,129.37 610.00,131.83 610.25,133.83 610.50,134.68 610.75,135.41 611.00,136.78 611.25,138.21 611.50,137.66 611.75,138.94 612.00,139.25 612.25,139.63 612.50,139.91 612.75,140.26 613.00,141.02 613.25,141.11 613.50,140.77 613.75,141.86 614.00,141.02 614.25,141.86 614.50,141.81 614.75,142.28 615.00,142.08 615.25,142.41 615.46,142.10 615.50,142.25 615.75,131.67 616.00,106.16 616.06,96.85 616.21,104.96 616.25,106.48 616.46,113.88 616.50,114.82 616.75,121.14 616.86,122.48 617.00,124.72 617.25,128.54 617.50,130.08 617.75,132.95 618.00,133.82 618.25,135.20 618.50,136.14 618.75,137.10 619.00,137.58 619.25,138.17 619.50,138.80 619.75,139.67 620.00,140.11 620.25,140.51 620.50,140.51 620.75,140.58 621.00,140.30 621.25,141.32 621.50,141.57 621.75,141.29 622.00,141.85 622.25,142.14 622.50,141.83 622.75,142.25 622.97,142.06 623.00,141.22 623.25,131.21 623.50,104.01 623.57,93.89 623.72,101.76 623.75,103.42 623.97,111.58 624.00,112.92 624.25,119.37 624.37,122.01 624.50,124.16 624.75,127.25 625.00,129.79 625.25,131.69 625.50,133.26 625.75,135.04 626.00,134.70 626.25,136.41 626.50,137.35 626.75,138.30 627.00,138.10 627.25,139.10 627.50,139.72 627.75,139.64 628.00,139.46 628.25,140.29 628.50,140.24 628.75,141.11 629.00,140.78 629.25,141.87 629.50,141.44 629.75,141.24 630.00,141.46 630.25,141.35 630.45,141.94 630.50,142.09 630.75,132.18 631.00,109.58 631.05,102.65 631.20,109.44 631.25,111.93 631.45,116.90 631.50,119.03 631.75,124.14 631.85,124.71 632.00,126.86 632.25,129.68 632.50,132.38 632.75,133.46 633.00,134.82 633.25,136.16 633.50,136.82 633.75,137.59 634.00,138.02 634.25,139.06 634.50,138.86 634.75,140.12 635.00,139.77 635.25,139.92 635.50,140.69 635.75,140.85 636.00,140.21 636.25,141.16 636.50,140.76 636.75,141.08 637.00,141.76 637.25,141.29 637.50,141.81 637.75,141.63 637.90,142.48 638.00,140.41 638.25,123.80 638.50,89.20 638.50,89.06 638.65,98.05 638.75,102.71 638.90,109.14 639.00,112.04 639.25,118.43 639.30,119.59 639.50,122.90 639.75,126.41 640.00,129.15 640.25,131.16 640.50,132.32 640.75,133.23 641.00,134.68 641.25,136.01 641.50,135.85 641.75,137.26 642.00,138.19 642.25,138.36 642.50,138.63 642.75,140.03 643.00,140.25 643.25,139.98 643.50,140.80 643.75,141.03 644.00,140.38 644.25,141.89 644.50,140.78 644.75,141.16 645.00,140.98 645.25,141.50 645.50,141.10 645.52,141.56 645.75,135.37 646.00,112.93 646.12,96.78 646.25,104.09 646.27,104.10 646.50,113.37 646.52,113.51 646.75,119.57 646.92,122.73 647.00,124.07 647.25,127.30 647.50,129.51 647.75,131.50 648.00,133.38 648.25,134.43 648.50,135.10 648.75,136.13 649.00,136.88 649.25,137.74 649.50,138.37 649.75,138.82 650.00,138.98 650.25,139.58 650.50,139.41 650.75,139.15 651.00,140.39 651.25,140.04 651.50,140.47 651.75,140.54 652.00,141.32 652.25,140.80 652.50,141.43 652.75,141.26 653.00,141.08 653.04,140.97 653.25,135.38 653.50,111.23 653.64,89.68 653.75,96.98 653.79,98.57 654.00,107.76 654.04,109.05 654.25,115.39 654.44,119.48 654.50,120.42 654.75,125.33 655.00,126.89 655.25,129.89 655.50,131.75 655.75,133.11 656.00,133.93 656.25,135.22 656.50,135.99 656.75,136.53 657.00,137.53 657.25,137.97 657.50,138.40 657.75,139.26 658.00,139.02 658.25,139.87 658.50,139.78 658.75,140.39 659.00,140.48 659.25,140.73 659.50,140.47 659.75,140.68 660.00,140.78 660.25,141.25 660.50,141.55 660.58,141.69 660.75,138.02 661.00,122.18 661.18,102.29 661.25,104.88 661.33,108.64 661.50,114.55 661.58,116.44 661.75,120.33 661.98,125.12 662.00,124.97 662.25,127.76 662.50,131.46 662.75,132.48 663.00,133.71 663.25,135.20 663.50,135.64 663.75,137.25 664.00,136.84 664.25,137.50 664.50,138.40 664.75,138.62 665.00,139.75 665.25,139.03 665.50,139.62 665.75,140.20 666.00,140.54 666.25,140.88 666.50,140.82 666.75,141.61 667.00,140.80 667.25,141.14 667.50,141.47 667.75,141.15 667.98,141.22 668.00,141.14 668.25,133.26 668.50,111.33 668.58,101.38 668.73,107.61 668.75,108.94 668.98,115.80 669.00,117.52 669.25,122.86 669.38,124.86 669.50,126.04 669.75,128.72 670.00,131.48 670.25,132.76 670.50,134.21 670.75,134.84 671.00,136.37 671.25,136.48 671.50,137.44 671.75,137.36 672.00,138.21 672.25,139.04 672.50,139.07 672.75,139.39 673.00,140.09 673.25,140.03 673.50,140.70 673.75,139.61 674.00,140.81 674.25,140.93 674.50,140.34 674.75,140.54 675.00,141.39 675.25,140.79 675.43,140.99 675.50,140.84 675.75,129.37 676.00,104.32 676.03,100.59 676.18,107.57 676.25,110.64 676.43,115.93 676.50,116.94 676.75,123.05 676.83,124.09 677.00,126.15 677.25,129.62 677.50,130.56 677.75,133.41 678.00,133.82 678.25,135.64 678.50,135.96 678.75,136.25 679.00,137.39 679.25,138.02 679.50,138.57 679.75,139.16 680.00,138.84 680.25,139.63 680.50,139.99 680.75,139.88 681.00,139.86 681.25,140.03 681.50,140.78 681.75,140.94 682.00,140.49 682.25,140.42 682.50,141.41 682.75,140.52 682.96,141.18 683.00,140.64 683.25,128.52 683.50,99.20 683.56,88.99 683.71,98.29 683.75,100.51 683.96,108.40 684.00,110.13 684.25,117.02 684.36,118.85 684.50,121.23 684.75,125.66 685.00,127.66 685.25,129.88 685.50,131.48 685.75,132.92 686.00,133.90 686.25,135.35 686.50,136.36 686.75,136.51 687.00,136.78 687.25,137.82 687.50,137.75 687.75,138.46 688.00,139.46 688.25,140.16 688.50,139.75 688.75,139.49 689.00,140.34 689.25,139.47 689.50,140.17 689.75,141.08 690.00,140.93 690.25,140.29 690.35,140.23 690.50,138.46 690.75,121.15 690.95,95.79 691.00,98.53 691.10,103.24 691.25,108.66 691.35,113.00 691.50,116.49 691.75,121.49 691.75,121.43 692.00,125.61 692.25,127.97 692.50,130.56 692.75,131.91 693.00,133.72 693.25,134.31 693.50,135.15 693.75,135.48 694.00,136.46 694.25,137.68 694.50,139.00 694.75,137.94 695.00,138.40 695.25,139.21 695.50,139.55 695.75,139.41 696.00,139.89 696.25,139.50 696.50,140.13 696.75,140.69 697.00,141.08 697.25,140.56 697.50,140.63 697.71,140.95 697.75,140.97 698.00,129.11 698.25,99.12 698.31,89.50 698.46,98.52 698.50,99.88 698.71,108.25 698.75,110.20 699.00,116.94 699.11,119.47 699.25,121.64 699.50,124.90 699.75,127.63 700.00,129.49 700.25,131.18 700.50,132.68 700.75,133.84 701.00,135.36 701.25,135.37 701.50,136.49 701.75,136.91 702.00,138.16 702.25,138.20 702.50,138.38 702.75,139.15 703.00,139.19 703.25,139.27 703.50,140.21 703.75,140.13 704.00,140.66 704.25,140.62 704.50,140.62 704.75,140.52 705.00,140.20 705.18,140.89 705.25,139.97 705.50,126.71 705.75,95.79 705.78,91.42 705.93,99.42 706.00,103.38 706.18,110.34 706.25,112.06 706.50,118.54 706.58,120.38 706.75,122.50 707.00,125.92 707.25,128.11 707.50,130.84 707.75,132.08 708.00,133.10 708.25,133.75 708.50,135.17 708.75,136.36 709.00,136.57 709.25,137.10 709.50,137.97 709.75,137.76 710.00,138.59 710.25,139.11 710.50,138.92 710.75,139.16 711.00,139.75 711.25,139.83 711.50,139.95 711.75,140.25 712.00,140.38 712.25,140.10 712.50,140.29 712.75,140.76 712.82,141.02 713.00,137.63 713.25,119.78 713.42,99.70 713.50,103.68 713.57,106.64 713.75,113.07 713.82,115.35 714.00,119.93 714.22,123.03 714.25,124.00 714.50,126.96 714.75,129.34 715.00,131.66 715.25,133.01 715.50,133.56 715.75,134.80 716.00,135.80 716.25,135.93 716.50,137.33 716.75,137.52 717.00,138.06 717.25,138.51 717.50,139.36 717.75,139.05 718.00,139.17 718.25,140.13 718.50,139.55 718.75,139.72 719.00,139.57 719.25,140.56 719.50,140.39 719.75,140.56 720.00,140.54 720.25,140.52 720.35,140.32 720.50,137.44 720.75,120.52 720.95,95.66 721.00,99.12 721.10,103.00 721.25,109.16 721.35,112.13 721.50,117.07 721.75,121.17 721.75,121.92 722.00,125.78 722.25,127.93 722.50,130.30 722.75,130.94 723.00,132.87 723.25,133.53 723.50,135.08 723.75,135.81 724.00,136.21 724.25,137.38 724.50,137.68 724.75,137.81 725.00,138.19 725.25,138.19 725.50,138.93 725.75,139.98 726.00,139.22 726.25,139.80 726.50,139.64 726.75,140.25 727.00,140.25 727.25,140.13 727.50,139.70 727.75,140.22 728.00,140.89 728.02,140.39 728.25,134.13 728.50,111.67 728.62,95.87 728.75,102.71 728.77,103.53 729.00,111.80 729.02,112.44 729.25,118.52 729.42,121.42 729.50,123.05 729.75,126.13 730.00,127.84 730.25,130.51 730.50,131.87 730.75,133.03 731.00,134.48 731.25,135.04 731.50,136.14 731.75,136.96 732.00,137.18 732.25,137.08 732.50,137.77 732.75,138.70 733.00,138.61 733.25,138.70 733.50,139.19 733.75,139.60 734.00,139.70 734.25,140.00 734.50,139.63 734.75,139.94 735.00,140.06 735.25,140.23 735.50,139.59 735.50,140.24 735.75,131.66 736.00,108.23 736.10,93.95 736.25,102.39 736.25,102.24 736.50,111.16 736.50,111.76 736.75,117.82 736.90,120.96 737.00,122.13 737.25,125.56 737.50,128.42 737.75,130.81 738.00,131.73 738.25,133.79 738.50,135.01 738.75,134.51 739.00,135.70 739.25,136.03 739.50,136.88 739.75,137.23 740.00,137.82 740.25,138.55 740.50,138.86 740.75,138.91 741.00,139.07 741.25,139.32 741.50,139.52 741.75,139.84 742.00,139.78 742.25,140.08 742.50,139.56 742.75,140.39 742.95,140.79 743.00,139.91 743.25,127.12 743.50,98.15 743.55,89.53 743.70,97.08 743.75,100.46 743.95,108.72 744.00,110.27 744.25,117.16 744.35,119.01 744.50,121.45 744.75,124.15 745.00,127.04 745.25,129.51 745.50,131.31 745.75,132.05 746.00,133.31 746.25,134.63 746.50,134.61 746.75,135.29 747.00,136.48 747.25,137.17 747.50,137.37 747.75,137.14 748.00,138.29 748.25,138.12 748.50,139.07 748.75,139.04 749.00,139.37 749.25,139.67 749.50,139.42 749.75,140.03 750.00,140.29 750.25,140.10 750.27,140.43 750.50,133.80 750.75,114.02 750.87,98.71 751.00,104.53 751.02,105.72 751.25,113.48 751.27,114.06 751.50,119.68 751.67,123.04 751.75,123.75 752.00,126.95 752.25,128.69 752.50,131.01 752.75,132.78 753.00,133.81 753.25,134.65 753.50,135.12 753.75,135.65 754.00,136.54 754.25,136.62 754.50,137.10 754.75,138.24 755.00,137.94 755.25,139.17 755.50,138.31 755.75,139.18 756.00,138.82 756.25,139.45 756.50,139.18 756.75,139.69 757.00,139.73 757.25,139.73 757.50,140.15 757.69,140.55 757.75,139.24 758.00,125.81 758.25,92.99 758.29,86.71 758.44,96.49 758.50,98.19 758.69,106.42 758.75,108.20 759.00,115.51 759.09,117.38 759.25,121.76 759.50,124.10 759.75,127.29 760.00,129.22 760.25,130.30 760.50,132.01 760.75,133.58 761.00,134.04 761.25,134.90 761.50,135.72 761.75,135.65 762.00,136.43 762.25,137.31 762.50,137.79 762.75,137.64 763.00,138.17 763.25,138.51 763.50,138.74 763.75,139.24 764.00,139.22 764.25,139.41 764.50,139.00 764.75,139.25 765.00,139.83 765.25,139.26 765.34,139.94 765.50,136.32 765.75,117.65 765.94,92.79 766.00,95.99 766.09,100.48 766.25,107.16 766.34,110.46 766.50,115.89 766.74,119.27 766.75,120.18 767.00,123.87 767.25,127.09 767.50,128.79 767.75,129.77 768.00,132.47 768.25,132.77 768.50,134.09 768.75,134.45 769.00,135.25 769.25,136.06 769.50,137.05 769.75,137.50 770.00,137.40 770.25,138.13 770.50,138.13 770.75,138.56 771.00,138.81 771.25,139.17 771.50,138.92 771.75,139.24 772.00,139.49 772.25,139.57 772.50,139.36 772.75,140.33 772.86,139.60 773.00,137.50 773.25,120.40 773.46,94.13 773.50,95.74 773.61,102.58 773.75,107.58 773.86,110.81 774.00,115.21 774.25,121.17 774.26,120.69 774.50,123.70 774.75,126.74 775.00,129.49 775.25,130.22 775.50,132.00 775.75,133.09 776.00,134.89 776.25,134.83 776.50,136.08 776.75,135.98 777.00,136.44 777.25,137.52 777.50,137.78 777.75,137.30 778.00,138.42 778.25,138.68 778.50,138.47 778.75,138.95 779.00,139.14 779.25,139.03 779.50,139.13 779.75,139.21 780.00,139.45 780.25,139.17 780.42,139.67 780.50,138.32 780.75,124.63 781.00,92.74 781.02,89.27 781.17,98.10 781.25,102.19 781.42,108.60 781.50,110.18 781.75,117.39 781.82,118.45 782.00,121.40 782.25,124.50 782.50,127.21 782.75,129.66 783.00,130.94 783.25,131.91 783.50,132.90 783.75,133.91 784.00,135.05 784.25,136.17 784.50,135.74 784.75,136.62 785.00,136.93 785.25,137.19 785.50,137.93 785.75,138.28 786.00,137.85 786.25,138.21 786.50,139.18 786.75,139.05 787.00,139.27 787.25,139.05 787.50,139.20 787.75,139.59 787.98,139.34 788.00,139.08 788.25,130.43 788.50,106.15 788.58,94.96 788.73,102.89 788.75,103.72 788.98,111.38 789.00,112.33 789.25,118.37 789.38,120.97 789.50,122.89 789.75,125.32 790.00,127.66 790.25,130.32 790.50,131.47 790.75,132.77 791.00,133.75 791.25,135.01 791.50,134.78 791.75,136.20 792.00,136.07 792.25,137.07 792.50,137.69 792.75,137.10 793.00,138.03 793.25,138.06 793.50,138.30 793.75,138.62 794.00,138.42 794.25,138.61 794.50,139.30 794.75,139.49 795.00,139.10 795.25,138.89 795.45,140.26 795.50,139.45 795.75,126.62 796.00,95.84 796.05,88.64 796.20,97.33 796.25,99.52 796.45,108.22 796.50,109.47 796.75,116.13 796.85,117.62 797.00,120.35 797.25,123.81 797.50,126.76 797.75,128.60 798.00,130.22 798.25,131.76 798.50,132.84 798.75,134.22 799.00,134.44 799.25,134.86 799.50,135.80 799.75,136.83 800.00,136.59 800.25,137.19 800.50,137.40 800.75,137.96 801.00,138.18 801.25,138.04 801.50,138.44 801.75,139.02 802.00,139.23 802.25,139.30 802.50,139.40 802.75,139.09 802.89,139.13 803.00,137.99 803.25,121.93 803.49,92.59 803.50,92.65 803.64,100.38 803.75,105.04 803.89,109.70 804.00,113.54 804.25,118.67 804.29,119.48 804.50,122.81 804.75,125.59 805.00,128.58 805.25,129.69 805.50,131.35 805.75,132.01 806.00,133.28 806.25,134.17 806.50,134.89 806.75,135.41 807.00,136.20 807.25,137.15 807.50,136.97 807.75,137.32 808.00,137.55 808.25,138.82 808.50,138.74 808.75,138.58 809.00,138.81 809.25,138.48 809.50,138.81 809.75,139.06 810.00,139.13 810.25,138.89 810.37,138.95 810.50,137.04 810.75,119.79 810.97,91.51 811.00,93.58 811.12,100.03 811.25,105.12 811.37,109.47 811.50,112.79 811.75,119.09 811.77,118.70 812.00,122.32 812.25,125.57 812.50,128.73 812.75,129.48 813.00,130.68 813.25,132.46 813.50,133.37 813.75,134.70 814.00,134.42 814.25,134.93 814.50,135.90 814.75,136.61 815.00,137.01 815.25,137.62 815.50,137.04 815.75,137.54 816.00,138.02 816.25,138.56 816.50,138.62 816.75,138.47 817.00,138.40 817.25,139.17 817.50,139.30 817.75,140.00 817.91,139.06 818.00,138.64 818.25,124.40 818.50,96.05 818.51,95.34 818.66,102.61 818.75,106.27 818.91,111.58 819.00,114.32 819.25,119.55 819.31,120.90 819.50,123.49 819.75,126.34 820.00,128.99 820.25,130.27 820.50,131.58 820.75,132.63 821.00,133.60 821.25,134.57 821.50,134.77 821.75,136.02 822.00,136.68 822.25,136.97 822.50,136.79 822.75,136.75 823.00,137.44 823.25,137.89 823.50,138.35 823.75,138.20 824.00,138.32 824.25,139.10 824.50,138.48 824.75,139.18 825.00,139.23 825.25,138.55 825.42,139.15 825.50,138.07 825.75,125.30 826.00,96.94 826.02,94.93 826.17,102.56 826.25,105.65 826.42,111.57 826.50,113.38 826.75,119.13 826.82,120.34 827.00,122.62 827.25,125.45 827.50,128.36 827.75,129.97 828.00,130.98 828.25,132.40 828.50,133.61 828.75,134.82 829.00,134.57 829.25,135.68 829.50,136.71 829.75,136.45 830.00,137.32 830.25,136.27 830.50,137.95 830.75,137.71 831.00,137.29 831.25,138.40 831.50,138.66 831.75,138.87 832.00,139.00 832.25,138.69 832.50,138.55 832.75,138.73 832.93,138.93 833.00,138.41 833.25,123.77 833.50,90.97 833.53,85.51 833.68,94.66 833.75,98.79 833.93,106.24 834.00,107.44 834.25,114.40 834.33,115.88 834.50,118.99 834.75,123.11 835.00,125.26 835.25,127.34 835.50,129.29 835.75,131.05 836.00,131.81" fill="none" stroke="#ED7D31" stroke-width="1" stroke-linejoin="round" stroke-opacity="0.62"/>
<polyline points="108.00,218.21 108.25,219.26 108.50,219.96 108.75,220.48 109.00,220.64 109.25,220.77 109.50,221.44 109.75,222.05 110.00,222.05 110.25,222.55 110.50,222.73 110.75,222.96 111.00,223.50 111.25,223.33 111.50,224.51 111.75,223.70 112.00,224.80 112.25,224.31 112.50,225.73 112.75,225.71 113.00,225.24 113.25,225.61 113.50,225.54 113.75,226.18 114.00,226.57 114.25,227.64 114.50,226.20 114.75,227.45 115.00,226.87 115.25,227.38 115.50,227.78 115.75,227.79 116.00,227.89 116.25,227.77 116.50,227.98 116.75,228.17 117.00,228.73 117.25,227.75 117.50,228.26 117.75,228.06 118.00,228.28 118.25,228.45 118.50,229.33 118.70,231.62 118.75,230.95 119.00,211.20 119.20,176.80 119.25,179.33 119.35,183.09 119.50,188.66 119.60,191.61 119.75,194.53 120.00,199.95 120.25,203.95 120.50,206.92 120.75,209.28 121.00,209.68 121.25,211.80 121.50,213.27 121.75,214.46 122.00,215.50 122.25,215.23 122.50,216.15 122.75,216.52 123.00,217.85 123.25,217.56 123.50,219.07 123.75,219.47 124.00,219.77 124.25,219.17 124.50,220.19 124.75,221.17 125.00,220.71 125.25,221.56 125.50,221.97 125.75,222.72 126.00,222.82 126.25,223.14 126.50,223.17 126.75,223.65 127.00,223.88 127.25,224.50 127.50,224.41 127.75,225.15 128.00,224.32 128.25,225.70 128.50,225.39 128.75,226.12 129.00,225.92 129.25,226.43 129.50,226.88 129.75,226.26 130.00,226.69 130.25,226.77 130.50,227.09 130.75,226.53 131.00,227.25 131.25,227.37 131.50,227.31 131.75,227.68 132.00,227.28 132.25,228.57 132.50,228.32 132.75,229.00 133.00,228.03 133.25,228.02 133.50,228.70 133.70,228.01 133.75,228.24 134.00,209.11 134.20,174.90 134.25,177.32 134.35,181.47 134.50,187.58 134.60,190.16 134.75,193.32 135.00,199.35 135.25,202.25 135.50,205.71 135.75,207.42 136.00,209.36 136.25,211.64 136.50,212.10 136.75,213.08 137.00,214.00 137.25,214.90 137.50,216.31 137.75,215.93 138.00,216.52 138.25,217.81 138.50,217.49 138.75,218.49 139.00,219.57 139.25,219.59 139.50,219.85 139.75,220.19 140.00,220.52 140.25,221.04 140.50,221.70 140.75,222.51 141.00,222.75 141.25,222.48 141.50,222.73 141.75,223.61 142.00,222.92 142.25,223.75 142.50,224.07 142.75,224.02 143.00,224.33 143.25,225.10 143.50,224.55 143.75,225.07 144.00,225.39 144.25,225.89 144.50,225.52 144.75,226.69 145.00,226.33 145.25,226.53 145.50,226.66 145.75,226.70 146.00,226.74 146.25,227.74 146.50,227.51 146.75,227.53 147.00,228.11 147.25,227.57 147.50,228.22 147.75,228.11 148.00,227.87 148.25,228.63 148.50,227.85 148.60,228.74 148.75,222.42 149.00,187.67 149.10,164.40 149.25,172.38 149.50,181.94 149.75,189.47 149.90,192.76 150.00,194.41 150.25,198.48 150.50,202.02 150.75,204.62 151.00,205.64 151.25,207.89 151.50,209.44 151.75,210.43 152.00,210.99 152.25,212.70 152.50,212.63 152.75,214.12 153.00,215.21 153.25,214.44 153.50,215.97 153.75,216.59 154.00,217.12 154.25,217.27 154.50,217.97 154.75,218.05 155.00,219.13 155.25,219.75 155.50,219.71 155.75,220.04 156.00,220.62 156.25,221.20 156.50,221.60 156.75,221.90 157.00,222.32 157.25,222.11 157.50,221.88 157.75,223.50 158.00,224.12 158.25,223.29 158.50,223.86 158.75,224.51 159.00,225.02 159.25,225.15 159.50,225.63 159.75,225.34 160.00,225.74 160.25,225.95 160.50,225.83 160.75,226.66 161.00,226.62 161.25,226.94 161.50,226.58 161.75,227.31 162.00,226.65 162.25,227.37 162.50,226.34 162.75,227.12 163.00,227.94 163.25,227.61 163.50,227.98 163.75,227.40 164.00,228.76 164.25,215.15 164.50,174.90 164.65,181.58 164.75,185.25 164.90,190.41 165.00,192.63 165.25,197.41 165.30,198.79 165.50,202.53 165.75,205.30 166.00,207.26 166.25,209.52 166.50,210.82 166.75,212.25 167.00,212.44 167.25,213.62 167.50,215.04 167.75,215.42 168.00,216.31 168.25,217.56 168.50,217.26 168.75,218.02 169.00,218.22 169.25,218.69 169.50,219.38 169.75,219.29 170.00,219.46 170.25,221.23 170.50,221.06 170.75,221.92 171.00,221.89 171.25,222.25 171.50,222.80 171.75,223.14 172.00,222.70 172.25,223.95 172.50,223.38 172.75,224.12 173.00,225.31 173.25,224.60 173.50,225.47 173.75,224.92 174.00,225.52 174.25,225.53 174.50,225.88 174.75,225.59 175.00,225.76 175.25,226.44 175.50,225.88 175.75,226.34 176.00,227.09 176.25,226.76 176.50,226.81 176.75,226.87 177.00,227.51 177.25,227.45 177.50,227.78 177.75,227.78 178.00,228.70 178.25,227.92 178.50,227.44 178.75,228.36 179.00,228.43 179.25,228.59 179.30,227.92 179.50,219.57 179.75,180.55 179.80,169.30 179.95,175.84 180.00,178.75 180.20,185.71 180.25,187.79 180.50,193.46 180.60,195.18 180.75,198.37 181.00,201.50 181.25,204.73 181.50,206.28 181.75,208.36 182.00,209.73 182.25,210.99 182.50,211.84 182.75,212.63 183.00,213.74 183.25,214.28 183.50,215.26 183.75,215.74 184.00,215.58 184.25,217.01 184.50,218.12 184.75,218.22 185.00,218.83 185.25,219.25 185.50,219.35 185.75,219.45 186.00,220.71 186.25,221.21 186.50,221.41 186.75,221.73 187.00,222.08 187.25,222.26 187.50,222.71 187.75,222.93 188.00,223.36 188.25,223.16 188.50,223.57 188.75,224.31 189.00,224.22 189.25,223.67 189.50,224.90 189.75,224.21 190.00,226.06 190.25,225.81 190.50,226.00 190.75,225.69 191.00,225.71 191.25,226.25 191.50,226.52 191.75,226.38 192.00,226.91 192.25,227.27 192.50,227.39 192.75,226.91 193.00,226.62 193.25,227.59 193.50,227.47 193.75,228.02 194.00,228.60 194.25,228.72 194.30,228.22 194.50,218.89 194.75,179.58 194.80,167.40 194.95,174.88 195.00,177.27 195.20,184.32 195.25,185.71 195.50,192.16 195.60,194.56 195.75,197.06 196.00,201.25 196.25,203.61 196.50,206.49 196.75,208.15 197.00,208.67 197.25,210.78 197.50,211.27 197.75,212.89 198.00,213.40 198.25,213.96 198.50,214.94 198.75,215.14 199.00,216.10 199.25,216.72 199.50,217.08 199.75,217.82 200.00,217.80 200.25,218.89 200.50,218.69 200.75,219.84 201.00,220.22 201.25,220.72 201.50,220.64 201.75,222.40 202.00,221.53 202.25,222.03 202.50,222.03 202.75,223.19 203.00,222.79 203.25,223.65 203.50,223.21 203.75,223.97 204.00,223.98 204.25,224.74 204.50,224.53 204.75,224.55 205.00,225.29 205.25,224.88 205.50,225.19 205.75,226.05 206.00,225.25 206.25,226.44 206.50,226.19 206.75,226.17 207.00,226.78 207.25,227.10 207.50,226.79 207.75,227.10 208.00,227.62 208.25,227.74 208.50,227.57 208.75,227.42 208.90,227.43 209.00,225.57 209.25,203.14 209.40,176.80 209.50,181.24 209.55,183.62 209.75,189.69 209.80,191.08 210.00,195.96 210.20,200.65 210.25,199.97 210.50,204.32 210.75,207.02 211.00,208.92 211.25,211.40 211.50,212.29 211.75,213.25 212.00,213.57 212.25,214.92 212.50,215.34 212.75,216.17 213.00,216.85 213.25,217.17 213.50,218.13 213.75,219.02 214.00,219.28 214.25,219.43 214.50,219.06 214.75,220.62 215.00,221.02 215.25,220.93 215.50,221.19 215.75,221.98 216.00,221.77 216.25,222.70 216.50,222.31 216.75,222.68 217.00,223.32 217.25,223.05 217.50,223.87 217.75,224.33 218.00,223.88 218.25,224.97 218.50,224.64 218.75,225.28 219.00,225.37 219.25,225.32 219.50,225.49 219.75,225.24 220.00,225.80 220.25,225.95 220.50,227.02 220.75,226.95 221.00,226.21 221.25,227.17 221.50,227.10 221.75,227.01 222.00,227.46 222.25,227.71 222.50,227.32 222.75,227.55 223.00,227.83 223.25,227.51 223.50,228.05 223.75,228.05 224.00,227.92 224.20,227.93 224.25,227.84 224.50,209.05 224.70,173.80 224.75,175.83 224.85,180.70 225.00,185.93 225.10,189.17 225.25,193.35 225.50,197.74 225.75,201.88 226.00,204.62 226.25,206.78 226.50,209.64 226.75,210.68 227.00,210.88 227.25,212.72 227.50,213.25 227.75,214.68 228.00,215.00 228.25,215.57 228.50,216.30 228.75,216.97 229.00,217.38 229.25,217.80 229.50,218.32 229.75,219.02 230.00,218.86 230.25,219.71 230.50,220.07 230.75,220.33 231.00,221.16 231.25,220.77 231.50,221.46 231.75,221.62 232.00,222.46 232.25,222.39 232.50,222.88 232.75,223.29 233.00,222.83 233.25,223.86 233.50,223.66 233.75,224.09 234.00,224.38 234.25,224.95 234.50,225.14 234.75,225.73 235.00,225.34 235.25,225.29 235.50,225.47 235.75,226.08 236.00,226.60 236.25,226.30 236.50,226.11 236.75,226.58 237.00,226.72 237.25,226.78 237.50,226.62 237.75,226.08 238.00,226.95 238.25,227.67 238.50,227.47 238.75,226.67 239.00,227.61 239.25,227.02 239.50,228.55 239.75,214.07 240.00,172.30 240.15,179.36 240.25,182.59 240.40,187.98 240.50,190.55 240.75,195.71 240.80,197.33 241.00,199.82 241.25,203.96 241.50,205.90 241.75,207.40 242.00,208.64 242.25,211.19 242.50,212.21 242.75,212.14 243.00,214.05 243.25,214.25 243.50,214.79 243.75,215.47 244.00,216.00 244.25,217.19 244.50,217.24 244.75,217.00 245.00,218.96 245.25,218.96 245.50,218.67 245.75,219.36 246.00,219.56 246.25,220.31 246.50,220.81 246.75,221.11 247.00,221.14 247.25,221.40 247.50,222.33 247.75,222.28 248.00,223.46 248.25,222.60 248.50,223.47 248.75,223.45 249.00,223.40 249.25,224.44 249.50,224.20 249.75,224.05 250.00,224.48 250.25,225.18 250.50,224.54 250.75,225.71 251.00,225.63 251.25,225.45 251.50,226.23 251.75,226.54 252.00,226.27 252.25,226.26 252.50,227.03 252.75,227.04 253.00,226.26 253.25,226.66 253.50,226.78 253.75,226.83 254.00,226.53 254.25,227.54 254.50,227.34 254.75,211.22 255.00,162.50 255.15,170.15 255.25,174.79 255.40,180.60 255.50,183.56 255.75,190.21 255.80,191.62 256.00,195.09 256.25,199.24 256.50,201.28 256.75,203.85 257.00,205.03 257.25,207.00 257.50,208.04 257.75,209.90 258.00,210.64 258.25,211.42 258.50,212.72 258.75,213.31 259.00,213.73 259.25,213.85 259.50,214.18 259.75,215.30 260.00,215.74 260.25,216.17 260.50,216.81 260.75,216.79 261.00,218.45 261.25,217.91 261.50,218.52 261.75,219.41 262.00,218.98 262.25,220.33 262.50,220.71 262.75,220.59 263.00,220.65 263.25,221.20 263.50,221.00 263.75,222.53 264.00,222.32 264.25,222.30 264.50,222.51 264.75,223.33 265.00,223.93 265.25,223.12 265.50,223.62 265.75,223.40 266.00,224.53 266.25,224.54 266.50,225.53 266.75,224.82 267.00,224.89 267.25,224.96 267.50,225.72 267.75,224.94 268.00,226.00 268.25,225.96 268.50,225.82 268.75,225.81 269.00,226.68 269.25,227.11 269.50,226.36 269.75,213.64 270.00,173.80 270.15,180.08 270.25,183.90 270.40,188.24 270.50,191.32 270.75,196.75 270.80,197.52 271.00,200.51 271.25,203.21 271.50,205.63 271.75,207.61 272.00,209.70 272.25,210.49 272.50,211.40 272.75,212.87 273.00,213.64 273.25,213.86 273.50,214.57 273.75,215.67 274.00,216.13 274.25,216.21 274.50,217.13 274.75,217.51 275.00,218.41 275.25,218.10 275.50,219.19 275.75,219.42 276.00,219.26 276.25,220.42 276.50,220.73 276.75,220.22 277.00,221.81 277.25,220.94 277.50,221.33 277.75,221.86 278.00,222.56 278.25,222.76 278.50,222.76 278.75,223.57 279.00,223.45 279.25,224.06 279.50,224.83 279.75,224.04 280.00,223.18 280.25,224.20 280.50,224.15 280.75,224.78 281.00,224.96 281.25,224.62 281.50,224.81 281.75,225.31 282.00,225.49 282.25,224.70 282.50,226.22 282.75,225.99 283.00,226.10 283.25,226.34 283.50,225.95 283.75,226.44 284.00,226.97 284.25,227.09 284.50,226.96 284.75,209.10 285.00,156.20 285.15,165.23 285.25,169.75 285.40,175.54 285.50,178.36 285.75,185.94 285.80,186.70 286.00,192.01 286.25,195.56 286.50,198.25 286.75,200.83 287.00,203.89 287.25,204.96 287.50,205.32 287.75,206.97 288.00,207.59 288.25,208.35 288.50,209.95 288.75,211.63 289.00,212.05 289.25,212.16 289.50,212.67 289.75,213.53 290.00,214.46 290.25,214.07 290.50,214.46 290.75,216.47 291.00,216.35 291.25,217.36 291.50,217.30 291.75,218.24 292.00,217.85 292.25,218.71 292.50,219.53 292.75,219.70 293.00,219.49 293.25,220.39 293.50,220.12 293.75,220.15 294.00,221.23 294.25,221.89 294.50,221.96 294.75,221.41 295.00,222.53 295.25,222.71 295.50,222.52 295.75,221.96 296.00,223.57 296.25,223.75 296.50,223.81 296.75,223.13 297.00,223.43 297.25,224.61 297.50,224.71 297.75,224.76 298.00,224.64 298.25,225.06 298.50,224.84 298.75,225.08 299.00,225.01 299.25,225.59 299.50,225.46 299.75,208.75 300.00,156.20 300.15,164.36 300.25,170.22 300.40,175.17 300.50,179.28 300.75,186.58 300.80,187.83 301.00,190.49 301.25,195.71 301.50,198.84 301.75,201.32 302.00,201.79 302.25,204.00 302.50,205.59 302.75,206.63 303.00,208.38 303.25,208.52 303.50,210.14 303.75,210.67 304.00,210.62 304.25,211.51 304.50,212.38 304.75,213.24 305.00,214.20 305.25,214.31 305.50,215.30 305.75,214.84 306.00,214.76 306.25,216.33 306.50,217.12 306.75,217.25 307.00,217.42 307.25,218.41 307.50,219.42 307.75,218.99 308.00,219.11 308.25,219.42 308.50,220.89 308.75,220.41 309.00,220.99 309.25,221.54 309.50,221.78 309.75,221.26 310.00,222.28 310.25,222.50 310.50,222.60 310.75,223.05 311.00,222.66 311.25,223.07 311.50,223.11 311.75,223.83 312.00,223.46 312.25,224.07 312.50,223.66 312.75,224.22 313.00,224.30 313.25,224.56 313.50,224.81 313.75,224.83 314.00,224.96 314.25,224.36 314.50,225.77 314.75,206.67 315.00,151.30 315.15,159.99 315.25,165.82 315.40,171.58 315.50,175.84 315.75,183.60 315.80,185.03 316.00,189.16 316.25,193.12 316.50,195.62 316.75,199.16 317.00,201.17 317.25,202.73 317.50,204.16 317.75,205.12 318.00,205.99 318.25,207.63 318.50,208.62 318.75,208.55 319.00,210.13 319.25,210.61 319.50,211.57 319.75,212.00 320.00,212.98 320.25,213.56 320.50,214.09 320.75,213.76 321.00,215.18 321.25,215.39 321.50,215.42 321.75,216.63 322.00,216.27 322.25,217.61 322.50,218.36 322.75,217.89 323.00,218.85 323.25,219.05 323.50,219.49 323.75,219.05 324.00,220.16 324.25,220.30 324.50,220.85 324.75,220.86 325.00,221.58 325.25,221.53 325.50,221.96 325.75,222.49 326.00,222.27 326.25,222.83 326.50,222.75 326.75,223.09 327.00,222.88 327.25,223.60 327.50,223.97 327.75,223.64 328.00,224.17 328.25,224.20 328.50,223.76 328.75,224.49 329.00,225.03 329.25,224.46 329.50,224.09 329.75,209.06 330.00,161.10 330.15,169.70 330.25,173.37 330.40,179.06 330.50,182.03 330.75,188.88 330.80,189.65 331.00,193.26 331.25,197.24 331.50,199.75 331.75,202.80 332.00,203.60 332.25,205.51 332.50,206.52 332.75,207.33 333.00,209.49 333.25,208.88 333.50,211.08 333.75,210.69 334.00,211.97 334.25,213.47 334.50,212.36 334.75,213.25 335.00,214.86 335.25,214.95 335.50,215.18 335.75,215.87 336.00,215.97 336.25,216.85 336.50,217.82 336.75,217.50 337.00,218.11 337.25,218.91 337.50,219.59 337.75,218.93 338.00,219.63 338.25,219.62 338.50,219.90 338.75,220.30 339.00,220.50 339.25,220.35 339.50,220.52 339.75,221.28 340.00,221.86 340.25,222.53 340.50,222.08 340.75,222.44 341.00,222.98 341.25,223.22 341.50,223.08 341.75,223.29 342.00,224.23 342.25,223.54 342.50,223.65 342.75,223.37 343.00,224.33 343.25,224.20 343.50,225.20 343.75,224.46 344.00,225.04 344.25,225.22 344.50,225.62 344.75,207.83 345.00,158.10 345.15,166.27 345.25,170.84 345.40,176.65 345.50,179.97 345.75,186.75 345.80,187.10 346.00,192.11 346.25,195.73 346.50,198.25 346.75,200.89 347.00,203.67 347.25,204.46 347.50,205.46 347.75,207.41 348.00,207.43 348.25,208.59 348.50,209.26 348.75,210.15 349.00,211.25 349.25,211.86 349.50,211.99 349.75,212.84 350.00,213.50 350.25,213.86 350.50,214.54 350.75,214.78 351.00,215.27 351.25,216.04 351.50,216.07 351.75,217.07 352.00,217.25 352.25,217.37 352.50,217.87 352.75,218.29 353.00,218.77 353.25,219.22 353.50,219.43 353.75,219.49 354.00,220.69 354.25,220.77 354.50,220.75 354.75,221.35 355.00,221.36 355.25,221.38 355.50,221.76 355.75,222.99 356.00,222.57 356.25,222.80 356.50,222.45 356.75,223.03 357.00,223.86 357.25,223.34 357.50,223.76 357.75,224.00 358.00,223.93 358.25,224.44 358.50,224.07 358.75,224.32 359.00,224.02 359.25,225.42 359.50,224.64 359.75,207.58 360.00,156.20 360.15,164.36 360.25,169.26 360.40,174.99 360.50,178.73 360.75,185.49 360.80,187.00 361.00,190.72 361.25,194.42 361.50,197.52 361.75,199.94 362.00,201.68 362.25,203.81 362.50,205.04 362.75,205.99 363.00,206.50 363.25,208.09 363.50,208.24 363.75,209.59 364.00,210.27 364.25,210.72 364.50,211.28 364.75,211.95 365.00,213.61 365.25,213.28 365.50,213.85 365.75,214.82 366.00,215.11 366.25,215.84 366.50,215.42 366.75,215.92 367.00,218.05 367.25,217.16 367.50,217.45 367.75,218.01 368.00,218.69 368.25,218.20 368.50,219.11 368.75,219.31 369.00,219.89 369.25,220.00 369.50,220.02 369.75,220.16 370.00,219.82 370.25,221.40 370.50,220.70 370.75,221.35 371.00,222.37 371.25,221.79 371.50,222.40 371.75,222.28 372.00,222.83 372.25,222.75 372.50,222.73 372.75,223.62 373.00,223.16 373.25,222.91 373.50,223.45 373.75,223.93 374.00,223.43 374.25,224.30 374.50,224.42 374.75,207.76 375.00,155.00 375.15,163.71 375.25,167.58 375.40,174.16 375.50,177.83 375.75,184.95 375.80,185.94 376.00,189.96 376.25,193.68 376.50,196.77 376.75,199.44 377.00,201.46 377.25,203.08 377.50,204.56 377.75,205.81 378.00,205.69 378.25,207.12 378.50,208.12 378.75,208.73 379.00,210.12 379.25,210.71 379.50,211.04 379.75,211.76 380.00,212.80 380.25,212.76 380.50,213.32 380.75,214.32 381.00,214.66 381.25,215.51 381.50,215.57 381.75,216.17 382.00,216.10 382.25,216.36 382.50,217.12 382.75,216.49 383.00,218.03 383.25,218.60 383.50,218.60 383.75,218.82 384.00,219.63 384.25,219.50 384.50,220.19 384.75,220.93 385.00,220.64 385.25,220.98 385.50,221.06 385.75,221.21 386.00,221.45 386.25,221.59 386.50,222.19 386.75,221.36 387.00,222.07 387.25,222.62 387.50,222.22 387.75,222.68 388.00,222.63 388.25,223.22 388.50,223.53 388.75,223.90 389.00,223.68 389.25,223.35 389.50,223.85 389.75,224.10 390.00,224.54 390.25,205.84 390.50,154.30 390.65,162.09 390.75,167.86 390.90,173.88 391.00,177.39 391.25,184.57 391.30,185.55 391.50,189.20 391.75,193.53 392.00,196.88 392.25,198.77 392.50,200.75 392.75,201.87 393.00,204.13 393.25,204.67 393.50,205.61 393.75,206.67 394.00,207.37 394.25,208.40 394.50,209.72 394.75,210.24 395.00,211.14 395.25,211.80 395.50,211.49 395.75,212.59 396.00,213.53 396.25,214.36 396.50,213.45 396.75,213.93 397.00,215.12 397.25,215.27 397.50,215.45 397.75,216.38 398.00,216.34 398.25,216.15 398.50,217.38 398.75,217.79 399.00,218.32 399.25,218.77 399.50,218.79 399.75,218.93 400.00,219.06 400.25,218.96 400.50,219.69 400.75,220.50 401.00,220.62 401.25,221.39 401.50,220.78 401.75,220.37 402.00,221.58 402.25,221.86 402.50,221.22 402.75,221.23 403.00,222.09 403.25,222.47 403.50,221.94 403.75,222.40 404.00,222.38 404.25,222.38 404.50,222.47 404.75,223.16 405.00,223.09 405.25,223.10 405.30,222.39 405.50,214.28 405.75,173.19 405.80,161.80 405.95,168.92 406.00,171.71 406.20,178.51 406.25,180.72 406.50,187.27 406.60,189.84 406.75,191.85 407.00,195.72 407.25,198.72 407.50,201.84 407.75,202.26 408.00,204.40 408.25,205.28 408.50,206.72 408.75,207.80 409.00,208.46 409.25,209.28 409.50,210.00 409.75,210.34 410.00,211.11 410.25,211.16 410.50,212.22 410.75,212.61 411.00,213.32 411.25,214.19 411.50,214.53 411.75,215.01 412.00,215.69 412.25,214.78 412.50,216.25 412.75,216.47 413.00,216.81 413.25,216.70 413.50,217.75 413.75,218.31 414.00,218.58 414.25,218.46 414.50,219.03 414.75,219.42 415.00,220.03 415.25,220.07 415.50,219.90 415.75,220.12 416.00,220.38 416.25,220.63 416.50,220.56 416.75,221.25 417.00,220.89 417.25,221.04 417.50,221.66 417.75,221.48 418.00,221.77 418.25,221.23 418.50,222.48 418.75,222.32 419.00,222.42 419.25,222.78 419.50,222.82 419.75,222.60 420.00,223.75 420.25,222.93 420.50,223.58 420.75,207.71 421.00,158.10 421.15,166.06 421.25,170.19 421.40,176.63 421.50,179.36 421.75,185.64 421.80,187.65 422.00,191.29 422.25,194.28 422.50,197.90 422.75,199.76 423.00,202.52 423.25,203.62 423.50,204.02 423.75,205.23 424.00,205.96 424.25,207.23 424.50,208.00 424.75,209.00 425.00,209.45 425.25,209.51 425.50,210.38 425.75,211.82 426.00,212.28 426.25,212.31 426.50,212.84 426.75,213.32 427.00,213.86 427.25,213.67 427.50,215.09 427.75,214.91 428.00,215.62 428.25,214.99 428.50,216.41 428.75,217.19 429.00,216.17 429.25,217.93 429.50,217.85 429.75,217.70 430.00,217.66 430.25,218.99 430.50,218.92 430.75,219.31 431.00,219.23 431.25,219.27 431.50,220.14 431.75,219.66 432.00,220.58 432.25,219.81 432.50,220.29 432.75,220.27 433.00,221.51 433.25,220.52 433.50,220.92 433.75,221.77 434.00,221.76 434.25,222.66 434.50,222.66 434.75,222.33 435.00,222.49 435.25,221.66 435.50,222.14 435.75,203.72 436.00,147.60 436.15,156.16 436.25,161.47 436.40,168.07 436.50,172.54 436.75,179.83 436.80,180.80 437.00,185.16 437.25,189.60 437.50,192.47 437.75,195.20 438.00,196.71 438.25,199.33 438.50,200.89 438.75,201.92 439.00,203.08 439.25,204.04 439.50,205.61 439.75,205.76 440.00,205.97 440.25,206.83 440.50,208.21 440.75,209.03 441.00,209.56 441.25,210.20 441.50,210.54 441.75,210.47 442.00,211.31 442.25,211.41 442.50,212.45 442.75,212.56 443.00,213.58 443.25,213.93 443.50,213.67 443.75,215.11 444.00,215.51 444.25,215.07 444.50,216.02 444.75,216.59 445.00,216.54 445.25,217.31 445.50,217.36 445.75,218.00 446.00,217.95 446.25,218.09 446.50,218.62 446.75,218.98 447.00,219.02 447.25,218.98 447.50,219.07 447.75,219.43 448.00,219.56 448.25,220.05 448.50,220.22 448.75,220.30 449.00,220.50 449.25,220.73 449.50,221.43 449.75,221.44 450.00,220.89 450.20,221.39 450.25,220.46 450.50,197.20 450.70,154.30 450.75,156.98 450.85,162.00 451.00,168.35 451.10,173.21 451.25,178.51 451.50,184.13 451.75,189.45 452.00,192.73 452.25,195.78 452.50,197.57 452.75,199.58 453.00,201.11 453.25,201.51 453.50,203.61 453.75,204.45 454.00,204.43 454.25,206.45 454.50,206.94 454.75,207.74 455.00,208.47 455.25,208.80 455.50,209.14 455.75,209.95 456.00,210.51 456.25,212.05 456.50,212.41 456.75,211.98 457.00,212.47 457.25,213.20 457.50,213.72 457.75,213.64 458.00,213.91 458.25,215.42 458.50,215.44 458.75,214.77 459.00,215.02 459.25,215.71 459.50,216.42 459.75,216.84 460.00,216.78 460.25,216.55 460.50,217.53 460.75,217.92 461.00,217.93 461.25,217.97 461.50,218.60 461.75,218.57 462.00,218.36 462.25,219.03 462.50,218.68 462.75,219.73 463.00,219.71 463.25,219.31 463.50,219.93 463.75,220.49 464.00,219.32 464.25,220.23 464.50,221.06 464.75,219.94 465.00,220.61 465.10,220.16 465.25,214.00 465.50,171.83 465.60,145.70 465.75,154.60 466.00,166.61 466.25,175.26 466.40,179.29 466.50,181.87 466.75,186.42 467.00,190.05 467.25,192.19 467.50,194.76 467.75,197.90 468.00,199.08 468.25,199.84 468.50,200.97 468.75,202.11 469.00,202.52 469.25,204.32 469.50,204.22 469.75,205.09 470.00,206.70 470.25,205.72 470.50,207.33 470.75,207.13 471.00,208.15 471.25,208.94 471.50,209.38 471.75,210.11 472.00,210.24 472.25,210.99 472.50,211.03 472.75,211.78 473.00,211.82 473.25,213.03 473.50,212.66 473.75,213.82 474.00,213.75 474.25,214.14 474.50,215.06 474.75,214.96 475.00,214.48 475.25,215.72 475.50,214.67 475.75,216.19 476.00,216.19 476.25,216.05 476.50,216.88 476.75,216.96 477.00,218.09 477.25,217.34 477.50,218.49 477.75,218.46 478.00,217.87 478.25,217.97 478.50,218.98 478.75,218.58 479.00,218.85 479.25,218.84 479.50,218.61 479.75,219.08 480.00,218.98 480.25,200.71 480.50,146.80 480.65,156.37 480.75,161.33 480.90,167.08 481.00,170.80 481.25,178.31 481.30,179.87 481.50,183.70 481.75,187.50 482.00,190.71 482.25,193.81 482.50,196.40 482.75,196.78 483.00,197.62 483.25,199.98 483.50,200.71 483.75,201.77 484.00,203.10 484.25,203.46 484.50,203.68 484.75,204.15 485.00,205.60 485.25,205.83 485.50,207.04 485.75,207.03 486.00,207.98 486.25,208.10 486.50,209.08 486.75,209.56 487.00,210.47 487.25,211.25 487.50,211.10 487.75,211.27 488.00,212.82 488.25,212.60 488.50,213.09 488.75,213.47 489.00,214.17 489.25,214.34 489.50,214.55 489.75,214.91 490.00,214.58 490.25,214.98 490.50,215.47 490.75,215.82 491.00,216.06 491.25,216.44 491.50,216.57 491.75,216.63 492.00,216.38 492.25,217.58 492.50,217.70 492.75,217.32 493.00,218.06 493.25,218.21 493.50,218.27 493.75,217.68 494.00,218.10 494.25,218.50 494.50,219.54 494.75,218.71 494.90,219.00 495.00,216.48 495.25,191.28 495.40,162.50 495.50,166.50 495.55,168.38 495.75,177.25 495.80,178.59 496.00,183.77 496.20,188.65 496.25,189.57 496.50,192.20 496.75,195.91 497.00,198.70 497.25,199.81 497.50,201.43 497.75,203.18 498.00,203.75 498.25,204.31 498.50,205.35 498.75,205.85 499.00,207.30 499.25,207.03 499.50,208.73 499.75,208.25 500.00,209.47 500.25,209.38 500.50,210.34 500.75,211.35 501.00,211.84 501.25,212.35 501.50,212.21 501.75,212.70 502.00,213.13 502.25,213.66 502.50,213.61 502.75,214.56 503.00,214.58 503.25,215.22 503.50,215.26 503.75,215.64 504.00,215.36 504.25,215.76 504.50,215.67 504.75,216.32 505.00,216.61 505.25,217.25 505.50,216.64 505.75,218.65 506.00,217.52 506.25,218.27 506.50,218.38 506.75,217.14 507.00,218.22 507.25,219.09 507.50,217.69 507.75,219.13 508.00,218.61 508.25,218.94 508.50,219.36 508.75,218.66 509.00,219.61 509.25,219.40 509.50,219.48 509.75,220.18 509.90,221.37 510.00,217.63 510.25,189.36 510.40,156.90 510.50,161.89 510.55,164.67 510.75,173.34 510.80,174.54 511.00,180.76 511.20,184.96 511.25,187.06 511.50,189.61 511.75,193.72 512.00,196.19 512.25,198.07 512.50,199.13 512.75,200.48 513.00,202.00 513.25,203.15 513.50,203.53 513.75,204.42 514.00,205.83 514.25,206.73 514.50,206.75 514.75,207.33 515.00,207.91 515.25,209.76 515.50,209.51 515.75,209.80 516.00,210.73 516.25,211.72 516.50,211.73 516.75,211.13 517.00,212.09 517.25,212.37 517.50,212.78 517.75,212.81 518.00,213.50 518.25,213.57 518.50,214.48 518.75,214.68 519.00,214.41 519.25,214.59 519.50,215.37 519.75,216.10 520.00,216.30 520.25,216.33 520.50,215.28 520.75,216.64 521.00,216.77 521.25,217.15 521.50,217.01 521.75,217.53 522.00,217.63 522.25,219.18 522.50,218.55 522.75,218.36 523.00,218.59 523.25,218.72 523.50,219.00 523.75,218.91 524.00,219.21 524.25,219.77 524.50,219.82 524.75,219.74 524.90,220.23 525.00,217.07 525.25,185.52 525.40,150.60 525.50,156.10 525.55,158.97 525.75,168.10 525.80,170.27 526.00,176.11 526.20,181.11 526.25,182.84 526.50,187.63 526.75,190.48 527.00,193.54 527.25,196.13 527.50,197.48 527.75,198.81 528.00,199.27 528.25,201.75 528.50,202.47 528.75,203.17 529.00,203.77 529.25,204.23 529.50,205.42 529.75,206.10 530.00,207.24 530.25,206.93 530.50,208.59 530.75,208.59 531.00,209.60 531.25,209.26 531.50,210.29 531.75,211.12 532.00,211.14 532.25,210.95 532.50,211.84 532.75,212.60 533.00,212.22 533.25,212.58 533.50,213.62 533.75,213.50 534.00,214.49 534.25,214.07 534.50,214.12 534.75,214.85 535.00,216.05 535.25,215.39 535.50,216.00 535.75,216.36 536.00,216.13 536.25,217.19 536.50,217.06 536.75,217.39 537.00,216.75 537.25,216.93 537.50,216.72 537.75,217.94 538.00,218.11 538.25,218.67 538.50,219.14 538.75,218.61 539.00,218.76 539.25,219.20 539.50,219.78 539.75,200.10 540.00,143.80 540.15,152.89 540.25,158.06 540.40,165.17 540.50,168.31 540.75,175.84 540.80,177.80 541.00,181.93 541.25,186.12 541.50,189.47 541.75,192.32 542.00,194.07 542.25,196.26 542.50,197.60 542.75,199.31 543.00,200.36 543.25,201.22 543.50,201.74 543.75,202.74 544.00,203.27 544.25,205.42 544.50,204.91 544.75,205.92 545.00,206.90 545.25,206.45 545.50,207.27 545.75,208.02 546.00,208.34 546.25,208.76 546.50,209.58 546.75,210.80 547.00,211.05 547.25,211.23 547.50,211.67 547.75,211.42 548.00,212.77 548.25,213.05 548.50,212.83 548.75,213.71 549.00,213.90 549.25,214.10 549.50,214.24 549.75,214.67 550.00,214.87 550.25,215.72 550.50,215.96 550.75,216.21 551.00,216.26 551.25,216.42 551.50,217.64 551.75,216.30 552.00,217.75 552.25,217.62 552.50,217.71 552.75,217.68 553.00,217.98 553.25,217.78 553.50,217.87 553.75,218.55 554.00,218.10 554.25,219.25 554.50,219.51 554.75,217.83 554.80,218.61 555.00,208.15 555.25,162.22 555.30,148.70 555.45,157.49 555.50,160.14 555.70,168.79 555.75,170.99 556.00,177.91 556.10,180.70 556.25,182.89 556.50,187.73 556.75,190.55 557.00,194.14 557.25,196.57 557.50,197.54 557.75,198.23 558.00,199.94 558.25,201.09 558.50,202.14 558.75,203.39 559.00,204.17 559.25,203.50 559.50,205.84 559.75,205.78 560.00,206.41 560.25,207.83 560.50,207.75 560.75,207.87 561.00,208.43 561.25,209.51 561.50,210.35 561.75,211.07 562.00,210.86 562.25,211.19 562.50,212.45 562.75,212.03 563.00,213.19 563.25,213.08 563.50,213.45 563.75,213.61 564.00,214.16 564.25,214.18 564.50,214.41 564.75,214.93 565.00,215.01 565.25,215.67 565.50,215.85 565.75,215.97 566.00,216.24 566.25,216.47 566.50,217.48 566.75,217.00 567.00,216.98 567.25,217.30 567.50,217.88 567.75,217.72 568.00,217.92 568.25,218.05 568.50,218.39 568.75,218.64 569.00,218.81 569.25,218.13 569.50,218.50 569.75,218.01 569.80,219.41 570.00,207.57 570.25,158.66 570.30,143.80 570.45,153.42 570.50,155.63 570.70,164.73 570.75,166.11 571.00,174.51 571.10,177.19 571.25,181.18 571.50,185.98 571.75,188.58 572.00,191.62 572.25,193.76 572.50,195.13 572.75,196.26 573.00,197.96 573.25,198.84 573.50,200.32 573.75,201.34 574.00,202.20 574.25,203.02 574.50,204.05 574.75,204.22 575.00,205.64 575.25,205.27 575.50,206.60 575.75,207.33 576.00,207.44 576.25,207.67 576.50,209.10 576.75,209.09 577.00,210.16 577.25,210.63 577.50,210.77 577.75,211.21 578.00,212.03 578.25,212.19 578.50,212.05 578.75,212.87 579.00,213.38 579.25,213.59 579.50,213.91 579.75,214.10 580.00,214.42 580.25,214.39 580.50,214.47 580.75,215.77 581.00,215.33 581.25,215.92 581.50,215.48 581.75,216.37 582.00,216.20 582.25,217.93 582.50,216.55 582.75,216.77 583.00,217.72 583.25,217.98 583.50,216.87 583.75,217.98 584.00,218.39 584.25,217.71 584.50,218.62 584.70,218.26 584.75,217.34 585.00,191.30 585.20,143.10 585.25,145.81 585.35,153.19 585.50,159.70 585.60,163.88 585.75,170.03 586.00,176.85 586.25,182.77 586.50,186.20 586.75,189.58 587.00,191.96 587.25,194.01 587.50,195.53 587.75,197.00 588.00,198.96 588.25,199.13 588.50,200.19 588.75,201.19 589.00,202.41 589.25,203.14 589.50,204.11 589.75,203.92 590.00,205.24 590.25,205.72 590.50,206.30 590.75,207.07 591.00,206.80 591.25,208.24 591.50,208.71 591.75,208.59 592.00,209.61 592.25,210.73 592.50,210.41 592.75,211.23 593.00,211.33 593.25,211.49 593.50,211.83 593.75,212.41 594.00,213.44 594.25,213.59 594.50,213.32 594.75,214.31 595.00,214.16 595.25,214.23 595.50,214.96 595.75,214.70 596.00,214.70 596.25,216.08 596.50,215.09 596.75,216.25 597.00,215.66 597.25,216.46 597.50,216.60 597.75,198.43 598.00,143.80 598.15,152.85 598.25,158.02 598.40,164.26 598.50,168.33 598.75,176.30 598.80,176.88 599.00,181.62 599.25,185.29 599.50,189.16 599.75,191.82 600.00,194.62 600.25,195.71 600.50,196.98 600.75,198.63 601.00,198.80 601.25,200.62 601.50,200.91 601.75,201.74 602.00,203.22 602.25,203.63 602.50,204.78 602.75,204.36 603.00,205.69 603.25,206.00 603.50,206.69 603.75,206.62 604.00,208.28 604.25,208.52 604.50,208.55 604.75,208.90 605.00,209.55 605.25,210.89 605.50,210.73 605.75,211.05 606.00,211.78 606.25,211.97 606.50,212.43 606.75,212.98 607.00,213.16 607.25,213.70 607.50,213.20 607.75,214.00 608.00,214.13 608.25,214.59 608.50,214.80 608.75,214.82 609.00,215.19 609.25,215.93 609.50,215.58 609.75,215.52 610.00,216.46 610.25,216.81 610.50,216.52 610.75,216.87 611.00,216.67 611.25,217.09 611.50,217.77 611.75,217.82 612.00,217.71 612.25,200.90 612.50,150.60 612.65,158.99 612.75,163.73 612.90,169.94 613.00,173.72 613.25,179.94 613.30,181.31 613.50,184.45 613.75,189.21 614.00,192.04 614.25,194.56 614.50,196.17 614.75,197.64 615.00,199.37 615.25,199.68 615.50,201.20 615.75,202.29 616.00,202.40 616.25,203.04 616.50,204.39 616.75,204.95 617.00,205.79 617.25,206.42 617.50,206.46 617.75,207.46 618.00,208.30 618.25,208.24 618.50,208.77 618.75,208.92 619.00,210.13 619.25,211.01 619.50,210.14 619.75,211.38 620.00,211.83 620.25,211.63 620.50,212.07 620.75,212.15 621.00,212.59 621.25,213.28 621.50,213.78 621.75,213.87 622.00,214.44 622.25,214.46 622.50,214.19 622.75,215.46 623.00,215.60 623.25,215.10 623.50,216.29 623.75,216.00 624.00,216.08 624.25,216.98 624.50,215.45 624.75,215.98 625.00,217.06 625.25,216.86 625.50,216.75 625.75,217.87 626.00,217.62 626.25,217.08 626.50,217.46 626.75,205.10 627.00,165.50 627.15,171.23 627.25,175.79 627.40,180.24 627.50,182.38 627.75,188.39 627.80,188.73 628.00,192.25 628.25,196.11 628.50,198.01 628.75,199.94 629.00,201.35 629.25,202.48 629.50,203.76 629.75,203.82 630.00,204.93 630.25,206.13 630.50,206.17 630.75,206.89 631.00,208.11 631.25,208.77 631.50,208.45 631.75,208.85 632.00,209.86 632.25,210.18 632.50,210.23 632.75,211.13 633.00,211.51 633.25,211.70 633.50,213.17 633.75,212.90 634.00,213.02 634.25,213.42 634.50,214.48 634.75,214.05 635.00,213.62 635.25,214.30 635.50,214.46 635.75,214.46 636.00,215.03 636.25,215.26 636.50,215.36 636.75,215.41 637.00,216.13 637.25,215.38 637.50,216.51 637.75,216.38 638.00,216.66 638.25,215.79 638.50,217.54 638.75,216.36 639.00,216.85 639.25,217.59 639.50,217.24 639.75,217.45 640.00,216.86 640.25,217.69 640.50,218.06 640.75,218.35 641.00,218.09 641.25,218.39 641.50,218.57 641.75,204.99 642.00,165.50 642.15,172.75 642.25,175.30 642.40,180.79 642.50,182.99 642.75,188.90 642.80,188.97 643.00,192.51 643.25,195.44 643.50,197.53 643.75,199.56 644.00,200.61 644.25,202.09 644.50,203.00 644.75,204.35 645.00,204.81 645.25,205.01 645.50,206.07 645.75,206.78 646.00,207.04 646.25,208.45 646.50,208.59 646.75,209.24 647.00,209.07 647.25,209.65 647.50,210.63 647.75,210.07 648.00,211.16 648.25,211.43 648.50,211.55 648.75,212.13 649.00,212.00 649.25,212.82 649.50,212.56 649.75,212.83 650.00,214.16 650.25,213.61 650.50,213.31 650.75,214.78 651.00,214.33 651.25,213.48 651.50,215.07 651.75,215.67 652.00,215.65 652.25,216.38 652.50,215.85 652.75,216.31 653.00,215.86 653.25,216.49 653.50,217.19 653.75,216.94 654.00,216.95 654.25,216.26 654.50,217.02 654.75,216.80 655.00,217.74 655.25,217.27 655.50,217.82 655.75,217.39 656.00,218.64 656.20,217.52 656.25,217.41 656.50,195.78 656.70,153.20 656.75,155.67 656.85,161.32 657.00,167.93 657.10,171.54 657.25,175.12 657.50,182.12 657.75,185.76 658.00,190.81 658.25,192.77 658.50,194.68 658.75,196.84 659.00,198.20 659.25,198.76 659.50,200.93 659.75,201.13 660.00,201.39 660.25,203.42 660.50,204.21 660.75,204.78 661.00,205.15 661.25,205.19 661.50,206.49 661.75,207.41 662.00,207.53 662.25,208.35 662.50,207.90 662.75,209.07 663.00,209.49 663.25,208.96 663.50,209.32 663.75,210.08 664.00,210.78 664.25,211.30 664.50,211.38 664.75,211.79 665.00,212.10 665.25,212.49 665.50,212.99 665.75,213.25 666.00,213.31 666.25,213.70 666.50,213.68 666.75,214.42 667.00,214.15 667.25,215.23 667.50,214.79 667.75,215.12 668.00,214.91 668.25,215.28 668.50,215.67 668.75,215.79 669.00,215.71 669.25,215.67 669.50,216.30 669.75,216.50 670.00,216.81 670.25,217.23 670.50,216.75 670.75,216.21 670.80,216.97 671.00,206.17 671.25,164.88 671.30,153.20 671.45,161.27 671.50,163.07 671.70,170.87 671.75,172.75 672.00,178.99 672.10,182.10 672.25,184.66 672.50,189.37 672.75,191.16 673.00,194.29 673.25,195.48 673.50,197.68 673.75,198.17 674.00,199.97 674.25,200.49 674.50,201.22 674.75,202.29 675.00,203.29 675.25,203.96 675.50,205.08 675.75,205.40 676.00,204.62 676.25,206.07 676.50,205.97 676.75,207.13 677.00,208.02 677.25,207.72 677.50,208.23 677.75,209.20 678.00,209.45 678.25,210.59 678.50,210.48 678.75,210.94 679.00,211.78 679.25,211.23 679.50,211.76 679.75,211.68 680.00,212.49 680.25,213.09 680.50,213.51 680.75,213.22 681.00,213.21 681.25,213.44 681.50,213.43 681.75,214.27 682.00,214.99 682.25,213.72 682.50,214.00 682.75,215.63 683.00,214.62 683.25,215.58 683.50,215.12 683.75,216.10 684.00,216.27 684.25,216.18 684.50,216.59 684.75,216.43 685.00,216.77 685.25,201.35 685.50,152.40 685.65,160.05 685.75,164.45 685.90,170.37 686.00,173.61 686.25,180.28 686.30,181.10 686.50,185.37 686.75,188.79 687.00,191.74 687.25,193.82 687.50,195.86 687.75,196.62 688.00,198.98 688.25,199.59 688.50,200.60 688.75,201.54 689.00,202.52 689.25,203.13 689.50,203.62 689.75,204.11 690.00,204.15 690.25,205.48 690.50,205.83 690.75,206.37 691.00,207.97 691.25,206.76 691.50,207.99 691.75,208.91 692.00,209.25 692.25,209.78 692.50,209.18 692.75,209.69 693.00,210.69 693.25,210.69 693.50,211.83 693.75,211.57 694.00,211.88 694.25,212.28 694.50,212.29 694.75,212.73 695.00,212.69 695.25,213.21 695.50,213.28 695.75,213.82 696.00,213.38 696.25,213.58 696.50,214.57 696.75,214.68 697.00,214.41 697.25,214.89 697.50,214.75 697.75,216.16 698.00,214.89 698.25,216.36 698.50,215.51 698.75,216.15 699.00,216.03 699.20,216.09 699.25,216.03 699.50,194.39 699.70,154.30 699.75,156.68 699.85,162.79 700.00,168.80 700.10,171.85 700.25,176.24 700.50,182.43 700.75,186.78 701.00,190.59 701.25,192.32 701.50,194.77 701.75,196.12 702.00,198.34 702.25,199.72 702.50,200.00 702.75,201.17 703.00,202.35 703.25,202.43 703.50,202.88 703.75,204.33 704.00,204.75 704.25,205.05 704.50,206.29 704.75,206.33 705.00,206.04 705.25,207.39 705.50,207.70 705.75,208.93 706.00,208.61 706.25,208.95 706.50,209.61 706.75,209.92 707.00,209.63 707.25,210.60 707.50,210.76 707.75,211.79 708.00,212.50 708.25,211.40 708.50,211.76 708.75,212.09 709.00,212.43 709.25,212.68 709.50,213.23 709.75,213.89 710.00,213.16 710.25,213.29 710.50,213.39 710.75,214.77 711.00,215.06 711.25,214.10 711.50,214.25 711.75,215.13 712.00,215.68 712.25,215.82 712.50,215.64 712.75,215.99 713.00,215.99 713.25,215.78 713.50,216.90 713.75,216.26 714.00,215.94 714.20,216.29 714.25,215.19 714.50,191.51 714.70,146.80 714.75,149.34 714.85,155.76 715.00,163.10 715.10,166.37 715.25,170.81 715.50,177.55 715.75,182.68 716.00,186.03 716.25,188.93 716.50,191.61 716.75,193.49 717.00,195.34 717.25,195.93 717.50,198.31 717.75,199.00 718.00,199.86 718.25,200.09 718.50,201.83 718.75,201.73 719.00,203.29 719.25,203.65 719.50,203.49 719.75,204.27 720.00,205.77 720.25,205.97 720.50,206.03 720.75,206.68 721.00,207.16 721.25,207.24 721.50,207.92 721.75,208.16 722.00,208.67 722.25,209.42 722.50,209.24 722.75,210.28 723.00,210.38 723.25,210.99 723.50,211.36 723.75,211.82 724.00,211.88 724.25,212.20 724.50,212.12 724.75,212.69 725.00,212.36 725.25,212.87 725.50,213.51 725.75,213.42 726.00,213.84 726.25,213.45 726.50,214.62 726.75,214.04 727.00,214.62 727.25,214.63 727.50,215.19 727.75,214.83 728.00,214.74 728.25,214.54 728.40,215.27 728.50,212.56 728.75,186.18 728.90,155.10 729.00,159.39 729.05,162.09 729.25,170.67 729.30,172.72 729.50,178.13 729.70,182.66 729.75,183.70 730.00,187.83 730.25,191.38 730.50,193.39 730.75,194.57 731.00,196.45 731.25,198.03 731.50,198.75 731.75,199.95 732.00,200.73 732.25,201.46 732.50,202.75 732.75,203.00 733.00,203.36 733.25,204.12 733.50,204.99 733.75,206.37 734.00,206.15 734.25,207.14 734.50,207.22 734.75,206.62 735.00,208.08 735.25,208.01 735.50,208.21 735.75,208.71 736.00,210.24 736.25,209.25 736.50,209.98 736.75,211.03 737.00,211.15 737.25,210.51 737.50,211.45 737.75,211.57 738.00,211.97 738.25,212.62 738.50,212.34 738.75,212.68 739.00,213.63 739.25,212.53 739.50,213.34 739.75,213.89 740.00,213.40 740.25,213.83 740.50,213.74 740.75,214.51 741.00,214.36 741.25,215.09 741.50,215.34 741.75,215.10 742.00,215.07 742.25,215.46 742.50,215.51 742.60,215.05 742.75,210.77 743.00,178.20 743.10,156.90 743.25,163.61 743.50,173.81 743.75,181.08 743.90,183.66 744.00,184.65 744.25,189.00 744.50,191.82 744.75,194.16 745.00,195.76 745.25,197.51 745.50,198.35 745.75,199.68 746.00,200.24 746.25,201.39 746.50,202.50 746.75,202.60 747.00,203.72 747.25,203.70 747.50,204.48 747.75,205.08 748.00,206.20 748.25,205.89 748.50,207.17 748.75,206.54 749.00,207.50 749.25,208.36 749.50,208.67 749.75,208.37 750.00,208.66 750.25,209.86 750.50,209.34 750.75,210.41 751.00,210.29 751.25,210.80 751.50,212.03 751.75,212.00 752.00,211.99 752.25,211.35 752.50,212.29 752.75,212.42 753.00,212.59 753.25,213.39 753.50,212.37 753.75,213.40 754.00,213.52 754.25,213.35 754.50,214.53 754.75,213.50 755.00,214.19 755.25,214.37 755.50,213.61 755.75,214.06 756.00,214.39 756.25,215.24 756.50,215.44 756.75,215.42 757.00,215.40 757.20,214.51 757.25,214.82 757.50,190.59 757.70,146.80 757.75,150.34 757.85,156.08 758.00,162.32 758.10,166.25 758.25,170.49 758.50,177.45 758.75,181.77 759.00,186.30 759.25,188.30 759.50,190.94 759.75,192.51 760.00,194.17 760.25,195.84 760.50,196.55 760.75,197.87 761.00,198.28 761.25,200.08 761.50,200.02 761.75,201.42 762.00,202.56 762.25,201.35 762.50,202.55 762.75,203.45 763.00,204.57 763.25,204.44 763.50,205.30 763.75,205.35 764.00,206.35 764.25,206.08 764.50,207.35 764.75,206.22 765.00,207.07 765.25,208.96 765.50,208.67 765.75,208.59 766.00,210.20 766.25,210.06 766.50,210.41 766.75,210.09 767.00,210.81 767.25,211.04 767.50,210.44 767.75,211.61 768.00,211.55 768.25,212.39 768.50,212.63 768.75,212.06 769.00,212.29 769.25,212.82 769.50,213.21 769.75,212.96 770.00,213.27 770.25,213.74 770.50,213.83 770.75,214.29 771.00,214.07 771.25,213.76 771.50,213.55 771.75,214.74 771.80,214.30 772.00,204.46 772.25,164.14 772.30,152.40 772.45,159.90 772.50,161.23 772.70,169.74 772.75,171.15 773.00,179.01 773.10,180.61 773.25,183.15 773.50,187.05 773.75,190.16 774.00,191.80 774.25,193.83 774.50,195.26 774.75,197.68 775.00,197.78 775.25,197.90 775.50,199.89 775.75,201.41 776.00,200.68 776.25,203.18 776.50,202.37 776.75,203.41 777.00,203.34 777.25,204.00 777.50,204.13 777.75,204.70 778.00,204.74 778.25,206.54 778.50,206.04 778.75,207.09 779.00,207.48 779.25,207.47 779.50,208.13 779.75,208.43 780.00,208.61 780.25,209.17 780.50,209.49 780.75,209.36 781.00,209.54 781.25,210.01 781.50,210.68 781.75,211.47 782.00,211.75 782.25,211.52 782.50,212.02 782.75,211.90 783.00,212.52 783.25,212.32 783.50,212.63 783.75,212.54 784.00,212.84 784.25,213.80 784.50,212.70 784.75,213.35 785.00,213.27 785.25,214.06 785.50,214.55 785.75,213.81 786.00,212.93 786.25,214.46 786.50,214.58 786.70,213.72 786.75,213.85 787.00,196.88 787.20,165.50 787.25,167.96 787.35,171.76 787.50,176.66 787.60,178.94 787.75,182.71 788.00,187.47 788.25,191.45 788.50,193.51 788.75,196.58 789.00,197.76 789.25,198.02 789.50,200.72 789.75,201.02 790.00,201.54 790.25,202.54 790.50,202.40 790.75,203.83 791.00,203.29 791.25,204.41 791.50,205.89 791.75,206.32 792.00,206.10 792.25,206.26 792.50,207.46 792.75,207.43 793.00,207.92 793.25,208.44 793.50,208.08 793.75,209.18 794.00,208.29 794.25,210.08 794.50,209.11 794.75,209.78 795.00,210.04 795.25,210.88 795.50,211.13 795.75,211.21 796.00,211.52 796.25,211.70 796.50,211.69 796.75,211.13 797.00,211.16 797.25,211.35 797.50,212.47 797.75,212.57 798.00,212.77 798.25,213.08 798.50,213.04 798.75,212.87 799.00,212.80 799.25,212.78 799.50,214.20 799.75,214.20 800.00,213.38 800.25,213.94 800.50,214.35 800.75,214.94 801.00,214.12 801.25,196.70 801.50,143.10 801.65,151.00 801.75,156.29 801.90,162.80 802.00,166.05 802.25,174.37 802.30,175.04 802.50,178.87 802.75,182.39 803.00,186.23 803.25,188.55 803.50,190.03 803.75,191.68 804.00,192.62 804.25,194.39 804.50,195.84 804.75,196.84 805.00,197.54 805.25,198.45 805.50,198.61 805.75,199.37 806.00,200.74 806.25,201.07 806.50,201.16 806.75,202.28 807.00,202.97 807.25,203.46 807.50,203.72 807.75,203.95 808.00,204.81 808.25,205.80 808.50,205.59 808.75,205.67 809.00,206.49 809.25,206.22 809.50,207.21 809.75,207.34 810.00,208.21 810.25,208.18 810.50,208.90 810.75,209.72 811.00,208.97 811.25,208.99 811.50,209.80 811.75,209.83 812.00,210.18 812.25,210.11 812.50,210.82 812.75,210.84 813.00,210.12 813.25,211.13 813.50,211.56 813.75,212.10 814.00,211.55 814.25,211.64 814.50,212.61 814.75,212.04 815.00,212.49 815.20,212.77 815.25,212.18 815.50,186.74 815.70,140.50 815.75,144.07 815.85,149.18 816.00,156.41 816.10,161.59 816.25,166.41 816.50,172.51 816.75,177.89 817.00,181.88 817.25,184.68 817.50,186.57 817.75,189.64 818.00,191.23 818.25,192.38 818.50,193.30 818.75,194.61 819.00,195.75 819.25,195.93 819.50,197.05 819.75,197.72 820.00,198.96 820.25,199.46 820.50,199.47 820.75,200.37 821.00,201.95 821.25,201.38 821.50,202.39 821.75,202.59 822.00,203.87 822.25,203.81 822.50,204.12 822.75,204.26 823.00,205.07 823.25,205.93 823.50,206.26 823.75,205.81 824.00,207.37 824.25,206.97 824.50,206.97 824.75,207.79 825.00,207.79 825.25,208.11 825.50,208.37 825.75,208.87 826.00,208.97 826.25,208.72 826.50,209.89 826.75,209.69 827.00,210.63 827.25,210.58 827.50,210.82 827.75,210.84 828.00,211.49 828.25,211.00 828.50,210.91 828.75,211.63 829.00,210.53 829.25,211.66 829.50,212.05 829.75,211.93 830.00,212.76 830.10,212.59 830.25,205.75 830.50,164.79 830.60,138.20 830.75,146.97 831.00,158.73 831.25,167.71 831.40,171.62 831.50,174.50 831.75,178.26 832.00,181.16 832.25,185.00 832.50,187.48 832.75,188.72 833.00,190.97 833.25,192.38 833.50,192.53 833.75,193.65 834.00,194.28 834.25,195.89 834.50,196.78 834.75,197.50 835.00,197.46 835.25,198.34 835.50,198.72 835.75,199.26 836.00,199.97" fill="none" stroke="#FFC000" stroke-width="1" stroke-linejoin="round" stroke-opacity="0.62"/>
<polyline points="108.00,320.82 108.25,320.33 108.50,318.76 108.75,319.53 109.00,318.77 109.25,319.74 109.50,320.25 109.75,319.82 110.00,319.99 110.25,319.35 110.50,318.22 110.75,318.21 111.00,319.37 111.25,319.77 111.50,320.20 111.75,319.19 112.00,319.45 112.25,319.55 112.50,320.04 112.75,319.34 113.00,318.70 113.25,320.04 113.50,319.62 113.75,319.59 114.00,318.57 114.25,319.34 114.50,318.28 114.75,318.10 115.00,319.18 115.25,319.05 115.50,319.67 115.75,320.20 116.00,319.28 116.25,320.40 116.50,318.93 116.75,319.75 117.00,318.50 117.25,319.35 117.50,319.07 117.75,319.13 118.00,319.62 118.25,318.09 118.50,319.31 118.75,318.73 118.90,319.30 119.00,310.45 119.20,238.00 119.25,245.91 119.35,258.71 119.50,274.03 119.60,280.08 119.75,288.18 120.00,294.67 120.25,300.75 120.50,301.99 120.75,305.19 121.00,305.60 121.25,307.36 121.50,307.91 121.75,309.29 122.00,309.66 122.25,311.15 122.50,311.44 122.75,312.05 123.00,313.22 123.25,312.28 123.50,313.99 123.75,313.67 124.00,313.12 124.25,314.70 124.50,314.63 124.75,316.11 125.00,315.07 125.25,315.67 125.50,316.04 125.75,314.95 126.00,316.65 126.25,315.93 126.50,317.59 126.75,317.92 127.00,317.04 127.25,316.21 127.50,317.43 127.75,317.55 128.00,318.00 128.25,317.48 128.50,317.02 128.75,317.75 129.00,317.35 129.25,319.08 129.50,317.63 129.75,317.72 130.00,318.15 130.25,317.47 130.50,318.01 130.75,318.24 131.00,318.06 131.25,318.25 131.50,319.20 131.75,318.73 132.00,317.67 132.25,318.25 132.50,319.00 132.75,318.16 133.00,318.63 133.25,318.58 133.50,318.94 133.75,318.52 134.00,318.55 134.25,318.12 134.50,318.88 134.75,318.10 135.00,319.74 135.25,318.67 135.50,318.55 135.75,319.17 136.00,318.64 136.25,318.75 136.50,318.66 136.75,318.25 137.00,318.13 137.25,318.27 137.50,319.40 137.75,318.31 138.00,318.45 138.25,318.42 138.50,319.12 138.75,319.91 139.00,318.12 139.25,319.03 139.50,318.76 139.75,318.50 140.00,318.99 140.25,317.89 140.50,319.18 140.75,318.80 141.00,318.05 141.25,319.64 141.50,319.18 141.75,319.36 142.00,317.75 142.25,318.47 142.50,318.32 142.75,319.02 143.00,319.46 143.25,317.45 143.50,318.63 143.75,318.53 144.00,319.22 144.25,318.57 144.50,317.81 144.75,318.47 145.00,317.95 145.25,318.10 145.50,318.60 145.75,318.27 146.00,318.73 146.25,317.62 146.50,319.97 146.75,319.32 147.00,318.98 147.25,317.74 147.50,317.20 147.75,317.99 148.00,318.37 148.25,319.88 148.50,319.30 148.75,318.17 149.00,319.23 149.25,319.23 149.50,318.49 149.60,319.22 149.75,297.63 149.90,234.30 150.00,249.36 150.05,256.42 150.25,275.65 150.30,277.50 150.50,287.01 150.70,294.27 150.75,293.37 151.00,300.23 151.25,301.43 151.50,303.96 151.75,306.04 152.00,305.15 152.25,306.39 152.50,309.29 152.75,308.54 153.00,309.36 153.25,310.25 153.50,311.38 153.75,312.11 154.00,311.89 154.25,312.10 154.50,312.74 154.75,313.36 155.00,314.36 155.25,313.99 155.50,315.35 155.75,314.01 156.00,315.14 156.25,316.15 156.50,316.10 156.75,315.73 157.00,315.19 157.25,315.48 157.50,315.99 157.75,316.44 158.00,316.24 158.25,315.64 158.50,316.20 158.75,317.09 159.00,317.39 159.25,316.11 159.50,316.84 159.75,316.12 160.00,316.87 160.25,319.46 160.50,317.39 160.75,317.20 161.00,317.10 161.25,316.77 161.50,316.42 161.75,317.57 162.00,317.47 162.25,318.58 162.50,316.70 162.75,318.00 163.00,318.58 163.25,316.58 163.50,318.20 163.75,316.83 164.00,318.16 164.25,318.76 164.50,317.86 164.75,318.05 165.00,317.46 165.25,318.08 165.50,318.60 165.75,317.80 166.00,317.83 166.25,318.17 166.50,318.44 166.75,316.93 167.00,317.97 167.25,317.52 167.50,318.25 167.75,318.58 168.00,318.13 168.25,318.74 168.50,317.33 168.75,317.69 169.00,317.33 169.25,317.98 169.50,318.00 169.75,317.81 170.00,317.19 170.25,317.88 170.50,317.66 170.75,318.29 171.00,317.75 171.25,318.63 171.50,318.05 171.75,316.77 172.00,317.80 172.25,317.02 172.50,318.49 172.75,318.77 173.00,317.87 173.25,318.15 173.50,316.99 173.75,316.49 174.00,317.52 174.25,317.70 174.50,316.93 174.75,317.91 175.00,318.04 175.25,318.23 175.50,318.78 175.75,318.33 176.00,317.60 176.25,317.88 176.50,318.18 176.75,317.16 177.00,318.61 177.25,318.35 177.50,317.65 177.75,317.39 178.00,320.11 178.25,318.29 178.50,318.34 178.75,318.86 179.00,318.36 179.25,317.88 179.50,318.17 179.75,317.18 180.00,318.17 180.25,316.78 180.50,317.98 180.75,318.06 181.00,316.75 181.25,265.41 181.30,240.70 181.45,261.65 181.50,265.81 181.70,281.18 181.75,283.23 182.00,294.39 182.10,295.89 182.25,299.10 182.50,301.54 182.75,303.51 183.00,304.65 183.25,305.58 183.50,307.08 183.75,307.67 184.00,308.25 184.25,308.20 184.50,309.50 184.75,310.66 185.00,310.54 185.25,311.55 185.50,311.72 185.75,311.60 186.00,312.08 186.25,312.54 186.50,313.16 186.75,313.49 187.00,314.63 187.25,313.54 187.50,313.20 187.75,315.10 188.00,314.61 188.25,315.01 188.50,316.83 188.75,316.33 189.00,315.94 189.25,316.30 189.50,315.92 189.75,316.56 190.00,315.70 190.25,315.74 190.50,315.98 190.75,317.33 191.00,317.39 191.25,316.14 191.50,317.29 191.75,316.54 192.00,317.35 192.25,316.55 192.50,317.38 192.75,316.76 193.00,316.70 193.25,316.89 193.50,317.04 193.75,316.61 194.00,316.16 194.25,318.07 194.50,316.80 194.75,315.95 195.00,315.69 195.25,315.37 195.50,316.74 195.75,317.96 196.00,316.13 196.25,316.95 196.50,316.03 196.75,317.85 197.00,317.40 197.25,317.38 197.50,318.02 197.75,318.20 198.00,317.83 198.25,316.84 198.50,316.38 198.75,316.56 199.00,316.12 199.25,318.31 199.50,317.08 199.75,317.28 200.00,317.32 200.25,318.44 200.50,316.85 200.75,317.92 201.00,317.38 201.25,317.10 201.50,316.00 201.75,317.75 202.00,316.72 202.25,316.89 202.50,317.31 202.75,317.23 203.00,317.86 203.25,316.75 203.50,317.26 203.75,317.32 204.00,317.16 204.25,317.56 204.50,316.98 204.75,317.88 205.00,316.69 205.25,316.23 205.50,317.09 205.75,317.84 206.00,316.79 206.25,316.71 206.50,316.88 206.75,317.19 207.00,316.98 207.25,317.27 207.50,316.01 207.75,317.99 208.00,317.42 208.25,316.52 208.50,317.90 208.75,317.32 209.00,317.95 209.25,316.31 209.50,318.05 209.75,317.05 210.00,315.74 210.25,317.47 210.50,316.82 210.75,316.37 211.00,316.86 211.25,315.79 211.50,317.34 211.75,316.84 212.00,316.80 212.25,317.84 212.50,316.98 212.75,316.54 213.00,316.36 213.25,316.90 213.50,317.59 213.75,316.57 214.00,316.28 214.25,317.48 214.50,316.94 214.75,316.88 215.00,318.18 215.25,316.14 215.40,317.01 215.50,305.87 215.70,227.60 215.75,236.93 215.85,251.86 216.00,266.06 216.10,274.84 216.25,282.95 216.50,290.78 216.75,297.17 217.00,298.63 217.25,300.13 217.50,302.48 217.75,302.32 218.00,305.52 218.25,306.12 218.50,306.12 218.75,307.54 219.00,308.21 219.25,309.74 219.50,308.78 219.75,308.93 220.00,309.00 220.25,310.55 220.50,310.21 220.75,311.49 221.00,312.23 221.25,312.06 221.50,312.07 221.75,313.69 222.00,313.11 222.25,313.63 222.50,314.31 222.75,313.14 223.00,313.57 223.25,315.87 223.50,314.40 223.75,314.02 224.00,314.65 224.25,314.58 224.50,314.30 224.75,314.92 225.00,315.27 225.25,315.37 225.50,315.80 225.75,314.48 226.00,314.70 226.25,316.18 226.50,315.48 226.75,316.57 227.00,316.06 227.25,315.05 227.50,316.29 227.75,315.38 228.00,316.20 228.25,316.83 228.50,317.41 228.75,316.09 229.00,316.59 229.25,316.37 229.50,316.69 229.75,314.65 230.00,316.00 230.25,316.43 230.50,316.56 230.75,315.82 231.00,316.80 231.25,316.98 231.50,316.35 231.75,316.18 232.00,316.10 232.25,316.41 232.50,317.06 232.75,317.26 233.00,316.05 233.25,315.77 233.50,315.85 233.75,316.95 234.00,316.48 234.25,316.53 234.50,316.64 234.75,316.58 235.00,316.27 235.25,315.70 235.50,315.96 235.75,316.41 236.00,316.58 236.25,316.10 236.50,316.07 236.75,317.17 237.00,316.03 237.25,316.45 237.50,316.12 237.75,315.78 238.00,315.37 238.25,315.97 238.50,315.79 238.75,316.81 239.00,315.58 239.25,316.03 239.50,316.68 239.75,316.20 240.00,316.57 240.25,316.78 240.50,315.24 240.75,316.00 241.00,315.66 241.25,317.07 241.50,316.16 241.75,316.53 242.00,317.27 242.25,316.00 242.50,316.26 242.75,316.46 243.00,316.04 243.25,316.96 243.50,316.69 243.75,316.80 244.00,316.21 244.25,315.96 244.50,315.95 244.75,315.94 245.00,315.15 245.25,316.37 245.50,316.64 245.75,316.13 246.00,315.83 246.25,316.15 246.50,316.26 246.75,316.31 247.00,317.20 247.25,315.58 247.50,316.32 247.75,316.51 248.00,316.13 248.25,315.93 248.50,315.44 248.75,315.70 249.00,316.49 249.25,316.94 249.50,315.64 249.75,267.91 249.80,246.30 249.95,265.32 250.00,269.50 250.20,283.06 250.25,285.74 250.50,292.83 250.60,295.74 250.75,297.11 251.00,299.76 251.25,302.30 251.50,303.19 251.75,305.49 252.00,306.68 252.25,306.67 252.50,307.47 252.75,308.05 253.00,308.61 253.25,309.39 253.50,310.01 253.75,309.98 254.00,310.20 254.25,310.75 254.50,311.91 254.75,311.50 255.00,312.94 255.25,312.20 255.50,313.44 255.75,312.13 256.00,312.65 256.25,313.57 256.50,313.76 256.75,313.54 257.00,315.04 257.25,313.99 257.50,314.26 257.75,313.87 258.00,315.33 258.25,314.95 258.50,314.78 258.75,313.63 259.00,314.93 259.25,314.50 259.50,315.09 259.75,315.47 260.00,314.53 260.25,315.16 260.50,315.61 260.75,315.23 261.00,314.97 261.25,314.57 261.50,314.84 261.75,314.51 262.00,315.90 262.25,315.39 262.50,314.62 262.75,315.37 263.00,314.62 263.25,313.43 263.50,316.15 263.75,316.15 264.00,314.56 264.25,315.03 264.50,315.60 264.75,315.25 265.00,314.98 265.25,315.19 265.50,315.36 265.75,315.17 266.00,315.64 266.25,315.37 266.50,315.06 266.75,315.53 267.00,314.52 267.25,316.39 267.50,314.47 267.75,315.47 268.00,315.72 268.25,315.77 268.50,315.67 268.75,316.27 269.00,314.83 269.25,315.47 269.50,315.59 269.75,315.20 270.00,315.14 270.25,316.27 270.50,315.06 270.75,315.20 271.00,315.32 271.25,315.35 271.50,315.57 271.75,315.35 272.00,315.69 272.25,315.54 272.50,315.74 272.75,316.27 273.00,314.94 273.25,316.43 273.50,315.17 273.75,315.83 274.00,315.52 274.25,315.24 274.50,314.24 274.75,316.37 275.00,314.95 275.25,314.92 275.50,316.03 275.75,315.43 276.00,316.52 276.25,316.38 276.50,315.79 276.75,315.51 277.00,315.81 277.25,314.56 277.50,315.45 277.75,315.43 278.00,315.05 278.25,315.48 278.50,314.45 278.75,315.85 279.00,316.08 279.25,314.53 279.50,315.38 279.75,316.21 280.00,315.53 280.25,314.66 280.50,314.68 280.75,315.77 281.00,316.35 281.25,314.60 281.50,315.27 281.70,314.78 281.75,312.65 282.00,228.00 282.15,250.99 282.25,261.49 282.40,274.90 282.50,279.19 282.75,288.42 282.80,290.47 283.00,293.74 283.25,296.79 283.50,299.62 283.75,300.02 284.00,302.35 284.25,303.60 284.50,304.34 284.75,304.69 285.00,305.58 285.25,305.28 285.50,306.89 285.75,307.75 286.00,308.65 286.25,308.74 286.50,308.91 286.75,309.08 287.00,309.96 287.25,310.45 287.50,311.44 287.75,311.05 288.00,311.04 288.25,311.55 288.50,311.58 288.75,311.97 289.00,311.01 289.25,311.57 289.50,312.00 289.75,313.15 290.00,312.99 290.25,313.26 290.50,314.00 290.75,312.81 291.00,314.22 291.25,313.88 291.50,313.32 291.75,314.72 292.00,313.07 292.25,313.32 292.50,313.93 292.75,314.36 293.00,314.06 293.25,312.96 293.50,314.10 293.75,314.27 294.00,315.87 294.25,315.21 294.50,314.51 294.75,313.82 295.00,314.70 295.25,313.83 295.50,314.66 295.75,314.78 296.00,314.34 296.25,314.75 296.50,314.42 296.75,314.29 297.00,315.55 297.25,314.99 297.50,314.48 297.75,314.21 298.00,314.78 298.25,315.02 298.50,315.19 298.75,315.56 299.00,314.97 299.25,314.03 299.50,315.90 299.75,315.39 300.00,315.19 300.25,315.49 300.50,313.82 300.75,314.48 301.00,314.40 301.25,315.40 301.50,314.00 301.75,314.50 302.00,315.59 302.25,315.07 302.50,314.46 302.75,315.80 303.00,313.89 303.25,314.94 303.50,314.54 303.75,314.97 304.00,314.50 304.25,314.17 304.50,314.78 304.75,313.87 305.00,314.96 305.25,314.45 305.50,315.18 305.75,314.37 306.00,314.23 306.25,314.86 306.50,315.35 306.75,313.38 307.00,314.68 307.25,314.97 307.50,313.75 307.75,314.07 308.00,314.96 308.25,314.09 308.50,314.19 308.75,315.58 309.00,314.00 309.25,314.04 309.50,313.18 309.75,313.89 310.00,313.81 310.25,315.54 310.50,315.24 310.75,313.77 311.00,315.68 311.25,314.96 311.50,314.39 311.75,314.97 312.00,314.71 312.25,314.03 312.50,313.44 312.75,313.93 313.00,314.46 313.25,314.25 313.50,314.01 313.75,315.02 314.00,313.81 314.25,314.96 314.50,314.14 314.60,314.49 314.75,290.93 314.90,223.10 315.00,239.77 315.05,246.16 315.25,267.29 315.30,270.85 315.50,281.86 315.70,287.97 315.75,288.40 316.00,293.06 316.25,294.76 316.50,297.53 316.75,300.46 317.00,301.83 317.25,302.46 317.50,303.15 317.75,304.18 318.00,304.92 318.25,304.33 318.50,305.51 318.75,307.35 319.00,307.91 319.25,307.89 319.50,308.05 319.75,308.45 320.00,308.78 320.25,308.93 320.50,308.70 320.75,310.25 321.00,310.20 321.25,310.62 321.50,312.02 321.75,311.59 322.00,311.05 322.25,312.01 322.50,310.96 322.75,312.65 323.00,312.34 323.25,312.22 323.50,312.80 323.75,313.45 324.00,312.43 324.25,312.22 324.50,314.16 324.75,313.01 325.00,313.97 325.25,312.75 325.50,313.45 325.75,312.91 326.00,313.72 326.25,313.24 326.50,313.05 326.75,314.42 327.00,313.74 327.25,312.37 327.50,313.47 327.75,313.09 328.00,312.94 328.25,313.35 328.50,313.43 328.75,313.76 329.00,313.29 329.25,312.67 329.50,313.47 329.75,314.33 330.00,313.00 330.25,314.19 330.50,314.11 330.75,313.58 331.00,314.04 331.25,313.41 331.50,313.63 331.75,313.26 332.00,314.15 332.25,314.69 332.50,313.47 332.75,314.59 333.00,312.61 333.25,313.35 333.50,313.28 333.75,314.91 334.00,313.53 334.25,314.34 334.50,312.66 334.75,313.94 335.00,314.21 335.25,313.85 335.50,312.24 335.75,313.97 336.00,314.34 336.25,314.64 336.50,314.09 336.75,312.84 337.00,313.72 337.25,314.38 337.50,313.35 337.75,314.17 338.00,313.54 338.25,313.88 338.50,314.27 338.75,313.39 339.00,315.52 339.25,313.89 339.50,314.00 339.75,313.35 340.00,313.82 340.25,313.62 340.50,312.90 340.75,312.85 341.00,313.94 341.25,313.71 341.50,312.18 341.75,312.46 342.00,313.56 342.25,313.69 342.50,314.09 342.75,312.98 343.00,314.07 343.25,313.53 343.50,313.40 343.75,313.62 344.00,314.29 344.25,314.02 344.50,314.22 344.75,313.26 345.00,313.50 345.25,312.97 345.50,313.33 345.75,313.42 346.00,313.37 346.25,314.07 346.40,313.89 346.50,306.19 346.70,242.50 346.75,250.27 346.85,261.33 347.00,274.33 347.10,280.01 347.25,286.65 347.50,292.85 347.75,295.97 348.00,298.22 348.25,301.89 348.50,302.17 348.75,303.21 349.00,303.70 349.25,304.28 349.50,306.97 349.75,305.20 350.00,306.41 350.25,306.94 350.50,306.78 350.75,307.15 351.00,307.91 351.25,308.51 351.50,308.78 351.75,309.89 352.00,308.99 352.25,310.22 352.50,311.12 352.75,311.01 353.00,310.01 353.25,309.13 353.50,311.59 353.75,311.56 354.00,311.07 354.25,312.33 354.50,311.46 354.75,311.89 355.00,311.32 355.25,312.24 355.50,311.88 355.75,311.93 356.00,312.96 356.25,312.52 356.50,311.56 356.75,312.94 357.00,313.08 357.25,312.14 357.50,312.45 357.75,312.76 358.00,312.62 358.25,312.88 358.50,313.23 358.75,312.58 359.00,314.15 359.25,312.50 359.50,312.63 359.75,314.15 360.00,314.42 360.25,313.03 360.50,312.91 360.75,312.40 361.00,313.74 361.25,313.17 361.50,312.56 361.75,313.32 362.00,313.91 362.25,313.51 362.50,314.43 362.75,313.80 363.00,313.37 363.25,313.09 363.50,313.44 363.75,313.85 364.00,313.63 364.25,313.75 364.50,313.25 364.75,313.58 365.00,313.85 365.25,313.02 365.50,312.34 365.75,314.15 366.00,313.46 366.25,312.84 366.50,313.24 366.75,312.95 367.00,312.07 367.25,312.98 367.50,312.24 367.75,313.21 368.00,313.02 368.25,313.76 368.50,313.00 368.75,313.29 369.00,312.89 369.25,312.83 369.50,312.22 369.75,313.64 370.00,313.15 370.25,312.69 370.50,313.16 370.75,312.78 371.00,312.59 371.25,313.17 371.50,313.74 371.75,312.85 372.00,312.15 372.25,312.63 372.50,314.07 372.75,312.50 373.00,313.69 373.25,312.83 373.50,313.41 373.75,312.90 374.00,312.01 374.25,312.70 374.50,314.21 374.75,312.86 375.00,313.27 375.25,312.73 375.50,312.84 375.75,313.11 376.00,313.19 376.25,314.23 376.50,312.89 376.75,312.78 377.00,312.49 377.25,312.09 377.50,311.91 377.75,313.27 378.00,311.74 378.25,313.70 378.50,313.36 378.75,312.67 379.00,312.15 379.25,312.85 379.50,312.84 379.75,313.50 380.00,312.37 380.25,312.58 380.50,312.77 380.75,312.63 381.00,312.41 381.25,311.75 381.50,311.79 381.75,268.78 381.80,250.00 381.95,267.15 382.00,272.12 382.20,283.87 382.25,285.23 382.50,293.64 382.60,294.40 382.75,296.38 383.00,300.58 383.25,300.21 383.50,301.80 383.75,302.84 384.00,304.67 384.25,304.14 384.50,305.59 384.75,305.45 385.00,305.49 385.25,306.85 385.50,307.25 385.75,306.87 386.00,307.42 386.25,307.81 386.50,309.19 386.75,309.18 387.00,309.33 387.25,309.73 387.50,309.39 387.75,310.17 388.00,309.72 388.25,309.47 388.50,310.02 388.75,310.72 389.00,310.80 389.25,311.51 389.50,309.99 389.75,310.98 390.00,311.45 390.25,310.73 390.50,311.55 390.75,311.23 391.00,310.88 391.25,312.30 391.50,310.85 391.75,312.34 392.00,311.55 392.25,311.28 392.50,311.36 392.75,311.49 393.00,311.46 393.25,312.16 393.50,310.91 393.75,312.80 394.00,312.59 394.25,312.94 394.50,311.54 394.75,310.76 395.00,311.79 395.25,312.08 395.50,312.38 395.75,311.89 396.00,312.17 396.25,312.32 396.50,311.31 396.75,313.32 397.00,311.57 397.25,312.41 397.50,312.90 397.75,311.79 398.00,312.27 398.25,313.25 398.50,312.10 398.75,312.90 399.00,312.45 399.25,312.41 399.50,312.70 399.75,312.13 400.00,312.14 400.25,312.84 400.50,312.42 400.75,312.56 401.00,311.54 401.25,312.27 401.50,312.98 401.75,312.79 402.00,312.45 402.25,311.93 402.50,311.87 402.75,312.50 403.00,313.08 403.25,312.25 403.50,313.01 403.75,312.04 404.00,312.93 404.25,311.61 404.50,312.32 404.75,311.56 405.00,312.59 405.25,312.53 405.50,311.62 405.75,311.73 406.00,311.91 406.25,311.28 406.50,311.61 406.75,311.64 407.00,312.62 407.25,312.98 407.50,311.87 407.75,311.96 408.00,312.26 408.25,311.81 408.50,311.95 408.75,312.61 409.00,312.24 409.25,312.05 409.50,311.75 409.75,312.97 410.00,311.71 410.25,312.15 410.50,311.45 410.75,311.71 411.00,312.11 411.25,311.82 411.50,312.37 411.75,312.08 412.00,311.20 412.20,310.65 412.25,309.95 412.50,215.60 412.65,241.92 412.75,253.07 412.90,265.59 413.00,272.62 413.25,282.34 413.30,283.93 413.50,287.70 413.75,292.16 414.00,294.79 414.25,295.57 414.50,298.36 414.75,298.15 415.00,299.70 415.25,299.52 415.50,300.21 415.75,303.42 416.00,303.74 416.25,304.25 416.50,303.17 416.75,304.90 417.00,305.55 417.25,305.83 417.50,306.42 417.75,306.11 418.00,306.95 418.25,306.72 418.50,307.52 418.75,308.26 419.00,307.85 419.25,308.41 419.50,308.56 419.75,309.05 420.00,309.80 420.25,309.58 420.50,309.84 420.75,308.91 421.00,309.70 421.25,310.54 421.50,309.66 421.75,310.03 422.00,309.82 422.25,311.30 422.50,310.32 422.75,310.23 423.00,311.12 423.25,311.48 423.50,311.18 423.75,311.53 424.00,311.12 424.25,310.97 424.50,310.83 424.75,310.83 425.00,310.81 425.25,311.42 425.50,311.17 425.75,311.32 426.00,311.65 426.25,311.28 426.50,310.51 426.75,310.88 427.00,310.70 427.25,310.24 427.50,311.46 427.75,310.70 428.00,310.66 428.25,310.79 428.50,311.97 428.75,311.26 429.00,312.06 429.25,311.41 429.50,311.21 429.75,311.81 430.00,311.83 430.25,311.54 430.50,310.86 430.75,311.20 431.00,310.77 431.25,311.32 431.50,311.53 431.75,312.37 432.00,312.32 432.25,311.88 432.50,312.04 432.75,311.61 433.00,313.13 433.25,312.38 433.50,313.05 433.75,311.69 434.00,311.70 434.25,312.08 434.50,311.56 434.75,311.63 435.00,310.85 435.25,312.00 435.50,311.51 435.75,311.91 436.00,311.29 436.25,310.35 436.50,311.71 436.75,312.10 437.00,310.63 437.25,310.81 437.50,311.21 437.75,311.24 438.00,310.36 438.25,312.43 438.50,311.97 438.75,310.99 439.00,310.27 439.25,311.57 439.50,312.53 439.75,311.84 440.00,312.03 440.25,310.76 440.50,311.46 440.75,310.42 441.00,312.50 441.25,311.65 441.50,310.03 441.75,310.18 442.00,311.57 442.25,311.36 442.50,311.09 442.75,311.64 443.00,312.47 443.25,311.48 443.50,310.17 443.75,311.15 444.00,310.45 444.25,310.75 444.50,311.42 444.75,311.12 445.00,310.57 445.25,311.19 445.50,310.71 445.75,311.51 445.90,311.04 446.00,301.71 446.20,223.80 446.25,233.00 446.35,246.76 446.50,262.19 446.60,269.17 446.75,277.58 447.00,284.64 447.25,292.00 447.50,292.91 447.75,295.38 448.00,296.54 448.25,297.76 448.50,299.35 448.75,299.74 449.00,300.63 449.25,300.83 449.50,301.81 449.75,302.32 450.00,304.70 450.25,303.38 450.50,304.04 450.75,305.28 451.00,306.46 451.25,304.99 451.50,305.45 451.75,306.80 452.00,307.24 452.25,306.48 452.50,306.52 452.75,307.28 453.00,308.53 453.25,308.27 453.50,308.94 453.75,308.61 454.00,308.83 454.25,309.37 454.50,309.07 454.75,309.41 455.00,308.85 455.25,309.15 455.50,309.89 455.75,309.56 456.00,309.34 456.25,310.26 456.50,310.27 456.75,310.00 457.00,309.62 457.25,310.67 457.50,311.68 457.75,309.73 458.00,309.35 458.25,309.84 458.50,309.79 458.75,309.62 459.00,309.70 459.25,310.95 459.50,310.98 459.75,311.37 460.00,310.95 460.25,310.24 460.50,311.19 460.75,310.19 461.00,310.36 461.25,309.88 461.50,311.33 461.75,311.20 462.00,310.33 462.25,310.43 462.50,310.64 462.75,310.74 463.00,311.14 463.25,310.67 463.50,310.87 463.75,309.74 464.00,310.46 464.25,309.56 464.50,311.71 464.75,311.48 465.00,311.07 465.25,311.30 465.50,311.84 465.75,311.20 466.00,309.68 466.25,310.50 466.50,309.21 466.75,310.13 467.00,309.87 467.25,310.61 467.50,310.85 467.75,310.05 468.00,310.43 468.25,310.77 468.50,310.50 468.75,310.48 469.00,309.14 469.25,310.32 469.50,311.05 469.75,310.73 470.00,309.68 470.25,310.40 470.50,310.71 470.75,309.97 471.00,310.95 471.25,310.06 471.50,310.33 471.75,310.46 472.00,311.86 472.25,310.32 472.50,310.17 472.75,310.93 473.00,310.22 473.25,310.61 473.50,309.14 473.75,310.66 474.00,310.47 474.25,309.70 474.50,311.28 474.75,310.32 475.00,310.34 475.25,309.66 475.50,309.47 475.75,310.09 476.00,309.52 476.25,310.72 476.50,310.94 476.75,310.03 477.00,309.44 477.25,310.16 477.50,309.76 477.75,310.49 478.00,310.49 478.25,310.12 478.50,310.41 478.75,310.99 479.00,311.38 479.25,310.04 479.50,310.78 479.75,310.20 480.00,309.70 480.25,311.10 480.50,310.56 480.75,310.40 481.00,310.52 481.25,310.20 481.50,309.66 481.75,311.35 482.00,310.82 482.25,310.44 482.50,310.85 482.75,311.04 483.00,310.14 483.25,310.61 483.50,310.05 483.60,310.63 483.75,290.35 483.90,231.30 484.00,245.87 484.05,252.41 484.25,269.77 484.30,272.38 484.50,282.22 484.70,287.17 484.75,288.01 485.00,292.08 485.25,294.05 485.50,296.92 485.75,297.88 486.00,299.16 486.25,298.69 486.50,300.49 486.75,300.62 487.00,301.81 487.25,303.15 487.50,303.12 487.75,303.40 488.00,304.67 488.25,305.06 488.50,305.98 488.75,304.15 489.00,305.82 489.25,305.70 489.50,305.73 489.75,306.61 490.00,306.11 490.25,305.70 490.50,306.72 490.75,307.31 491.00,308.78 491.25,307.40 491.50,307.29 491.75,306.96 492.00,308.07 492.25,308.26 492.50,308.61 492.75,307.76 493.00,308.27 493.25,307.46 493.50,309.00 493.75,308.04 494.00,307.40 494.25,309.81 494.50,309.48 494.75,309.44 495.00,309.49 495.25,308.70 495.50,310.01 495.75,308.78 496.00,310.59 496.25,309.61 496.50,308.39 496.75,310.05 497.00,310.73 497.25,309.42 497.50,310.23 497.75,309.48 498.00,309.25 498.25,308.09 498.50,310.39 498.75,309.40 499.00,309.90 499.25,309.00 499.50,309.14 499.75,310.37 500.00,309.47 500.25,309.47 500.50,308.95 500.75,309.84 501.00,310.18 501.25,309.44 501.50,309.61 501.75,308.99 502.00,310.56 502.25,309.35 502.50,309.63 502.75,310.73 503.00,309.58 503.25,308.78 503.50,309.16 503.75,309.50 504.00,310.78 504.25,309.84 504.50,309.57 504.75,310.20 505.00,310.48 505.25,309.24 505.50,310.55 505.75,310.20 506.00,309.95 506.25,308.25 506.50,309.79 506.75,310.51 507.00,309.50 507.25,311.05 507.50,309.70 507.75,309.04 508.00,310.00 508.25,309.82 508.50,310.14 508.75,309.50 509.00,310.41 509.25,309.29 509.50,309.69 509.75,308.86 510.00,309.12 510.25,309.72 510.50,309.20 510.75,309.32 510.90,309.46 511.00,300.84 511.20,229.50 511.25,237.97 511.35,251.23 511.50,264.81 511.60,271.06 511.75,277.74 512.00,286.02 512.25,290.05 512.50,292.11 512.75,296.04 513.00,295.31 513.25,297.77 513.50,298.85 513.75,299.23 514.00,301.72 514.25,300.87 514.50,301.04 514.75,303.17 515.00,302.17 515.25,302.29 515.50,303.02 515.75,303.67 516.00,304.49 516.25,305.04 516.50,304.25 516.75,305.70 517.00,307.14 517.25,305.62 517.50,306.22 517.75,306.95 518.00,307.47 518.25,306.53 518.50,306.53 518.75,306.67 519.00,308.10 519.25,308.12 519.50,306.39 519.75,306.52 520.00,307.18 520.25,307.13 520.50,308.38 520.75,308.35 521.00,309.49 521.25,308.85 521.50,308.51 521.75,309.22 522.00,308.01 522.25,307.76 522.50,308.67 522.75,309.27 523.00,307.75 523.25,309.32 523.50,309.33 523.75,308.53 524.00,308.97 524.25,308.72 524.50,308.96 524.75,309.42 525.00,308.46 525.25,309.60 525.50,309.51 525.75,309.55 526.00,307.80 526.25,307.88 526.50,309.45 526.75,308.68 527.00,308.62 527.25,308.58 527.50,308.23 527.75,308.88 528.00,308.62 528.25,308.66 528.50,309.36 528.75,308.34 529.00,309.75 529.25,307.71 529.50,310.59 529.75,308.24 530.00,309.42 530.25,309.62 530.50,309.06 530.75,309.51 531.00,308.99 531.25,307.98 531.50,309.26 531.75,309.75 532.00,308.71 532.25,308.01 532.50,308.67 532.75,309.23 533.00,309.21 533.25,309.70 533.50,309.36 533.75,309.33 534.00,307.79 534.25,310.37 534.50,309.03 534.75,309.52 535.00,308.78 535.25,308.89 535.50,309.02 535.75,309.94 536.00,309.90 536.25,309.34 536.50,310.18 536.75,308.72 537.00,309.27 537.25,308.67 537.50,309.73 537.75,308.96 538.00,309.53 538.25,309.98 538.50,307.65 538.75,310.24 539.00,309.10 539.25,308.71 539.50,307.72 539.75,308.71 540.00,307.48 540.25,308.93 540.50,308.77 540.75,309.99 541.00,308.66 541.25,309.51 541.50,309.57 541.75,310.11 542.00,308.69 542.25,309.30 542.50,307.90 542.75,308.14 543.00,308.65 543.25,308.80 543.50,308.06 543.75,308.55 544.00,309.22 544.25,308.51 544.50,308.69 544.75,308.23 545.00,309.62 545.25,309.86 545.50,308.88 545.75,308.68 546.00,309.77 546.25,309.03 546.50,308.32 546.75,307.90 547.00,308.36 547.25,310.07 547.50,308.35 547.75,310.48 548.00,308.70 548.25,308.56 548.50,309.50 548.75,308.53 549.00,308.91 549.25,308.03 549.40,307.90 549.50,299.20 549.70,227.60 549.75,235.31 549.85,247.77 550.00,263.51 550.10,269.91 550.25,277.24 550.50,284.65 550.75,287.99 551.00,293.06 551.25,293.65 551.50,295.67 551.75,297.34 552.00,298.16 552.25,298.45 552.50,299.12 552.75,300.01 553.00,301.04 553.25,301.44 553.50,301.37 553.75,302.44 554.00,302.87 554.25,303.50 554.50,303.61 554.75,304.70 555.00,304.32 555.25,305.07 555.50,304.84 555.75,304.73 556.00,304.76 556.25,305.47 556.50,306.11 556.75,306.76 557.00,306.11 557.25,306.01 557.50,306.18 557.75,307.43 558.00,306.83 558.25,306.58 558.50,307.45 558.75,306.29 559.00,307.27 559.25,307.25 559.50,307.28 559.75,306.72 560.00,308.11 560.25,308.60 560.50,306.81 560.75,307.75 561.00,308.12 561.25,309.16 561.50,307.55 561.75,307.26 562.00,307.87 562.25,309.15 562.50,307.98 562.75,308.12 563.00,309.07 563.25,306.69 563.50,306.69 563.75,308.60 564.00,308.53 564.25,307.21 564.50,308.40 564.75,308.12 565.00,308.23 565.25,307.61 565.50,307.84 565.75,307.58 566.00,308.16 566.25,307.99 566.50,309.17 566.75,308.52 567.00,307.17 567.25,308.40 567.50,309.02 567.75,308.32 568.00,308.81 568.25,308.12 568.50,308.57 568.75,307.56 569.00,308.62 569.25,307.29 569.50,308.93 569.75,307.20 570.00,306.83 570.25,308.45 570.50,308.02 570.75,308.19 571.00,308.38 571.25,308.09 571.50,307.56 571.75,308.23 572.00,308.31 572.25,308.40 572.50,309.31 572.75,307.63 573.00,308.12 573.25,308.42 573.50,307.79 573.75,307.33 574.00,307.71 574.25,308.71 574.50,307.88 574.75,308.42 575.00,307.59 575.25,308.31 575.50,307.61 575.75,307.50 576.00,308.09 576.25,308.04 576.50,308.91 576.75,307.00 577.00,308.31 577.25,308.98 577.50,308.82 577.75,307.74 578.00,307.55 578.25,307.66 578.50,308.14 578.75,308.07 579.00,308.16 579.25,308.31 579.50,307.28 579.75,307.24 580.00,307.17 580.25,307.09 580.50,307.85 580.75,308.10 581.00,309.46 581.25,308.22 581.50,307.90 581.75,308.75 582.00,307.42 582.25,308.08 582.50,308.46 582.75,308.34 583.00,308.10 583.25,307.63 583.50,307.08 583.75,307.74 584.00,307.46 584.25,308.25 584.50,307.73 584.75,308.15 585.00,306.81 585.25,308.40 585.50,307.27 585.75,306.82 586.00,306.93 586.25,307.39 586.50,308.46 586.75,308.20 587.00,307.03 587.25,307.80 587.50,307.68 587.75,306.77 588.00,307.12 588.25,306.47 588.50,307.18 588.75,306.08 589.00,307.22 589.25,307.12 589.50,307.20 589.75,307.18 590.00,308.39 590.20,307.46 590.25,305.53 590.50,225.00 590.65,247.36 590.75,257.54 590.90,267.91 591.00,272.92 591.25,281.88 591.30,283.28 591.50,287.29 591.75,290.25 592.00,293.00 592.25,293.77 592.50,296.14 592.75,296.69 593.00,296.67 593.25,298.31 593.50,296.75 593.75,300.05 594.00,300.08 594.25,300.65 594.50,299.91 594.75,302.98 595.00,301.73 595.25,302.22 595.50,303.39 595.75,302.94 596.00,302.86 596.25,304.10 596.50,303.35 596.75,304.69 597.00,304.56 597.25,305.39 597.50,304.16 597.75,305.86 598.00,305.45 598.25,306.64 598.50,305.18 598.75,306.85 599.00,306.27 599.25,306.44 599.50,305.61 599.75,306.50 600.00,306.66 600.25,305.82 600.50,305.70 600.75,306.01 601.00,307.44 601.25,306.70 601.50,307.23 601.75,306.89 602.00,306.82 602.25,306.93 602.50,306.58 602.75,307.62 603.00,307.01 603.25,307.07 603.50,306.11 603.75,307.17 604.00,306.59 604.25,306.71 604.50,307.67 604.75,306.38 605.00,306.95 605.25,307.47 605.50,307.80 605.75,306.78 606.00,307.31 606.25,307.29 606.50,306.43 606.75,305.82 607.00,305.95 607.25,307.51 607.50,307.20 607.75,306.32 608.00,306.75 608.25,306.90 608.50,306.93 608.75,307.13 609.00,308.50 609.25,306.67 609.50,307.23 609.75,306.67 610.00,306.76 610.25,306.60 610.50,307.00 610.75,306.80 611.00,307.35 611.25,307.26 611.50,306.58 611.75,308.30 612.00,306.40 612.25,307.33 612.50,308.44 612.75,306.67 613.00,307.91 613.25,307.97 613.50,307.30 613.75,305.95 614.00,307.95 614.25,307.13 614.50,306.74 614.75,307.85 615.00,306.62 615.25,307.71 615.50,306.72 615.75,307.38 616.00,306.38 616.25,306.79 616.50,306.47 616.75,306.59 617.00,307.13 617.25,306.91 617.50,307.12 617.75,307.79 618.00,306.93 618.25,305.85 618.50,306.81 618.60,307.03 618.75,289.61 618.90,235.00 619.00,249.08 619.05,253.84 619.25,270.23 619.30,271.77 619.50,281.71 619.70,286.26 619.75,287.25 620.00,290.19 620.25,292.67 620.50,293.77 620.75,295.71 621.00,295.53 621.25,297.78 621.50,298.27 621.75,299.86 622.00,299.22 622.25,299.76 622.50,300.46 622.75,300.86 623.00,301.22 623.25,301.02 623.50,301.40 623.75,302.09 624.00,302.58 624.25,302.33 624.50,302.63 624.75,303.42 625.00,304.29 625.25,303.94 625.50,304.67 625.75,305.04 626.00,305.09 626.25,304.52 626.50,304.67 626.75,303.91 627.00,304.76 627.25,305.58 627.50,304.73 627.75,306.32 628.00,306.46 628.25,305.44 628.50,306.31 628.75,304.94 629.00,305.23 629.25,305.71 629.50,305.99 629.75,305.92 630.00,305.55 630.25,307.33 630.50,306.34 630.75,306.37 631.00,306.64 631.25,306.36 631.50,306.14 631.75,305.96 632.00,305.32 632.25,307.26 632.50,305.80 632.75,305.36 633.00,305.90 633.25,305.42 633.50,307.64 633.75,306.65 634.00,307.30 634.25,307.33 634.50,306.79 634.75,306.80 635.00,306.01 635.25,306.41 635.50,306.09 635.75,306.49 636.00,306.04 636.25,307.24 636.50,306.94 636.75,306.40 637.00,305.45 637.25,306.89 637.50,307.01 637.75,306.42 638.00,305.69 638.25,306.73 638.50,307.10 638.75,305.28 639.00,306.80 639.25,305.34 639.50,306.49 639.75,307.51 640.00,306.49 640.25,306.73 640.50,306.23 640.75,306.42 641.00,307.86 641.25,307.23 641.50,306.22 641.75,306.17 642.00,306.41 642.25,307.74 642.50,306.52 642.75,307.07 643.00,306.16 643.25,305.60 643.50,307.18 643.75,306.32 644.00,305.88 644.25,305.93 644.50,305.94 644.75,305.97 645.00,305.40 645.25,307.07 645.50,306.56 645.75,306.92 646.00,306.11 646.25,306.52 646.50,306.41 646.75,307.02 647.00,306.79 647.25,306.51 647.50,305.88 647.75,305.54 648.00,305.78 648.25,305.88 648.50,305.93 648.75,305.50 649.00,307.26 649.25,306.40 649.50,305.00 649.75,305.56 650.00,305.40 650.25,306.36 650.50,306.86 650.75,305.60 651.00,306.58 651.25,306.02 651.50,306.89 651.75,307.01 652.00,306.36 652.25,306.61 652.50,306.16 652.75,305.93 653.00,305.44 653.25,306.34 653.50,306.09 653.75,305.90 654.00,306.08 654.25,306.01 654.50,305.48 654.75,305.79 655.00,306.80 655.25,305.95 655.50,306.94 655.75,305.38 656.00,305.25 656.25,306.15 656.50,306.54 656.70,305.66 656.75,304.27 657.00,228.00 657.15,249.24 657.25,258.26 657.40,268.80 657.50,272.88 657.75,282.17 657.80,283.47 658.00,287.67 658.25,288.88 658.50,291.05 658.75,292.37 659.00,294.67 659.25,293.55 659.50,295.28 659.75,297.96 660.00,297.81 660.25,297.25 660.50,298.61 660.75,299.70 661.00,300.03 661.25,300.02 661.50,300.11 661.75,301.49 662.00,301.35 662.25,302.18 662.50,302.24 662.75,302.01 663.00,303.43 663.25,302.50 663.50,303.29 663.75,302.85 664.00,303.29 664.25,303.46 664.50,303.37 664.75,304.07 665.00,304.86 665.25,305.32 665.50,305.18 665.75,304.32 666.00,305.40 666.25,304.87 666.50,305.79 666.75,304.01 667.00,305.75 667.25,304.55 667.50,305.68 667.75,304.75 668.00,305.64 668.25,304.96 668.50,304.03 668.75,304.63 669.00,305.10 669.25,305.29 669.50,303.95 669.75,304.61 670.00,304.92 670.25,305.25 670.50,305.54 670.75,304.92 671.00,304.52 671.25,305.63 671.50,305.26 671.75,306.01 672.00,305.17 672.25,305.89 672.50,304.97 672.75,305.67 673.00,305.57 673.25,305.79 673.50,304.96 673.75,305.46 674.00,305.02 674.25,305.44 674.50,305.91 674.75,307.34 675.00,305.56 675.25,305.97 675.50,305.60 675.75,306.22 676.00,305.81 676.25,306.16 676.50,305.74 676.75,306.98 677.00,306.36 677.25,304.49 677.50,305.70 677.75,305.56 678.00,304.18 678.25,304.99 678.50,305.23 678.75,305.06 679.00,305.57 679.25,304.41 679.50,305.94 679.75,305.95 680.00,305.69 680.25,305.28 680.50,305.47 680.75,305.18 681.00,306.15 681.25,305.76 681.50,306.65 681.75,305.22 682.00,306.31 682.25,305.09 682.50,305.33 682.75,304.79 683.00,305.73 683.25,305.38 683.50,305.78 683.75,306.30 684.00,305.36 684.25,305.62 684.50,305.93 684.75,305.34 685.00,305.04 685.25,305.58 685.50,305.66 685.75,305.82 686.00,305.85 686.25,304.94 686.50,305.60 686.75,306.07 687.00,305.05 687.25,305.54 687.50,304.94 687.75,305.41 688.00,306.35 688.25,305.40 688.50,304.71 688.75,305.49 689.00,305.41 689.25,305.94 689.50,304.44 689.75,304.71 690.00,305.21 690.25,304.31 690.50,305.93 690.75,304.02 691.00,304.73 691.25,304.34 691.50,304.82 691.75,305.69 692.00,305.57 692.25,305.76 692.50,305.56 692.75,303.96 693.00,305.36 693.25,304.07 693.50,304.87 693.75,304.93 694.00,304.83 694.20,305.45 694.25,302.82 694.50,238.80 694.65,256.66 694.75,265.29 694.90,273.97 695.00,278.34 695.25,284.80 695.30,286.98 695.50,288.15 695.75,291.48 696.00,292.83 696.25,293.90 696.50,295.19 696.75,295.37 697.00,297.07 697.25,297.67 697.50,297.85 697.75,298.78 698.00,298.21 698.25,298.21 698.50,299.38 698.75,299.98 699.00,301.98 699.25,300.68 699.50,301.75 699.75,301.93 700.00,302.95 700.25,302.00 700.50,302.54 700.75,302.24 701.00,302.03 701.25,302.12 701.50,302.42 701.75,303.90 702.00,303.35 702.25,303.22 702.50,303.44 702.75,303.20 703.00,303.62 703.25,303.70 703.50,304.20 703.75,304.44 704.00,302.98 704.25,304.17 704.50,304.91 704.75,303.53 705.00,304.04 705.25,304.34 705.50,304.94 705.75,304.68 706.00,304.22 706.25,304.69 706.50,305.04 706.75,304.68 707.00,305.59 707.25,304.75 707.50,303.88 707.75,304.06 708.00,304.46 708.25,304.44 708.50,304.95 708.75,304.80 709.00,305.63 709.25,305.09 709.50,305.50 709.75,304.16 710.00,304.37 710.25,305.04 710.50,304.69 710.75,305.01 711.00,304.79 711.25,304.27 711.50,305.67 711.75,305.33 712.00,303.71 712.25,304.27 712.50,304.66 712.75,305.05 713.00,304.60 713.25,303.82 713.50,305.14 713.75,304.51 714.00,305.36 714.25,304.81 714.50,305.23 714.75,305.13 715.00,305.15 715.25,304.31 715.50,305.23 715.75,304.73 716.00,303.86 716.25,304.37 716.50,304.40 716.75,304.87 717.00,305.00 717.25,303.92 717.50,305.01 717.75,304.54 718.00,303.94 718.25,305.06 718.50,304.10 718.75,303.84 719.00,305.00 719.25,305.08 719.50,304.14 719.75,305.17 720.00,305.13 720.25,304.21 720.50,305.71 720.75,304.48 721.00,304.64 721.25,303.07 721.50,304.88 721.75,304.12 722.00,304.75 722.25,303.45 722.50,305.17 722.75,305.34 723.00,305.59 723.25,302.69 723.50,304.80 723.75,304.65 724.00,302.63 724.25,303.99 724.50,304.38 724.75,305.27 725.00,303.92 725.25,304.53 725.50,304.37 725.75,304.62 726.00,304.16 726.25,304.92 726.50,304.97 726.75,303.56 727.00,305.04 727.25,303.92 727.50,304.20 727.75,305.03 728.00,304.41 728.25,304.69 728.50,304.81 728.75,304.69 729.00,304.00 729.25,303.75 729.50,304.72 729.75,304.76 730.00,304.52 730.25,304.18 730.50,304.81 730.75,304.27 731.00,303.46 731.25,304.44 731.50,304.57 731.75,304.73 732.00,303.72 732.25,303.80 732.50,304.45 732.75,303.97 733.00,304.20 733.25,304.79 733.50,304.46 733.75,305.31 734.00,304.39 734.25,305.23 734.50,304.84 734.75,305.72 735.00,304.20 735.25,304.14 735.50,304.96 735.75,303.87 736.00,303.90 736.25,304.32 736.50,304.39 736.75,303.32 737.00,304.30 737.25,303.96 737.50,304.13 737.75,304.24 738.00,304.02 738.25,304.77 738.50,304.41 738.75,304.00 739.00,304.15 739.25,304.72 739.50,304.57 739.75,304.85 739.80,304.01 740.00,272.33 740.10,232.40 740.25,251.33 740.50,270.93 740.75,280.15 740.90,282.95 741.00,284.15 741.25,288.51 741.50,289.74 741.75,291.19 742.00,291.71 742.25,294.39 742.50,294.57 742.75,295.25 743.00,296.14 743.25,296.66 743.50,297.13 743.75,297.90 744.00,297.91 744.25,296.97 744.50,299.36 744.75,299.54 745.00,299.65 745.25,300.90 745.50,299.42 745.75,298.80 746.00,301.66 746.25,301.26 746.50,300.25 746.75,301.18 747.00,301.97 747.25,301.05 747.50,302.26 747.75,303.33 748.00,303.03 748.25,302.31 748.50,302.63 748.75,301.98 749.00,302.71 749.25,302.52 749.50,302.21 749.75,302.08 750.00,304.09 750.25,303.06 750.50,302.46 750.75,302.87 751.00,304.05 751.25,304.17 751.50,302.88 751.75,303.40 752.00,303.85 752.25,303.14 752.50,302.68 752.75,302.82 753.00,303.43 753.25,302.99 753.50,302.69 753.75,303.34 754.00,304.05 754.25,303.92 754.50,303.38 754.75,304.67 755.00,303.07 755.25,303.50 755.50,302.74 755.75,304.03 756.00,303.49 756.25,302.57 756.50,303.08 756.75,304.65 757.00,304.01 757.25,303.65 757.50,304.10 757.75,302.63 758.00,303.09 758.25,302.79 758.50,303.09 758.75,303.35 759.00,303.89 759.25,304.17 759.50,304.16 759.75,305.17 760.00,303.27 760.25,303.55 760.50,303.86 760.75,303.06 761.00,303.38 761.25,303.79 761.50,303.02 761.75,303.82 762.00,304.26 762.25,302.87 762.50,302.17 762.75,303.57 763.00,302.90 763.25,303.61 763.50,303.24 763.75,303.68 764.00,304.17 764.25,303.98 764.50,303.27 764.75,302.78 765.00,301.99 765.25,302.17 765.50,302.99 765.75,303.51 766.00,303.04 766.25,303.08 766.50,302.48 766.75,302.44 767.00,302.39 767.25,303.78 767.50,302.22 767.75,303.80 768.00,302.85 768.25,303.70 768.50,303.51 768.75,303.81 769.00,304.06 769.25,302.88 769.50,302.76 769.75,303.07 770.00,302.86 770.25,303.71 770.50,303.24 770.75,303.30 771.00,303.54 771.25,303.00 771.50,303.93 771.75,302.17 772.00,303.40 772.25,303.56 772.50,302.79 772.75,302.83 773.00,303.78 773.25,303.04 773.50,302.08 773.75,302.41 774.00,303.81 774.25,302.68 774.50,303.98 774.75,304.01 775.00,303.06 775.25,303.50 775.50,302.68 775.75,302.93 776.00,302.74 776.25,303.50 776.50,302.38 776.75,303.06 777.00,303.16 777.25,303.44 777.50,301.85 777.75,302.05 778.00,302.58 778.25,302.97 778.50,303.18 778.75,303.20 779.00,304.29 779.25,303.47 779.50,303.42 779.75,302.77 780.00,303.52 780.25,303.46 780.50,303.44 780.75,302.97 781.00,303.40 781.25,303.93 781.50,302.54 781.75,301.72 782.00,303.50 782.10,303.44 782.25,281.29 782.40,216.70 782.50,234.52 782.55,239.18 782.75,257.74 782.80,261.56 783.00,272.06 783.20,277.47 783.25,278.74 783.50,283.33 783.75,285.55 784.00,287.73 784.25,289.05 784.50,289.62 784.75,291.31 785.00,291.48 785.25,293.54 785.50,293.18 785.75,294.28 786.00,293.98 786.25,295.38 786.50,295.44 786.75,297.57 787.00,297.07 787.25,297.88 787.50,296.92 787.75,297.58 788.00,298.56 788.25,298.16 788.50,299.93 788.75,299.27 789.00,299.85 789.25,300.16 789.50,300.10 789.75,300.84 790.00,300.16 790.25,300.94 790.50,301.58 790.75,301.14 791.00,301.21 791.25,301.06 791.50,301.40 791.75,301.86 792.00,301.41 792.25,300.64 792.50,301.81 792.75,301.70 793.00,302.13 793.25,301.93 793.50,302.90 793.75,301.30 794.00,301.49 794.25,302.49 794.50,301.53 794.75,302.37 795.00,302.20 795.25,301.08 795.50,302.66 795.75,303.10 796.00,302.43 796.25,301.50 796.50,302.82 796.75,301.75 797.00,302.31 797.25,302.64 797.50,301.94 797.75,301.41 798.00,302.34 798.25,302.40 798.50,301.93 798.75,301.98 799.00,302.88 799.25,302.40 799.50,302.18 799.75,302.11 800.00,302.56 800.25,302.51 800.50,302.36 800.75,301.64 801.00,302.24 801.25,302.09 801.50,302.50 801.75,303.13 802.00,303.01 802.25,302.83 802.50,302.52 802.75,302.26 803.00,302.64 803.25,302.16 803.50,302.24 803.75,301.94 804.00,302.40 804.25,302.38 804.50,303.50 804.75,302.74 805.00,302.19 805.25,302.86 805.50,302.13 805.75,302.99 806.00,302.85 806.25,304.08 806.50,301.75 806.75,302.34 807.00,302.31 807.25,302.54 807.50,302.78 807.75,301.79 808.00,301.93 808.25,302.52 808.50,302.91 808.75,301.68 809.00,301.43 809.25,302.99 809.50,302.81 809.75,302.94 810.00,301.74 810.25,302.19 810.50,302.43 810.75,302.55 811.00,302.21 811.25,302.25 811.50,302.86 811.75,302.01 812.00,301.94 812.25,302.01 812.50,301.95 812.75,302.32 813.00,302.12 813.25,301.98 813.50,303.05 813.75,302.39 814.00,302.02 814.25,302.94 814.50,301.88 814.75,302.19 815.00,302.14 815.25,301.85 815.50,301.96 815.75,302.22 816.00,301.34 816.25,301.93 816.50,302.30 816.75,302.31 817.00,302.31 817.25,303.48 817.30,302.52 817.50,273.23 817.60,237.30 817.75,254.38 818.00,271.45 818.25,279.83 818.40,284.08 818.50,284.20 818.75,288.04 819.00,289.80 819.25,290.17 819.50,292.21 819.75,293.02 820.00,293.08 820.25,295.43 820.50,295.11 820.75,295.07 821.00,295.49 821.25,295.81 821.50,296.81 821.75,297.10 822.00,296.62 822.25,297.17 822.50,297.67 822.75,298.14 823.00,298.43 823.25,298.50 823.50,299.48 823.75,299.86 824.00,299.55 824.25,298.44 824.50,299.77 824.75,300.33 825.00,300.10 825.25,300.43 825.50,300.45 825.75,299.65 826.00,299.16 826.25,301.05 826.50,300.49 826.75,301.10 827.00,300.76 827.25,300.90 827.50,301.84 827.75,300.43 828.00,301.16 828.25,300.59 828.50,301.30 828.75,301.57 829.00,301.70 829.25,301.45 829.50,300.61 829.75,301.56 830.00,301.95 830.25,302.04 830.50,302.71 830.75,301.83 831.00,300.94 831.25,301.24 831.50,301.60 831.75,302.16 832.00,300.92 832.25,302.10 832.50,301.96 832.75,301.10 833.00,301.95 833.25,301.17 833.50,301.61 833.75,301.44 834.00,301.75 834.25,300.95 834.50,301.92 834.75,300.39 835.00,301.39 835.25,301.30 835.50,302.52 835.75,301.93 836.00,301.34" fill="none" stroke="#00B050" stroke-width="1" stroke-linejoin="round" stroke-opacity="0.62"/>
<polyline points="108.00,354.91 108.50,355.34 109.00,354.94 109.50,356.39 110.00,353.72 110.50,355.15 111.00,353.78 111.50,355.55 112.00,354.53 112.50,355.74 113.00,354.56 113.50,355.36 114.00,354.85 114.50,355.31 115.00,354.65 115.50,353.03 116.00,354.15 116.50,353.66 117.00,354.92 117.50,354.65 118.00,354.32 118.50,354.50 119.00,354.31 119.50,353.86 120.00,355.12 120.50,354.18 121.00,353.90 121.50,353.18 122.00,353.57 122.50,353.84 123.00,353.69 123.50,353.48 124.00,353.65 124.50,353.04 125.00,353.58 125.50,352.71 126.00,353.02 126.50,353.03 127.00,353.81 127.50,353.56 128.00,353.29 128.50,352.60 129.00,352.94 129.50,353.51 130.00,353.70 130.50,352.22 131.00,352.71 131.50,352.94 132.00,353.01 132.50,352.78 133.00,353.07 133.50,351.92 134.00,353.43 134.50,351.97 135.00,352.54 135.50,352.73 136.00,353.02 136.50,352.83 137.00,352.76 137.50,352.92 138.00,352.12 138.50,352.53 139.00,352.90 139.50,351.64 140.00,351.25 140.50,351.42 141.00,352.64 141.50,352.51 142.00,351.63 142.50,351.90 143.00,351.98 143.50,352.24 144.00,350.66 144.50,351.31 145.00,351.42 145.50,351.69 146.00,351.52 146.50,351.27 147.00,351.54 147.50,350.00 148.00,352.92 148.50,351.70 149.00,351.69 149.50,350.84 150.00,351.36 150.50,352.17 151.00,352.01 151.50,351.05 152.00,350.32 152.50,351.01 153.00,350.73 153.50,351.29 154.00,350.13 154.50,350.66 155.00,350.86 155.50,350.43 156.00,351.18 156.50,349.99 157.00,349.90 157.50,350.32 158.00,350.90 158.50,350.26 159.00,350.06 159.50,350.76 160.00,350.41 160.50,349.97 161.00,350.27 161.50,350.04 162.00,350.44 162.50,350.15 163.00,349.62 163.50,349.74 164.00,349.73 164.50,350.10 165.00,350.06 165.50,349.39 166.00,349.68 166.50,349.90 167.00,350.27 167.50,349.78 168.00,350.64 168.50,349.58 169.00,349.91 169.50,349.31 170.00,348.92 170.50,349.45 171.00,349.61 171.50,349.48 172.00,349.35 172.50,349.05 173.00,348.75 173.50,348.98 174.00,349.35 174.50,349.56 175.00,347.28 175.50,349.29 176.00,349.50 176.50,349.55 177.00,349.05 177.50,349.16 178.00,348.53 178.50,348.67 179.00,348.95 179.50,348.05 180.00,348.17 180.50,348.64 181.00,347.78 181.50,348.46 182.00,347.60 182.50,348.44 183.00,348.30 183.50,347.94 184.00,347.69 184.50,347.86 185.00,346.90 185.50,347.82 186.00,348.04 186.50,348.56 187.00,347.61 187.50,347.73 188.00,348.51 188.50,348.64 189.00,347.41 189.50,348.17 190.00,348.19 190.50,347.79 191.00,346.95 191.50,346.92 192.00,347.67 192.50,348.54 193.00,347.17 193.50,348.04 194.00,348.16 194.50,346.45 195.00,346.74 195.50,347.81 196.00,347.47 196.50,347.20 197.00,346.85 197.50,347.14 198.00,346.42 198.50,348.02 199.00,346.04 199.50,345.65 200.00,346.63 200.50,347.26 201.00,346.19 201.50,346.37 202.00,345.81 202.50,346.26 203.00,345.71 203.50,345.66 204.00,345.36 204.50,345.80 205.00,347.02 205.50,345.96 206.00,346.04 206.50,347.07 207.00,345.50 207.50,345.26 208.00,346.01 208.50,345.03 209.00,345.81 209.50,346.19 210.00,344.96 210.50,345.20 211.00,346.32 211.50,344.82 212.00,344.97 212.50,345.40 213.00,345.06 213.50,344.72 214.00,345.97 214.50,344.76 215.00,345.19 215.50,344.75 216.00,344.80 216.50,344.14 217.00,345.31 217.50,344.54 218.00,345.39 218.50,344.05 219.00,344.36 219.50,344.81 220.00,344.57 220.50,344.11 221.00,344.34 221.50,343.67 222.00,344.33 222.50,342.85 223.00,344.29 223.50,344.87 224.00,344.57 224.50,344.50 225.00,343.78 225.50,344.21 226.00,343.68 226.50,343.80 227.00,343.74 227.50,341.96 228.00,344.18 228.50,343.88 229.00,344.04 229.50,343.04 230.00,343.86 230.50,343.71 231.00,342.24 231.50,342.45 232.00,343.38 232.50,342.97 233.00,343.28 233.50,342.91 234.00,344.01 234.50,342.18 235.00,342.43 235.50,342.60 236.00,342.36 236.50,342.74 237.00,343.00 237.50,342.27 238.00,343.14 238.50,343.61 239.00,343.46 239.50,343.91 240.00,343.41 240.50,342.76 241.00,343.69 241.50,343.09 242.00,343.67 242.50,342.54 243.00,341.50 243.50,341.96 244.00,342.64 244.50,342.80 245.00,342.37 245.50,342.97 246.00,341.80 246.50,342.00 247.00,342.87 247.50,342.34 248.00,342.33 248.50,342.99 249.00,342.79 249.50,341.75 250.00,342.25 250.50,341.21 251.00,342.07 251.50,342.25 252.00,341.09 252.50,342.80 253.00,343.00 253.50,342.17 254.00,342.36 254.50,342.63 255.00,341.71 255.50,342.32 256.00,341.94 256.50,340.89 257.00,341.19 257.50,341.34 258.00,342.17 258.50,341.62 259.00,342.06 259.50,341.25 260.00,340.79 260.50,342.53 261.00,342.84 261.50,341.57 262.00,341.23 262.50,341.93 263.00,340.68 263.50,341.12 264.00,340.44 264.50,341.42 265.00,341.26 265.50,340.88 266.00,340.72 266.50,340.22 267.00,340.56 267.50,341.61 268.00,340.74 268.50,341.56 269.00,340.40 269.50,340.78 270.00,340.55 270.50,340.62 271.00,341.13 271.50,339.60 272.00,341.05 272.50,340.99 273.00,340.59 273.50,340.59 274.00,340.40 274.50,340.85 275.00,340.48 275.50,339.97 276.00,340.47 276.50,340.86 277.00,340.51 277.50,340.30 278.00,340.36 278.50,339.95 279.00,339.94 279.50,339.15 280.00,340.02 280.50,340.60 281.00,339.84 281.50,339.53 282.00,340.45 282.50,340.03 283.00,339.99 283.50,340.13 284.00,340.21 284.50,339.79 285.00,339.34 285.50,340.66 286.00,339.74 286.50,339.27 287.00,339.74 287.50,340.23 288.00,338.83 288.50,340.23 289.00,339.43 289.50,340.52 290.00,339.79 290.50,339.35 291.00,340.03 291.50,340.01 292.00,339.12 292.50,339.41 293.00,339.00 293.50,339.74 294.00,338.50 294.50,339.13 295.00,338.09 295.50,339.50 296.00,338.01 296.50,338.61 297.00,339.28 297.50,338.95 298.00,338.88 298.50,338.59 299.00,338.84 299.50,338.15 300.00,339.22 300.50,339.46 301.00,339.42 301.50,338.99 302.00,339.63 302.50,339.22 303.00,339.46 303.50,339.15 304.00,338.94 304.50,338.51 305.00,337.52 305.50,339.22 306.00,338.80 306.50,339.89 307.00,337.79 307.50,339.26 308.00,338.31 308.50,338.78 309.00,338.31 309.50,338.94 310.00,338.72 310.50,339.18 311.00,338.79 311.50,338.94 312.00,339.35 312.50,338.93 313.00,338.58 313.50,339.28 314.00,338.56 314.50,338.81 315.00,338.42 315.50,338.22 316.00,336.98 316.50,338.90 317.00,337.92 317.50,338.89 318.00,339.44 318.50,337.79 319.00,338.92 319.50,338.39 320.00,338.67 320.50,337.79 321.00,338.41 321.50,338.46 322.00,339.11 322.50,339.47 323.00,338.50 323.50,338.13 324.00,339.47 324.50,338.23 325.00,338.24 325.50,338.31 326.00,338.49 326.50,338.60 327.00,337.91 327.50,338.14 328.00,339.16 328.50,339.00 329.00,338.38 329.50,338.28 330.00,338.00 330.50,338.64 331.00,337.82 331.50,338.14 332.00,337.82 332.50,337.72 333.00,338.05 333.50,338.01 334.00,337.69 334.50,337.95 335.00,338.00 335.50,337.70 336.00,337.59 336.50,337.85 337.00,338.27 337.50,338.47 338.00,337.97 338.50,337.71 339.00,337.82 339.50,338.82 340.00,338.29 340.50,337.30 341.00,337.76 341.50,337.50 342.00,337.57 342.50,336.87 343.00,337.75 343.50,337.01 344.00,337.40 344.50,338.49 345.00,338.21 345.50,337.22 346.00,337.12 346.50,337.18 347.00,336.65 347.50,337.12 348.00,337.48 348.50,337.06 349.00,337.99 349.50,337.55 350.00,337.29 350.50,338.47 351.00,337.92 351.50,337.57 352.00,338.49 352.50,338.20 353.00,337.13 353.50,337.65 354.00,337.24 354.50,336.71 355.00,338.44 355.50,338.22 356.00,336.76 356.50,337.67 357.00,336.54 357.50,337.95 358.00,337.35 358.50,337.21 359.00,338.01 359.50,337.34 360.00,337.19 360.50,337.79 361.00,337.14 361.50,337.75 362.00,337.28 362.50,337.70 363.00,337.59 363.50,337.66 364.00,336.70 364.50,338.21 365.00,337.12 365.50,338.12 366.00,336.87 366.50,337.03 367.00,337.02 367.50,337.76 368.00,336.91 368.50,337.34 369.00,336.29 369.50,336.85 370.00,337.21 370.50,337.02 371.00,336.07 371.50,337.31 372.00,336.53 372.50,338.05 373.00,336.91 373.50,338.20 374.00,337.34 374.50,337.22 375.00,336.71 375.50,336.89 376.00,337.18 376.50,335.90 377.00,337.44 377.50,336.29 378.00,336.76 378.50,335.43 379.00,337.11 379.50,337.25 380.00,337.00 380.50,337.00 381.00,336.62 381.50,336.89 382.00,337.44 382.50,336.56 383.00,337.04 383.50,337.15 384.00,336.62 384.50,336.86 385.00,336.84 385.50,336.45 386.00,337.99 386.50,336.47 387.00,337.60 387.50,337.25 388.00,335.59 388.50,336.79 389.00,337.20 389.50,337.08 390.00,336.16 390.50,336.77 391.00,335.98 391.50,336.06 392.00,336.48 392.50,336.69 393.00,337.44 393.50,336.77 394.00,337.13 394.50,335.92 395.00,335.94 395.50,336.28 396.00,337.47 396.50,335.81 397.00,335.67 397.50,336.47 398.00,337.14 398.50,335.62 399.00,336.35 399.50,335.75 400.00,337.24 400.50,336.83 401.00,336.60 401.50,336.42 402.00,336.31 402.50,336.50 403.00,336.07 403.50,335.94 404.00,335.81 404.50,336.40 405.00,335.96 405.50,336.84 406.00,335.24 406.50,336.66 407.00,336.63 407.50,336.99 408.00,336.20 408.50,335.52 409.00,335.82 409.50,336.91 410.00,336.13 410.50,336.07 411.00,335.97 411.50,336.24 412.00,336.14 412.50,335.42 413.00,335.93 413.50,336.78 414.00,337.00 414.50,336.16 415.00,335.94 415.50,336.93 416.00,336.10 416.50,335.56 417.00,336.11 417.50,336.54 418.00,337.00 418.50,335.89 419.00,336.43 419.50,335.96 420.00,336.74 420.50,336.26 421.00,336.25 421.50,335.58 422.00,335.92 422.50,335.91 423.00,334.15 423.50,336.53 424.00,336.06 424.50,335.94 425.00,335.85 425.50,336.05 426.00,336.16 426.50,335.32 427.00,336.08 427.50,336.06 428.00,336.01 428.50,335.19 429.00,335.90 429.50,335.28 430.00,336.15 430.50,336.66 431.00,336.41 431.50,335.75 432.00,335.64 432.50,335.61 433.00,336.10 433.50,335.54 434.00,335.61 434.50,334.54 435.00,335.42 435.50,335.45 436.00,335.57 436.50,336.50 437.00,335.12 437.50,335.12 438.00,336.15 438.50,335.29 439.00,335.72 439.50,335.89 440.00,335.80 440.50,335.37 441.00,336.27 441.50,336.57 442.00,335.22 442.50,335.60 443.00,336.24 443.50,335.62 444.00,335.19 444.50,335.49 445.00,336.15 445.50,335.17 446.00,335.83 446.50,335.89 447.00,335.32 447.50,335.97 448.00,336.01 448.50,336.18 449.00,336.14 449.50,334.83 450.00,336.10 450.50,335.93 451.00,336.13 451.50,335.14 452.00,336.07 452.50,335.78 453.00,334.95 453.50,336.24 454.00,335.14 454.50,335.01 455.00,335.75 455.50,335.21 456.00,335.72 456.50,335.38 457.00,335.66 457.50,335.93 458.00,335.47 458.50,335.94 459.00,335.93 459.50,335.02 460.00,335.91 460.50,335.78 461.00,335.51 461.50,336.03 462.00,336.31 462.50,335.82 463.00,334.62 463.50,335.64 464.00,335.32 464.50,335.24 465.00,335.56 465.50,335.19 466.00,336.23 466.50,335.50 467.00,335.35 467.50,335.75 468.00,335.75 468.50,335.95 469.00,335.65 469.50,335.28 470.00,335.36 470.50,334.13 471.00,334.49 471.50,335.82 472.00,335.08 472.50,336.22 473.00,336.20 473.50,334.57 474.00,335.39 474.50,336.76 475.00,334.79 475.50,335.41 476.00,335.07 476.50,335.06 477.00,335.04 477.50,335.17 478.00,335.58 478.50,334.74 479.00,335.43 479.50,334.78 480.00,335.43 480.50,335.31 481.00,334.72 481.50,335.20 482.00,334.73 482.50,334.67 483.00,335.73 483.50,334.13 484.00,335.40 484.50,335.47 485.00,334.77 485.50,335.66 486.00,335.56 486.50,334.38 487.00,335.34 487.50,335.30 488.00,334.66 488.50,335.35 489.00,335.44 489.50,334.65 490.00,333.96 490.50,335.23 491.00,334.62 491.50,334.09 492.00,334.80 492.50,333.72 493.00,334.81 493.50,335.78 494.00,333.45 494.50,335.21 495.00,334.47 495.50,334.74 496.00,334.46 496.50,335.28 497.00,334.93 497.50,334.52 498.00,334.23 498.50,334.69 499.00,335.53 499.50,334.26 500.00,335.12 500.50,335.08 501.00,333.82 501.50,335.47 502.00,334.86 502.50,336.06 503.00,335.79 503.50,334.73 504.00,334.77 504.50,334.31 505.00,334.10 505.50,335.26 506.00,334.69 506.50,334.61 507.00,334.72 507.50,335.17 508.00,335.31 508.50,334.80 509.00,334.69 509.50,334.84 510.00,335.89 510.50,333.66 511.00,334.15 511.50,335.02 512.00,334.83 512.50,335.41 513.00,335.45 513.50,335.80 514.00,334.30 514.50,335.05 515.00,334.59 515.50,335.23 516.00,334.81 516.50,335.18 517.00,334.30 517.50,334.78 518.00,334.41 518.50,334.54 519.00,334.43 519.50,334.11 520.00,335.26 520.50,334.81 521.00,335.23 521.50,334.10 522.00,333.58 522.50,334.28 523.00,334.54 523.50,335.04 524.00,335.18 524.50,335.26 525.00,335.43 525.50,334.98 526.00,334.65 526.50,334.17 527.00,334.94 527.50,334.30 528.00,334.13 528.50,334.87 529.00,334.67 529.50,335.00 530.00,334.15 530.50,335.16 531.00,334.72 531.50,334.43 532.00,334.10 532.50,333.92 533.00,333.76 533.50,335.25 534.00,333.72 534.50,334.82 535.00,334.34 535.50,334.16 536.00,334.21 536.50,334.40 537.00,334.94 537.50,334.75 538.00,334.44 538.50,333.69 539.00,333.47 539.50,335.43 540.00,333.87 540.50,333.56 541.00,335.01 541.50,333.59 542.00,334.80 542.50,334.89 543.00,334.52 543.50,334.90 544.00,333.63 544.50,333.71 545.00,334.26 545.50,334.36 546.00,334.31 546.50,334.61 547.00,333.95 547.50,333.19 548.00,334.56 548.50,334.21 549.00,334.77 549.50,335.45 550.00,334.37 550.50,334.63 551.00,333.83 551.50,334.80 552.00,334.49 552.50,334.43 553.00,334.79 553.50,333.68 554.00,334.59 554.50,334.53 555.00,335.14 555.50,333.30 556.00,334.22 556.50,335.45 557.00,334.04 557.50,334.02 558.00,335.21 558.50,335.60 559.00,334.30 559.50,333.85 560.00,333.91 560.50,334.01 561.00,333.77 561.50,333.78 562.00,334.31 562.50,334.23 563.00,334.46 563.50,334.21 564.00,333.54 564.50,334.59 565.00,334.32 565.50,333.87 566.00,334.03 566.50,334.35 567.00,334.21 567.50,334.09 568.00,334.57 568.50,334.73 569.00,333.98 569.50,334.13 570.00,333.54 570.50,334.05 571.00,334.39 571.50,334.59 572.00,334.21 572.50,334.07 573.00,333.73 573.50,334.23 574.00,333.52 574.50,334.17 575.00,334.11 575.50,333.60 576.00,334.26 576.50,333.97 577.00,334.40 577.50,333.81 578.00,334.33 578.50,334.91 579.00,334.16 579.50,334.48 580.00,333.70 580.50,333.86 581.00,333.02 581.50,333.96 582.00,333.42 582.50,334.09 583.00,332.91 583.50,333.55 584.00,334.06 584.50,334.22 585.00,333.11 585.50,333.78 586.00,335.38 586.50,334.42 587.00,334.07 587.50,332.50 588.00,333.48 588.50,334.25 589.00,334.10 589.50,334.21 590.00,334.48 590.50,334.01 591.00,334.41 591.50,332.98 592.00,335.29 592.50,333.78 593.00,333.58 593.50,334.74 594.00,334.25 594.50,334.44 595.00,333.58 595.50,334.06 596.00,334.29 596.50,333.29 597.00,333.78 597.50,333.76 598.00,333.73 598.50,333.50 599.00,333.20 599.50,334.10 600.00,334.00 600.50,334.49 601.00,333.82 601.50,333.49 602.00,333.07 602.50,333.89 603.00,333.67 603.50,334.92 604.00,335.07 604.50,334.68 605.00,333.34 605.50,333.07 606.00,333.69 606.50,333.33 607.30,341.60 607.60,333.50 608.60,249.00 609.50,304.75 610.00,327.37 610.50,334.14 611.00,342.49 611.50,350.00 612.00,353.87 612.50,356.04 613.00,358.85 613.50,360.82 614.00,362.38 614.50,362.42 615.00,363.12 615.50,363.76 616.00,364.30 616.50,364.44 617.00,365.86 617.50,366.21 618.00,365.99 618.50,366.29 619.00,366.78 619.50,366.91 620.00,366.95 620.50,366.12 621.00,366.79 621.50,366.04 622.00,367.09 622.50,367.47 623.00,366.56 623.50,367.25 624.00,366.86 624.50,366.84 625.00,368.30 625.50,367.75 626.00,367.56 626.50,367.09 627.00,367.57 627.50,367.28 628.00,367.65 628.50,366.95 629.00,367.43 629.50,367.28 630.00,366.66 630.50,368.21 631.00,367.61 631.50,366.61 632.00,366.12 632.50,366.39 633.00,366.20 633.50,366.20 634.00,365.58 634.50,365.82 635.00,366.17 635.50,366.23 636.00,364.81 636.50,365.75 637.00,365.09 637.50,364.93 638.00,365.19 638.50,364.87 639.00,365.48 639.50,365.36 640.00,364.69 640.50,364.37 641.00,365.56 641.50,365.47 642.00,364.54 642.50,364.12 643.00,364.62 643.50,364.73 644.00,363.54 644.50,364.67 645.00,363.48 645.50,364.02 646.00,363.03 646.50,363.21 647.00,362.80 647.50,362.93 648.00,363.34 648.50,362.18 649.00,362.37 649.50,362.70 650.00,362.02 650.50,363.25 651.00,361.23 651.50,363.26 652.00,361.40 652.50,362.16 653.00,362.38 653.50,361.66 654.00,360.48 654.50,360.94 655.00,361.03 655.50,361.17 656.00,361.27 656.50,361.21 657.00,361.27 657.50,359.83 658.00,360.76 658.50,359.14 659.00,360.04 659.50,359.25 660.00,358.73 660.50,360.09 661.00,359.47 661.50,359.91 662.00,358.40 662.50,358.49 663.00,358.99 663.50,358.58 664.00,358.87 664.50,358.38 665.00,358.43 665.50,357.88 666.00,359.10 666.50,358.11 667.00,357.54 667.50,358.44 668.00,358.23 668.50,357.97 669.00,357.87 669.50,357.42 670.00,357.46 670.50,356.21 671.00,356.46 671.50,356.53 672.00,357.25 672.50,357.65 673.00,356.78 673.50,356.62 674.00,357.27 674.50,356.35 675.00,356.80 675.50,356.57 676.00,355.50 676.50,356.29 677.00,356.12 677.50,355.27 678.00,355.22 678.50,354.98 679.00,356.32 679.50,356.62 680.00,355.74 680.50,356.10 681.00,354.40 681.50,355.80 682.00,356.00 682.50,355.69 683.00,354.19 683.50,355.19 684.00,354.42 684.50,354.96 685.00,353.92 685.50,354.16 686.00,353.74 686.50,354.20 687.00,353.78 687.50,354.33 688.00,354.07 688.50,353.73 689.00,353.38 689.50,353.12 690.00,353.18 690.50,353.48 691.00,353.03 691.50,353.01 692.00,352.72 692.50,352.59 693.00,352.16 693.50,351.39 694.00,352.62 694.50,352.51 695.00,351.59 695.50,353.09 696.00,351.32 696.50,352.43 697.00,351.94 697.50,351.89 698.00,352.26 698.50,352.06 699.00,351.49 699.50,350.82 700.00,350.65 700.50,351.34 701.00,352.02 701.50,351.56 702.00,350.98 702.50,351.10 703.00,351.21 703.50,351.70 704.00,350.26 704.50,350.99 705.00,350.67 705.50,350.02 706.00,349.80 706.50,350.97 707.00,350.38 707.50,350.00 708.00,350.09 708.50,350.49 709.00,349.93 709.50,350.67 710.00,349.57 710.50,349.20 711.00,349.49 711.50,348.96 712.00,349.20 712.50,349.98 713.00,350.17 713.50,349.50 714.00,349.18 714.50,348.49 715.00,348.36 715.50,349.03 716.00,348.84 716.50,348.35 717.00,348.35 717.50,349.37 718.00,348.97 718.50,348.38 719.00,348.39 719.50,348.89 720.00,348.31 720.50,348.16 721.00,347.08 721.50,346.94 722.00,346.74 722.50,346.47 723.00,347.62 723.50,347.73 724.00,346.99 724.50,347.63 725.00,347.55 725.50,347.18 726.00,346.34 726.50,347.86 727.00,347.74 727.50,346.59 728.00,347.89 728.50,346.77 729.00,346.23 729.50,346.36 730.00,345.48 730.50,346.25 731.00,345.51 731.50,346.95 732.00,346.45 732.50,345.45 733.00,346.47 733.50,345.16 734.00,346.13 734.50,346.25 735.00,345.96 735.50,345.25 736.00,345.75 736.50,345.65 737.00,345.73 737.50,346.45 738.00,346.51 738.50,346.39 739.00,345.12 739.50,344.99 740.00,345.36 740.50,345.53 741.00,344.10 741.50,344.84 742.00,346.10 742.50,344.38 743.00,344.60 743.50,344.56 744.00,345.15 744.50,344.79 745.00,344.59 745.50,343.88 746.00,344.99 746.50,344.60 747.00,344.17 747.50,344.50 748.00,344.86 748.50,343.55 749.00,343.46 749.50,343.69 750.00,343.71 750.50,342.46 751.00,343.75 751.50,344.63 752.00,343.78 752.50,344.46 753.00,342.26 753.50,343.73 754.00,344.49 754.50,344.54 755.00,343.34 755.50,343.10 756.00,343.71 756.50,342.77 757.00,343.18 757.50,342.41 758.00,343.31 758.50,343.21 759.00,344.05 759.50,343.29 760.00,342.68 760.50,342.93 761.00,342.21 761.50,342.88 762.00,342.69 762.50,342.98 763.00,343.21 763.50,341.53 764.00,342.76 764.50,342.93 765.00,341.80 765.50,343.45 766.00,341.95 766.50,343.65 767.00,342.66 767.50,342.71 768.00,342.26 768.50,342.61 769.00,341.43 769.50,341.52 770.00,340.85 770.50,342.19 771.00,341.47 771.50,342.24 772.00,342.12 772.50,341.01 773.00,342.10 773.50,341.82 774.00,341.76 774.50,341.86 775.00,341.56 775.50,341.55 776.00,342.08 776.50,340.92 777.00,340.77 777.50,340.98 778.00,341.93 778.50,341.15 779.00,342.35 779.50,339.56 780.00,340.83 780.50,340.94 781.00,341.30 781.50,341.85 782.00,340.97 782.50,340.48 783.00,341.47 783.50,341.83 784.00,339.53 784.50,341.22 785.00,341.03 785.50,340.37 786.00,340.53 786.50,340.92 787.00,340.74 787.50,340.55 788.00,340.01 788.50,340.77 789.00,340.21 789.50,340.59 790.00,340.19 790.50,340.58 791.00,340.85 791.50,340.53 792.00,340.73 792.50,339.57 793.00,340.55 793.50,340.42 794.00,339.88 794.50,340.10 795.00,338.61 795.50,340.16 796.00,339.86 796.50,338.80 797.00,340.29 797.50,339.62 798.00,340.09 798.50,339.77 799.00,340.14 799.50,339.88 800.00,339.64 800.50,340.04 801.00,340.19 801.50,338.45 802.00,339.68 802.50,339.31 803.00,339.00 803.50,340.29 804.00,340.07 804.50,338.94 805.00,338.86 805.50,339.90 806.00,339.07 806.50,339.20 807.00,338.26 807.50,339.24 808.00,339.91 808.50,339.00 809.00,339.16 809.50,340.15 810.00,339.64 810.50,339.91 811.00,339.44 811.50,339.72 812.00,338.11 812.50,338.55 813.00,338.05 813.50,340.16 814.00,339.00 814.50,338.80 815.00,338.42 815.50,338.25 816.00,337.23 816.50,339.98 817.00,338.66 817.50,338.71 818.00,337.87 818.50,338.58 819.00,338.79 819.50,338.51 820.00,338.86 820.50,338.02 821.00,338.63 821.50,338.91 822.00,338.70 822.50,338.57 823.00,338.27 823.50,337.75 824.00,338.57 824.50,338.01 825.00,337.68 825.50,338.59 826.00,337.25 826.50,337.80 827.00,338.50 827.50,338.56 828.00,337.80 828.50,338.01 829.00,338.24 829.50,337.87 830.00,337.45 830.50,338.09 831.00,337.91 831.50,337.84 832.00,338.36 832.50,337.89 833.00,337.44 833.50,337.74 834.00,338.69 834.50,337.20 835.00,337.41 835.50,337.09 836.00,337.69" fill="none" stroke="#FF0000" stroke-width="1" stroke-linejoin="round" stroke-opacity="0.62"/>
<polyline points="108.00,432.86 108.50,434.31 109.00,434.51 109.50,433.05 110.00,432.90 110.50,432.24 111.00,433.53 111.50,432.40 112.00,432.76 112.50,432.86 113.00,432.54 113.50,433.83 114.00,434.43 114.50,430.99 115.00,432.09 115.50,432.97 116.00,431.71 116.50,432.09 117.00,432.68 117.50,433.66 118.00,433.38 118.50,431.98 119.00,432.28 119.50,431.75 120.00,431.84 120.50,430.85 121.00,430.23 121.50,431.41 122.00,432.54 122.50,432.26 123.00,429.82 123.50,431.24 124.00,430.76 124.50,431.50 125.00,430.17 125.50,431.90 126.00,430.81 126.50,431.43 127.00,431.62 127.50,429.00 128.00,430.47 128.50,431.94 129.00,430.51 129.50,431.35 130.00,430.71 130.50,429.80 131.00,430.42 131.50,431.03 132.00,431.16 132.50,431.22 133.00,428.83 133.50,430.49 134.00,428.42 134.50,429.46 135.00,429.31 135.50,429.98 136.00,429.61 136.50,430.37 137.00,428.61 137.50,429.84 138.00,429.35 138.50,428.92 139.00,427.75 139.50,429.26 140.00,428.95 140.50,429.29 141.00,428.46 141.50,428.18 142.00,428.68 142.50,428.66 143.00,428.78 143.50,429.78 144.00,427.44 144.50,429.72 145.00,425.17 145.50,428.61 146.00,426.93 146.50,429.38 147.00,426.70 147.50,428.37 148.00,426.44 148.50,426.23 149.00,427.89 149.50,427.86 150.00,426.37 150.50,429.08 151.00,426.57 151.50,428.18 152.00,425.80 152.50,425.77 153.00,426.65 153.50,425.58 154.00,426.83 154.50,424.42 155.00,426.44 155.50,425.70 156.00,425.27 156.50,426.25 157.00,425.79 157.50,425.51 158.00,426.57 158.50,426.04 159.00,426.04 159.50,426.82 160.00,425.49 160.50,426.23 161.00,425.04 161.50,425.88 162.00,425.74 162.50,424.70 163.00,423.76 163.50,423.90 164.00,424.13 164.50,425.40 165.00,424.71 165.50,424.49 166.00,425.12 166.50,425.27 167.00,425.79 167.50,423.94 168.00,424.89 168.50,424.96 169.00,423.40 169.50,424.29 170.00,423.29 170.50,423.84 171.00,424.34 171.50,422.37 172.00,423.04 172.50,423.03 173.00,423.76 173.50,422.95 174.00,423.87 174.50,422.69 175.00,422.93 175.50,423.86 176.00,423.53 176.50,423.31 177.00,423.07 177.50,423.93 178.00,424.19 178.50,422.55 179.00,422.16 179.50,421.81 180.00,424.22 180.50,421.79 181.00,421.34 181.50,422.69 182.00,423.32 182.50,421.20 183.00,422.12 183.50,420.88 184.00,421.47 184.50,423.47 185.00,422.10 185.50,421.64 186.00,421.87 186.50,421.98 187.00,421.57 187.50,420.52 188.00,420.46 188.50,423.24 189.00,420.69 189.50,422.37 190.00,420.58 190.50,422.32 191.00,421.70 191.50,420.82 192.00,422.73 192.50,420.03 193.00,420.58 193.50,419.95 194.00,419.95 194.50,420.25 195.00,419.65 195.50,420.14 196.00,421.77 196.50,418.73 197.00,419.09 197.50,419.29 198.00,419.65 198.50,420.90 199.00,420.57 199.50,420.29 200.00,419.97 200.50,421.86 201.00,418.64 201.50,418.55 202.00,419.49 202.50,419.63 203.00,419.16 203.50,418.55 204.00,418.06 204.50,418.92 205.00,418.46 205.50,418.60 206.00,417.99 206.50,420.08 207.00,419.22 207.50,420.40 208.00,418.22 208.50,418.66 209.00,418.32 209.50,418.49 210.00,418.17 210.50,418.18 211.00,416.50 211.50,417.95 212.00,418.74 212.50,416.31 213.00,417.67 213.50,418.43 214.00,418.98 214.50,417.70 215.00,418.11 215.50,419.20 216.00,418.73 216.50,417.09 217.00,416.89 217.50,418.27 218.00,417.49 218.50,416.73 219.00,416.94 219.50,417.36 220.00,416.83 220.50,416.71 221.00,416.66 221.50,415.47 222.00,418.28 222.50,417.75 223.00,417.95 223.50,416.40 224.00,416.57 224.50,416.90 225.00,417.05 225.50,414.61 226.00,416.49 226.50,415.21 227.00,415.97 227.50,415.37 228.00,417.42 228.50,416.31 229.00,415.73 229.50,416.93 230.00,415.56 230.50,414.90 231.00,415.31 231.50,415.08 232.00,415.38 232.50,416.02 233.00,415.10 233.50,415.07 234.00,415.97 234.50,415.25 235.00,415.77 235.50,414.98 236.00,413.62 236.50,413.71 237.00,413.17 237.50,415.59 238.00,414.88 238.50,414.01 239.00,413.48 239.50,414.62 240.00,414.11 240.50,414.45 241.00,413.34 241.50,413.03 242.00,415.35 242.50,413.03 243.00,413.79 243.50,414.94 244.00,412.04 244.50,414.23 245.00,413.60 245.50,413.34 246.00,413.64 246.50,412.27 247.00,411.27 247.50,414.87 248.00,412.86 248.50,413.84 249.00,413.97 249.50,413.17 250.00,413.25 250.50,413.41 251.00,414.11 251.50,413.07 252.00,413.69 252.50,412.23 253.00,412.05 253.50,412.43 254.00,412.64 254.50,412.69 255.00,413.88 255.50,412.82 256.00,412.06 256.50,413.71 257.00,412.16 257.50,412.12 258.00,412.17 258.50,411.36 259.00,410.62 259.50,411.64 260.00,411.17 260.50,410.61 261.00,411.42 261.50,411.07 262.00,410.65 262.50,409.52 263.00,410.88 263.50,412.53 264.00,411.69 264.50,411.79 265.00,410.74 265.50,411.63 266.00,410.02 266.50,410.14 267.00,410.94 267.50,409.14 268.00,410.39 268.50,410.54 269.00,411.70 269.50,409.51 270.00,410.44 270.50,409.41 271.00,409.44 271.50,407.45 272.00,408.95 272.50,410.74 273.00,410.11 273.50,409.72 274.00,411.70 274.50,409.92 275.00,408.27 275.50,409.12 276.00,409.18 276.50,410.59 277.00,408.29 277.50,409.40 278.00,409.82 278.50,408.16 279.00,408.89 279.50,406.95 280.00,408.76 280.50,406.64 281.00,408.19 281.50,409.99 282.00,408.76 282.50,408.37 283.00,408.39 283.50,410.11 284.00,408.61 284.50,408.97 285.00,407.59 285.50,407.52 286.00,406.91 286.50,407.61 287.00,407.08 287.50,408.51 288.00,408.13 288.50,407.39 289.00,406.94 289.50,404.78 290.00,406.76 290.50,407.48 291.00,407.73 291.50,404.33 292.00,404.87 292.50,407.09 293.00,405.98 293.50,406.65 294.00,406.37 294.50,407.26 295.00,405.03 295.50,406.12 296.00,407.42 296.50,406.71 297.00,405.73 297.50,406.82 298.00,406.62 298.50,405.52 299.00,406.87 299.50,406.80 300.00,406.03 300.50,406.93 301.00,405.00 301.50,406.67 302.00,405.77 302.50,405.05 303.00,405.30 303.50,406.81 304.00,405.23 304.50,405.36 305.00,405.03 305.50,404.86 306.00,406.36 306.50,407.43 307.00,406.59 307.50,405.80 308.00,405.97 308.50,404.94 309.00,404.75 309.50,404.09 310.00,406.36 310.50,404.73 311.00,404.34 311.50,404.36 312.00,405.04 312.50,404.33 313.00,404.78 313.50,404.86 314.00,405.85 314.50,403.50 315.00,404.81 315.50,403.88 316.00,404.06 316.50,405.83 317.00,404.89 317.50,403.94 318.00,404.67 318.50,404.16 319.00,405.11 319.50,403.64 320.00,404.45 320.50,403.78 321.00,403.92 321.50,403.72 322.00,403.25 322.50,403.84 323.00,404.57 323.50,403.10 324.00,403.24 324.50,403.86 325.00,402.81 325.50,404.20 326.00,404.00 326.50,401.28 327.00,402.69 327.50,402.26 328.00,403.90 328.50,403.94 329.00,401.99 329.50,402.39 330.00,402.88 330.50,402.57 331.00,403.48 331.50,403.66 332.00,403.26 332.50,403.65 333.00,403.46 333.50,402.51 334.00,402.14 334.50,401.81 335.00,403.14 335.50,403.15 336.00,403.21 336.50,401.96 337.00,401.86 337.50,402.38 338.00,403.21 338.50,402.36 339.00,402.19 339.50,401.20 340.00,402.28 340.50,402.31 341.00,400.93 341.50,403.28 342.00,400.85 342.50,402.44 343.00,401.38 343.50,401.65 344.00,400.76 344.50,400.90 345.00,401.97 345.50,401.12 346.00,400.94 346.50,401.98 347.00,401.77 347.50,401.23 348.00,401.23 348.50,402.50 349.00,400.77 349.50,401.21 350.00,401.19 350.50,399.52 351.00,399.00 351.50,400.77 352.00,401.37 352.50,400.73 353.00,400.02 353.50,399.86 354.00,401.11 354.50,400.07 355.00,398.86 355.50,400.83 356.00,400.39 356.50,400.46 357.00,400.99 357.50,401.19 358.00,400.46 358.50,399.75 359.00,397.98 359.50,400.06 360.00,399.62 360.50,400.86 361.00,400.77 361.50,400.01 362.00,400.75 362.50,399.41 363.00,399.39 363.50,398.62 364.00,399.04 364.50,399.45 365.00,400.15 365.50,398.51 366.00,399.82 366.50,401.13 367.00,397.81 367.50,398.72 368.00,398.91 368.50,399.73 369.00,400.55 369.50,399.83 370.00,398.65 370.50,397.87 371.00,398.52 371.50,398.48 372.00,398.68 372.50,397.62 373.00,399.71 373.50,397.66 374.00,398.85 374.50,398.39 375.00,397.17 375.50,398.15 376.00,398.05 376.50,397.82 377.00,398.65 377.50,397.46 378.00,400.08 378.50,398.77 379.00,396.90 379.50,395.45 380.00,398.72 380.50,397.78 381.00,397.57 381.50,396.58 382.00,396.12 382.50,395.69 383.00,399.57 383.50,398.66 384.00,396.69 384.50,398.79 385.00,395.43 385.50,397.64 386.00,397.60 386.50,396.16 387.00,396.48 387.50,395.91 388.00,396.83 388.50,397.92 389.00,397.59 389.50,397.03 390.00,397.61 390.50,394.98 391.00,398.32 391.50,396.43 392.00,395.26 392.50,396.05 393.00,395.76 393.50,396.38 394.00,396.53 394.50,394.13 395.00,397.29 395.50,397.66 396.00,395.15 396.50,397.35 397.00,397.11 397.50,396.84 398.00,397.35 398.50,394.61 399.00,396.45 399.50,394.86 400.00,397.83 400.50,394.80 401.00,394.53 401.50,396.58 402.00,396.09 402.50,395.52 403.00,395.57 403.50,395.95 404.00,396.90 404.50,394.67 405.00,394.77 405.50,394.70 406.00,395.11 406.50,395.14 407.00,393.93 407.50,395.31 408.00,393.86 408.50,394.67 409.00,394.68 409.50,394.65 410.00,396.15 410.50,396.24 411.00,395.70 411.50,396.11 412.00,394.38 412.50,395.86 413.00,394.50 413.50,394.71 414.00,394.71 414.50,393.22 415.00,393.82 415.50,394.18 416.00,394.61 416.50,394.12 417.00,393.43 417.50,393.11 418.00,394.11 418.50,392.99 419.00,392.95 419.50,393.87 420.00,394.08 420.50,393.13 421.00,392.23 421.50,394.05 422.00,394.48 422.50,393.33 423.00,393.32 423.50,391.52 424.00,394.38 424.50,392.53 425.00,394.12 425.50,392.90 426.00,393.26 426.50,393.17 427.00,391.68 427.50,395.73 428.00,391.80 428.50,393.26 429.00,392.39 429.50,392.86 430.00,394.27 430.50,391.31 431.00,392.81 431.50,393.34 432.00,392.96 432.50,393.16 433.00,392.08 433.50,391.24 434.00,391.49 434.50,392.26 435.00,393.25 435.50,392.61 436.00,393.93 436.50,392.54 437.00,392.57 437.50,392.54 438.00,390.75 438.50,392.78 439.00,391.22 439.50,391.84 440.00,394.24 440.50,390.97 441.00,392.15 441.50,392.26 442.00,392.07 442.50,391.91 443.00,391.36 443.50,393.61 444.00,389.97 444.50,390.81 445.00,393.02 445.50,392.13 446.00,390.91 446.50,390.74 447.00,391.28 447.50,393.84 448.00,391.86 448.50,390.44 449.00,391.54 449.50,390.72 450.00,392.59 450.50,391.46 451.00,392.28 451.50,391.25 452.00,392.89 452.50,391.38 453.00,391.22 453.50,390.01 454.00,390.50 454.50,391.19 455.00,390.34 455.50,392.98 456.00,390.69 456.50,389.97 457.00,391.50 457.50,390.09 458.00,390.89 458.50,390.39 459.00,389.78 459.50,391.64 460.00,390.42 460.50,391.28 461.00,389.95 461.50,388.92 462.00,389.04 462.50,389.65 463.00,389.91 463.50,390.08 464.00,390.45 464.50,388.82 465.00,390.10 465.50,388.75 466.00,389.19 466.50,392.07 467.00,390.86 467.50,389.34 468.00,391.24 468.50,390.86 469.00,390.34 469.50,390.81 470.00,389.22 470.50,389.29 471.00,388.58 471.50,389.84 472.00,388.14 472.50,388.77 473.00,389.59 473.50,388.68 474.00,389.40 474.50,390.69 475.00,388.11 475.50,390.24 476.00,388.33 476.50,388.08 477.00,389.10 477.50,389.79 478.00,388.20 478.50,388.16 479.00,388.39 479.50,388.11 480.00,388.91 480.50,388.07 481.00,388.45 481.50,388.97 482.00,388.25 482.50,389.64 483.00,387.97 483.50,387.86 484.00,390.36 484.50,389.85 485.00,388.53 485.50,389.19 486.00,388.72 486.50,387.93 487.00,388.97 487.50,388.61 488.00,389.47 488.50,386.63 489.00,388.99 489.50,388.38 490.00,387.59 490.50,387.79 491.00,387.79 491.50,386.94 492.00,387.58 492.50,388.78 493.00,386.68 493.50,387.68 494.00,385.87 494.50,387.45 495.00,388.29 495.50,387.87 496.00,387.93 496.50,386.86 497.00,388.35 497.50,387.00 498.00,388.60 498.50,387.95 499.00,387.38 499.50,389.04 500.00,387.32 500.50,388.57 501.00,387.72 501.50,387.60 502.00,388.47 502.50,387.94 503.00,387.51 503.50,387.38 504.00,387.66 504.50,387.52 505.00,387.12 505.50,386.45 506.00,385.03 506.50,387.23 507.00,387.09 507.50,388.37 508.00,387.66 508.50,388.25 509.00,388.76 509.50,387.08 510.00,386.39 510.50,387.86 511.00,386.56 511.50,386.84 512.00,388.34 512.50,387.51 513.00,387.98 513.50,385.75 514.00,386.97 514.50,387.92 515.00,385.73 515.50,387.04 516.00,387.19 516.50,384.73 517.00,388.22 517.50,386.11 518.00,386.60 518.50,388.21 519.00,385.06 519.50,387.06 520.00,386.22 520.50,386.63 521.00,385.83 521.50,387.77 522.00,385.51 522.50,386.81 523.00,386.95 523.50,386.35 524.00,386.16 524.50,386.14 525.00,387.28 525.50,386.74 526.00,386.23 526.50,385.29 527.00,386.39 527.50,386.70 528.00,386.17 528.50,387.46 529.00,384.42 529.50,388.36 530.00,385.93 530.50,385.04 531.00,384.47 531.50,386.79 532.00,386.50 532.50,385.76 533.00,385.89 533.50,386.06 534.00,385.50 534.50,386.89 535.00,386.39 535.50,385.69 536.00,384.30 536.50,386.98 537.00,385.29 537.50,384.76 538.00,386.83 538.50,386.09 539.00,383.80 539.50,384.09 540.00,385.21 540.50,384.41 541.00,385.37 541.50,387.84 542.00,388.14 542.50,385.39 543.00,386.13 543.50,386.18 544.00,385.25 544.50,384.00 545.00,386.27 545.50,385.11 546.00,385.66 546.50,385.86 547.00,384.47 547.50,386.69 548.00,385.21 548.50,385.32 549.00,384.70 549.50,385.70 550.00,385.95 550.50,384.51 551.00,385.51 551.50,384.57 552.00,383.82 552.50,384.61 553.00,385.43 553.50,385.35 554.00,385.80 554.50,384.19 555.00,384.50 555.50,384.81 556.00,385.28 556.50,384.59 557.00,383.81 557.50,383.24 558.00,385.68 558.50,385.55 559.00,383.96 559.50,385.87 560.00,384.45 560.50,384.90 561.00,385.60 561.50,384.00 562.00,383.71 562.50,382.82 563.00,384.64 563.50,384.74 564.00,385.09 564.50,384.83 565.00,384.36 565.50,385.27 566.00,383.29 566.50,384.54 567.00,384.63 567.50,384.03 568.00,385.67 568.50,384.48 569.00,385.28 569.50,384.85 570.00,383.85 570.50,385.74 571.00,384.97 571.50,383.96 572.00,383.81 572.50,382.95 573.00,383.73 573.50,383.63 574.00,384.00 574.50,383.41 575.00,384.28 575.50,383.67 576.00,382.29 576.50,383.23 577.00,382.85 577.50,382.49 578.00,383.39 578.50,384.42 579.00,382.55 579.50,381.73 580.00,383.37 580.50,386.19 581.00,382.93 581.50,383.69 582.00,383.04 582.50,384.17 583.00,384.67 583.50,383.20 584.00,384.39 584.50,382.31 585.00,383.46 585.50,382.10 586.00,383.39 586.50,382.64 587.00,383.38 587.50,382.13 588.00,383.33 588.50,383.20 589.00,382.55 589.50,382.32 590.00,381.95 590.50,382.64 591.00,383.33 591.50,382.82 592.00,383.06 592.50,384.04 593.00,382.58 593.50,383.11 594.00,383.57 594.50,383.26 595.00,383.12 595.50,382.82 596.00,384.46 596.50,382.63 597.00,382.32 597.50,383.18 598.00,384.10 598.50,383.88 599.00,382.60 599.50,383.30 600.00,382.97 600.50,382.57 601.00,383.06 601.50,383.01 602.00,382.55 602.50,383.96 603.00,382.03 603.50,383.61 604.00,384.22 604.50,384.21 605.00,382.52 605.50,382.08 606.00,380.78 606.50,382.15 607.00,384.38 607.50,380.73 608.00,380.73 608.50,382.85 609.00,382.63 609.50,380.40 610.00,381.97 610.50,382.31 611.00,380.60 611.50,382.82 612.00,380.73 612.50,382.92 613.00,382.06 613.50,381.22 614.00,380.37 614.50,381.49 615.00,381.69 615.50,381.63 616.00,381.19 616.50,381.51 617.00,382.46 617.50,380.83 618.00,381.43 618.50,382.01 619.00,381.55 619.50,382.33 620.00,382.93 620.50,381.18 621.00,381.67 621.50,378.79 622.00,381.11 622.50,382.00 623.00,380.36 623.50,382.55 624.00,379.62 624.50,382.51 625.00,380.80 625.50,380.32 626.00,380.78 626.50,380.95 627.00,380.25 627.50,379.90 628.00,380.65 628.50,381.95 629.00,381.43 629.50,382.25 630.00,382.47 630.50,384.67 631.00,386.67 631.50,385.07 632.00,383.33 632.50,382.48 633.00,381.50 633.50,380.99 634.00,382.04 634.50,381.42 635.00,382.25 635.50,385.34 636.00,383.53 636.50,382.13 637.00,381.51 637.50,380.34 638.00,380.51 638.50,380.93 639.00,381.15 639.50,381.43 640.00,380.62 640.50,380.73 641.00,378.28 641.50,381.54 642.00,379.00 642.50,380.35 643.00,382.65 643.50,380.04 644.00,378.88 644.50,381.74 645.00,379.76 645.50,380.09 646.00,380.06 646.50,380.85 647.00,380.86 647.50,380.02 648.00,383.45 648.50,383.94 649.00,387.67 649.50,384.14 650.00,382.97 650.50,379.38 651.00,379.57 651.50,381.27 652.00,378.91 652.50,378.84 653.00,380.39 653.50,379.61 654.00,379.44 654.50,379.68 655.00,381.70 655.50,378.83 656.00,379.50 656.50,379.87 657.00,378.85 657.50,379.64 658.00,380.09 658.50,378.81 659.00,380.61 659.50,378.55 660.00,379.43 660.50,379.84 661.00,382.38 661.50,377.92 662.00,379.73 662.50,381.72 663.00,378.89 663.50,380.39 664.00,379.58 664.50,378.07 665.00,379.69 665.50,378.51 666.00,379.37 666.50,377.92 667.00,379.91 667.50,377.05 668.00,380.72 668.50,383.67 669.00,384.62 669.50,382.15 670.00,380.57 670.50,378.71 671.00,381.52 671.50,379.00 672.00,379.01 672.50,378.34 673.00,378.55 673.50,379.51 674.00,378.39 674.50,378.19 675.00,378.39 675.50,378.55 676.00,379.00 676.50,378.39 677.00,378.63 677.50,378.10 678.00,379.87 678.50,378.82 679.00,378.43 679.50,378.95 680.00,378.63 680.50,377.23 681.00,378.46 681.50,380.09 682.00,379.03 682.50,379.62 683.00,377.93 683.50,377.17 684.00,377.86 684.50,379.68 685.00,377.55 685.50,377.71 686.00,379.39 686.50,378.15 687.00,378.18 687.50,378.68 688.00,378.39 688.50,378.02 689.00,379.83 689.50,380.27 690.00,382.18 690.50,381.46 691.00,378.56 691.50,377.96 692.00,377.10 692.50,378.78 693.00,378.64 693.50,378.92 694.00,378.97 694.50,378.94 695.00,378.65 695.50,377.28 696.00,378.80 696.50,377.11 697.00,380.01 697.50,378.15 698.00,378.40 698.50,376.73 699.00,378.79 699.50,378.86 700.00,377.70 700.50,379.92 701.00,381.31 701.50,379.79 702.00,380.27 702.50,379.61 703.00,376.69 703.50,378.57 704.00,377.36 704.50,378.81 705.00,375.35 705.50,377.14 706.00,378.61 706.50,377.80 707.00,380.54 707.50,379.98 708.00,380.45 708.50,378.92 709.00,377.00 709.50,376.67 710.00,377.18 710.50,378.35 711.00,377.28 711.50,376.67 712.00,380.23 712.50,375.80 713.00,376.99 713.50,377.66 714.00,376.21 714.50,377.12 715.00,376.73 715.50,375.75 716.00,377.47 716.50,376.02 717.00,376.34 717.50,378.11 718.00,377.63 718.50,380.83 719.00,383.00 719.50,381.14 720.00,378.97 720.50,376.65 721.00,375.58 721.50,376.95 722.00,377.20 722.50,376.31 723.00,375.86 723.50,377.51 724.00,375.75 724.50,377.08 725.00,376.23 725.50,375.12 726.00,378.07 726.50,377.14 727.00,377.06 727.50,375.27 728.00,376.41 728.50,376.75 729.00,375.81 729.50,377.94 730.00,374.61 730.50,377.04 731.00,374.68 731.50,374.95 732.00,375.18 732.50,376.83 733.00,375.65 733.50,375.66 734.00,375.42 734.50,374.89 735.00,375.39 735.50,375.28 736.00,375.86 736.50,375.78 737.00,373.93 737.50,375.49 738.00,377.14 738.50,375.60 739.00,375.93 739.50,375.32 740.00,375.33 740.50,375.86 741.00,374.69 741.50,375.73 742.00,374.36 742.50,376.14 743.00,374.40 743.50,376.39 744.00,376.69 744.50,374.29 745.00,376.34 745.50,375.35 746.00,376.74 746.50,375.19 747.00,375.40 747.50,375.37 748.00,376.74 748.50,373.84 749.00,376.26 749.50,375.63 750.00,375.09 750.50,375.29 751.00,376.33 751.50,376.21 752.00,376.97 752.50,374.85 753.00,373.71 753.50,374.89 754.00,375.20 754.50,374.95 755.00,376.43 755.50,377.36 756.00,375.63 756.50,373.67 757.00,376.19 757.50,374.65 758.00,375.25 758.50,375.95 759.00,375.51 759.50,375.09 760.00,375.39 760.50,375.80 761.00,375.66 761.50,376.94 762.00,372.36 762.50,374.33 763.00,374.49 763.50,375.74 764.00,375.18 764.50,375.73 765.00,373.66 765.50,374.72 766.00,375.48 766.50,374.84 767.00,374.50 767.50,375.09 768.00,376.31 768.50,372.91 769.00,376.22 769.50,375.02 770.00,373.98 770.50,375.32 771.00,374.74 771.50,375.78 772.00,373.94 772.50,375.52 773.00,373.82 773.50,374.90 774.00,375.22 774.50,374.50 775.00,375.13 775.50,374.00 776.00,375.47 776.50,374.04 777.00,373.84 777.50,374.35 778.00,374.39 778.50,373.67 779.00,375.12 779.50,374.27 780.00,374.91 780.50,373.00 781.00,373.14 781.50,374.06 782.00,373.39 782.50,374.15 783.00,374.75 783.50,375.23 784.00,375.53 784.50,374.90 785.00,373.53 785.50,374.65 786.00,373.66 786.50,374.60 787.00,373.14 787.50,375.28 788.00,374.43 788.50,373.78 789.00,372.79 789.50,374.25 790.00,373.51 790.50,374.19 791.00,373.30 791.50,373.43 792.00,374.46 792.50,375.21 793.00,372.73 793.50,373.67 794.00,374.18 794.50,373.67 795.00,373.39 795.50,375.72 796.00,372.99 796.50,374.05 797.00,373.27 797.50,373.60 798.00,371.62 798.50,374.45 799.00,373.44 799.50,372.75 800.00,375.09 800.50,373.33 801.00,373.01 801.50,372.78 802.00,374.48 802.50,373.53 803.00,373.20 803.50,372.27 804.00,372.63 804.50,373.73 805.00,373.38 805.50,371.57 806.00,372.58 806.50,373.55 807.00,375.74 807.50,372.63 808.00,371.29 808.50,373.96 809.00,372.82 809.50,372.04 810.00,373.72 810.50,372.98 811.00,372.31 811.50,371.97 812.00,373.02 812.50,373.19 813.00,371.50 813.50,373.96 814.00,371.91 814.50,374.30 815.00,373.32 815.50,372.83 816.00,373.28 816.50,372.43 817.00,372.88 817.50,374.40 818.00,372.39 818.50,373.62 819.00,372.06 819.50,372.83 820.00,373.69 820.50,371.73 821.00,373.09 821.50,370.83 822.00,371.72 822.50,372.35 823.00,373.50 823.50,373.34 824.00,371.85 824.50,372.53 825.00,372.80 825.50,371.21 826.00,372.98 826.50,373.79 827.00,373.68 827.50,372.00 828.00,372.15 828.50,371.66 829.00,372.03 829.50,372.24 830.00,373.05 830.50,372.50 831.00,371.57 831.50,373.12 832.00,373.16 832.50,371.80 833.00,372.10 833.50,372.21 834.00,370.81 834.50,372.39 835.00,372.85 835.50,373.98 836.00,372.38" fill="none" stroke="#00B0F0" stroke-width="1" stroke-linejoin="round" stroke-opacity="0.62"/>
<polyline points="108.00,448.67 108.90,444.79 109.80,449.45 110.70,446.37 111.60,445.48 112.50,450.66 113.40,446.62 114.30,448.04 115.20,446.93 116.10,448.36 117.00,446.93 117.90,443.68 118.80,447.32 119.70,447.80 120.60,447.57 121.50,446.06 122.40,451.06 123.30,444.83 124.20,446.91 125.10,447.13 126.00,443.96 126.90,443.69 127.80,448.23 128.70,448.26 129.60,446.94 130.50,442.67 131.40,445.72 132.30,447.35 133.20,448.33 134.10,449.50 135.00,447.70 135.90,448.94 136.80,450.65 137.70,437.92 138.60,450.37 139.50,445.02 140.40,448.45 141.30,447.43 142.20,442.82 143.10,443.26 144.00,448.27 144.90,445.96 145.80,449.37 146.70,445.19 147.60,454.66 148.50,445.91 149.40,452.50 150.30,444.68 151.20,447.91 152.10,450.63 153.00,443.33 153.90,444.17 154.80,447.52 155.70,449.33 156.60,449.86 157.50,447.87 158.40,449.17 159.30,443.04 160.20,445.48 161.10,450.04 162.00,445.16 162.90,445.68 163.80,440.08 164.70,445.90 165.60,440.75 166.50,447.69 167.40,450.08 168.30,447.45 169.20,447.10 170.10,445.06 171.00,448.60 171.90,443.25 172.80,445.35 173.70,451.75 174.60,443.28 175.50,445.08 176.40,441.46 177.30,450.07 178.20,445.87 179.10,443.34 180.00,443.04 180.90,449.15 181.80,448.63 182.70,448.60 183.60,446.27 184.50,448.62 185.40,449.63 186.30,448.05 187.20,441.15 188.10,440.34 189.00,440.99 189.90,447.35 190.80,441.11 191.70,443.74 192.60,446.47 193.50,444.23 194.40,443.24 195.30,448.71 196.20,447.56 197.10,448.28 198.00,448.60 198.90,449.87 199.80,446.24 200.70,445.82 201.60,442.03 202.50,445.73 203.40,444.85 204.30,448.87 205.20,448.17 206.10,449.91 207.00,448.97 207.90,449.19 208.80,447.95 209.70,446.82 210.60,444.87 211.50,446.22 212.40,442.80 213.30,447.74 214.20,445.96 215.10,440.22 216.00,439.64 216.90,444.46 217.80,445.10 218.70,445.32 219.60,449.40 220.50,444.69 221.40,443.12 222.30,447.16 223.20,448.67 224.10,450.24 225.00,443.73 225.90,445.59 226.80,445.16 227.70,449.90 228.60,447.91 229.50,446.25 230.40,447.96 231.30,445.32 232.20,445.69 233.10,446.10 234.00,444.96 234.90,445.56 235.80,447.04 236.70,446.76 237.60,449.79 238.50,448.27 239.40,445.98 240.30,440.80 241.20,442.54 242.10,444.92 243.00,445.21 243.90,442.94 244.80,444.98 245.70,446.53 246.60,443.74 247.50,445.57 248.40,445.74 249.30,443.46 250.20,442.86 251.10,445.60 252.00,447.07 252.90,442.19 253.80,438.45 254.70,442.49 255.60,447.31 256.50,442.15 257.40,448.33 258.30,444.64 259.20,446.37 260.10,443.74 261.00,447.47 261.90,446.18 262.80,447.39 263.70,438.77 264.60,448.69 265.50,439.75 266.40,444.76 267.30,447.92 268.20,445.27 269.10,447.84 270.00,446.43 270.90,446.24 271.80,444.05 272.70,448.46 273.60,448.74 274.50,444.71 275.40,443.84 276.30,446.55 277.20,443.16 278.10,446.47 279.00,448.98 279.90,448.41 280.80,451.42 281.70,447.65 282.60,442.32 283.50,443.16 284.40,447.89 285.30,451.63 286.20,444.93 287.10,443.76 288.00,449.46 288.90,445.65 289.80,447.65 290.70,448.57 291.60,443.59 292.50,445.10 293.40,444.62 294.30,447.23 295.20,447.53 296.10,444.75 297.00,447.29 297.90,441.64 298.80,446.79 299.70,446.77 300.60,445.94 301.50,442.44 302.40,445.69 303.30,443.35 304.20,449.42 305.10,445.23 306.00,445.42 306.90,445.65 307.80,447.21 308.70,446.10 309.60,447.20 310.50,443.68 311.40,448.56 312.30,444.72 313.20,447.72 314.10,446.47 315.00,448.47 315.90,445.72 316.80,442.36 317.70,443.13 318.60,445.16 319.50,449.21 320.40,444.77 321.30,446.03 322.20,450.43 323.10,443.76 324.00,446.95 324.90,446.55 325.80,444.43 326.70,446.48 327.60,449.01 328.50,449.63 329.40,445.06 330.30,452.84 331.20,446.70 332.10,445.19 333.00,444.13 333.90,443.49 334.80,447.81 335.70,438.94 336.60,445.44 337.50,442.55 338.40,445.43 339.30,445.76 340.20,442.70 341.10,443.47 342.00,448.87 342.90,444.51 343.80,445.81 344.70,445.07 345.60,447.81 346.50,448.74 347.40,448.14 348.30,447.79 349.20,447.82 350.10,441.41 351.00,450.55 351.90,443.71 352.80,442.50 353.70,444.37 354.60,442.84 355.50,447.26 356.40,448.39 357.30,450.43 358.20,445.39 359.10,443.56 360.00,444.71 360.90,441.95 361.80,443.04 362.70,453.04 363.60,442.91 364.50,444.32 365.40,447.50 366.30,446.38 367.20,447.97 368.10,443.69 369.00,443.21 369.90,449.53 370.80,443.88 371.70,445.52 372.60,446.27 373.50,441.33 374.40,445.29 375.30,444.19 376.20,447.00 377.10,445.00 378.00,440.36 378.90,447.63 379.80,439.62 380.70,444.75 381.60,444.07 382.50,444.27 383.40,445.67 384.30,448.00 385.20,443.64 386.10,444.26 387.00,447.50 387.90,446.93 388.80,447.43 389.70,446.51 390.60,445.13 391.50,444.54 392.40,444.57 393.30,447.88 394.20,449.28 395.10,450.45 396.00,443.21 396.90,445.13 397.80,445.71 398.70,445.30 399.60,442.99 400.50,450.92 401.40,449.31 402.30,445.29 403.20,444.52 404.10,445.65 405.00,442.48 405.90,444.54 406.80,447.53 407.70,449.65 408.60,447.81 409.50,448.78 410.40,443.13 411.30,437.89 412.20,448.97 413.10,446.10 414.00,445.46 414.90,449.68 415.80,443.34 416.70,443.36 417.60,443.86 418.50,449.54 419.40,449.08 420.30,439.03 421.20,451.70 422.10,445.64 423.00,446.68 423.90,443.77 424.80,450.17 425.70,447.14 426.60,449.39 427.50,443.13 428.40,447.91 429.30,445.85 430.20,445.08 431.10,443.66 432.00,443.93 432.90,442.79 433.80,444.01 434.70,445.55 435.60,447.02 436.50,441.83 437.40,443.10 438.30,444.12 439.20,441.64 440.10,444.90 441.00,444.95 441.90,445.13 442.80,446.58 443.70,447.87 444.60,447.52 445.50,446.26 446.40,447.68 447.30,442.69 448.20,442.17 449.10,447.92 450.00,446.94 450.90,451.55 451.80,445.02 452.70,443.17 453.60,446.27 454.50,444.47 455.40,443.40 456.30,448.92 457.20,451.53 458.10,446.72 459.00,443.54 459.90,446.19 460.80,445.41 461.70,441.96 462.60,448.25 463.50,446.62 464.40,448.58 465.30,444.19 466.20,445.50 467.10,445.25 468.00,441.35 468.90,451.63 469.80,440.45 470.70,441.23 471.60,444.16 472.50,440.59 473.40,446.58 474.30,443.86 475.20,445.73 476.10,446.32 477.00,445.71 477.90,445.76 478.80,445.16 479.70,446.56 480.60,447.49 481.50,444.90 482.40,444.43 483.30,444.54 484.20,446.27 485.10,444.62 486.00,444.59 486.90,441.85 487.80,451.08 488.70,440.89 489.60,449.81 490.50,448.12 491.40,448.02 492.30,446.38 493.20,447.02 494.10,446.39 495.00,446.96 495.90,447.57 496.80,449.24 497.70,443.09 498.60,446.71 499.50,449.47 500.40,448.93 501.30,443.01 502.20,446.28 503.10,446.34 504.00,446.16 504.90,439.81 505.80,447.64 506.70,441.58 507.60,452.53 508.50,447.13 509.40,445.23 510.30,447.33 511.20,445.98 512.10,444.21 513.00,445.30 513.90,446.38 514.80,443.55 515.70,447.28 516.60,448.26 517.50,448.97 518.40,449.69 519.30,450.34 520.20,448.02 521.10,449.23 522.00,445.67 522.90,446.53 523.80,449.01 524.70,450.30 525.60,444.65 526.50,441.94 527.40,450.80 528.30,448.37 529.20,450.02 530.10,447.74 531.00,446.11 531.90,443.74 532.80,443.14 533.70,449.09 534.60,447.94 535.50,446.29 536.40,442.75 537.30,444.21 538.20,443.97 539.10,444.75 540.00,438.36 540.90,446.05 541.80,449.36 542.70,443.50 543.60,445.62 544.50,446.56 545.40,442.71 546.30,447.14 547.20,442.43 548.10,443.84 549.00,446.46 549.90,445.29 550.80,445.79 551.70,442.16 552.60,448.26 553.50,442.78 554.40,447.56 555.30,444.27 556.20,442.52 557.10,445.24 558.00,442.83 558.90,444.14 559.80,445.08 560.70,447.39 561.60,447.43 562.50,446.64 563.40,444.74 564.30,441.65 565.20,444.88 566.10,444.64 567.00,445.11 567.90,444.12 568.80,444.12 569.70,447.43 570.60,442.11 571.50,445.45 572.40,448.55 573.30,443.50 574.20,442.96 575.10,444.86 576.00,444.56 576.90,446.06 577.80,448.78 578.70,445.09 579.60,446.79 580.50,443.96 581.40,444.18 582.30,446.30 583.20,443.72 584.10,448.38 585.00,444.38 585.90,444.98 586.80,442.79 587.70,444.30 588.60,442.88 589.50,444.16 590.40,440.95 591.30,445.34 592.20,449.72 593.10,440.69 594.00,449.70 594.90,445.06 595.80,447.57 596.70,442.84 597.60,450.42 598.50,442.66 599.40,445.13 600.30,450.86 601.20,440.48 602.10,436.42 603.00,445.08 603.90,443.39 604.80,442.87 605.70,443.00 606.60,441.62 607.50,448.79 608.40,448.33 609.30,441.84 610.20,444.99 611.10,444.09 612.00,448.52 612.90,443.13 613.80,451.08 614.70,445.25 615.60,443.23 616.50,444.98 617.40,443.72 618.30,450.86 619.20,445.55 620.10,443.95 621.00,445.40 621.90,448.87 622.80,442.72 623.70,440.89 624.60,448.43 625.50,446.67 626.40,443.98 627.30,444.90 628.20,447.89 629.10,438.21 630.00,448.29 630.90,444.63 631.80,446.77 632.70,444.93 633.60,452.86 634.50,443.47 635.40,447.82 636.30,434.95 637.20,445.17 638.10,447.00 639.00,441.09 639.90,439.85 640.80,445.23 641.70,447.54 642.60,447.97 643.50,443.22 644.40,445.83 645.30,441.36 646.20,449.37 647.10,443.48 648.00,448.16 648.90,444.23 649.80,444.07 650.70,449.02 651.60,442.68 652.50,448.17 653.40,443.56 654.30,442.63 655.20,442.57 656.10,448.49 657.00,444.54 657.90,443.80 658.80,440.99 659.70,447.81 660.60,447.48 661.50,445.63 662.40,446.77 663.30,436.52 664.20,443.43 665.10,445.18 666.00,445.03 666.90,442.84 667.80,445.67 668.70,441.95 669.60,442.18 670.50,439.87 671.40,445.25 672.30,442.31 673.20,442.74 674.10,449.34 675.00,444.53 675.90,444.59 676.80,440.76 677.70,443.33 678.60,447.16 679.50,446.20 680.40,444.85 681.30,443.95 682.20,444.89 683.10,446.17 684.00,443.34 684.90,434.91 685.80,452.26 686.70,449.02 687.60,444.18 688.50,450.08 689.40,440.02 690.30,447.85 691.20,445.04 692.10,446.81 693.00,443.66 693.90,444.92 694.80,446.01 695.70,447.19 696.60,445.82 697.50,446.02 698.40,442.18 699.30,451.18 700.20,445.29 701.10,443.59 702.00,443.38 702.90,440.89 703.80,442.39 704.70,440.10 705.60,444.95 706.50,444.22 707.40,444.98 708.30,441.22 709.20,443.33 710.10,442.76 711.00,446.92 711.90,440.58 712.80,440.50 713.70,447.77 714.60,445.28 715.50,440.22 716.40,447.78 717.30,448.14 718.20,447.28 719.10,439.06 720.00,444.62 720.90,442.10 721.80,443.62 722.70,440.26 723.60,448.71 724.50,442.51 725.40,445.27 726.30,447.13 727.20,446.64 728.10,445.85 729.00,442.71 729.90,444.80 730.80,443.48 731.70,438.42 732.60,447.33 733.50,442.60 734.40,442.86 735.30,443.14 736.20,440.64 737.10,441.08 738.00,439.56 738.90,445.35 739.80,447.16 740.70,444.33 741.60,441.21 742.50,447.46 743.40,443.30 744.30,440.04 745.20,439.30 746.10,444.56 747.00,447.77 747.90,443.10 748.80,442.45 749.70,443.37 750.60,441.89 751.50,442.65 752.40,444.68 753.30,442.19 754.20,446.40 755.10,441.52 756.00,445.82 756.90,444.88 757.80,443.01 758.70,443.23 759.60,443.15 760.50,448.25 761.40,441.90 762.30,446.99 763.20,446.52 764.10,443.08 765.00,448.06 765.90,437.86 766.80,444.55 767.70,444.24 768.60,443.96 769.50,446.03 770.40,442.87 771.30,443.41 772.20,446.81 773.10,443.57 774.00,441.22 774.90,445.31 775.80,443.63 776.70,442.40 777.60,445.55 778.50,441.86 779.40,441.31 780.30,443.14 781.20,443.31 782.10,443.93 783.00,440.66 783.90,448.78 784.80,446.18 785.70,444.24 786.60,444.34 787.50,437.37 788.40,446.10 789.30,441.12 790.20,445.01 791.10,440.67 792.00,446.22 792.90,442.34 793.80,443.15 794.70,447.59 795.60,446.21 796.50,438.55 797.40,440.93 798.30,444.41 799.20,442.73 800.10,446.79 801.00,440.96 801.90,436.30 802.80,440.06 803.70,442.88 804.60,445.74 805.50,446.49 806.40,448.44 807.30,444.49 808.20,442.78 809.10,446.41 810.00,443.17 810.90,442.02 811.80,442.36 812.70,445.91 813.60,447.32 814.50,446.88 815.40,439.44 816.30,446.30 817.20,440.65 818.10,442.63 819.00,444.99 819.90,440.08 820.80,440.23 821.70,441.30 822.60,448.55 823.50,446.89 824.40,439.51 825.30,443.18 826.20,443.03 827.10,443.58 828.00,439.80 828.90,445.77 829.80,440.86 830.70,443.90 831.60,437.38 832.50,442.53 833.40,441.76 834.30,444.71 835.20,434.49" fill="none" stroke="#0070C0" stroke-width="1" stroke-linejoin="round" stroke-opacity="0.8"/>
<polyline points="108.00,472.81 108.90,469.01 109.80,473.11 110.70,466.50 111.60,467.03 112.50,470.66 113.40,474.14 114.30,474.61 115.20,468.28 116.10,470.40 117.00,469.22 117.90,464.99 118.80,472.32 119.70,469.84 120.60,472.76 121.50,470.93 122.40,469.58 123.30,469.31 124.20,470.15 125.10,471.22 126.00,469.64 126.90,475.14 127.80,470.80 128.70,468.55 129.60,470.58 130.50,472.36 131.40,471.16 132.30,469.89 133.20,469.33 134.10,469.12 135.00,468.46 135.90,469.57 136.80,470.87 137.70,469.48 138.60,473.59 139.50,471.06 140.40,469.68 141.30,470.35 142.20,474.17 143.10,467.57 144.00,470.81 144.90,474.89 145.80,472.09 146.70,468.90 147.60,470.64 148.50,469.80 149.40,476.66 150.30,468.87 151.20,469.70 152.10,469.55 153.00,467.21 153.90,462.76 154.80,469.78 155.70,471.41 156.60,469.50 157.50,471.21 158.40,471.64 159.30,471.55 160.20,467.07 161.10,472.90 162.00,471.81 162.90,471.84 163.80,470.39 164.70,470.36 165.60,469.46 166.50,471.17 167.40,471.91 168.30,469.38 169.20,471.73 170.10,469.58 171.00,471.35 171.90,470.11 172.80,471.86 173.70,473.85 174.60,470.78 175.50,469.52 176.40,469.58 177.30,471.38 178.20,469.51 179.10,472.18 180.00,470.89 180.90,471.85 181.80,469.18 182.70,468.73 183.60,469.08 184.50,470.99 185.40,469.01 186.30,471.49 187.20,466.88 188.10,469.20 189.00,470.04 189.90,467.26 190.80,468.90 191.70,467.81 192.60,470.17 193.50,469.90 194.40,471.60 195.30,468.15 196.20,467.32 197.10,469.05 198.00,470.52 198.90,470.50 199.80,470.59 200.70,473.20 201.60,469.70 202.50,469.90 203.40,468.87 204.30,469.17 205.20,472.03 206.10,470.89 207.00,464.84 207.90,472.30 208.80,466.95 209.70,469.59 210.60,471.90 211.50,470.49 212.40,471.21 213.30,471.73 214.20,470.77 215.10,468.16 216.00,470.88 216.90,469.10 217.80,466.21 218.70,469.77 219.60,471.18 220.50,470.54 221.40,470.28 222.30,474.71 223.20,470.96 224.10,471.99 225.00,471.10 225.90,474.46 226.80,469.63 227.70,472.22 228.60,473.29 229.50,469.62 230.40,471.99 231.30,467.97 232.20,470.77 233.10,471.47 234.00,468.51 234.90,467.23 235.80,470.35 236.70,469.43 237.60,470.72 238.50,470.99 239.40,472.38 240.30,474.25 241.20,471.35 242.10,466.32 243.00,471.96 243.90,471.24 244.80,470.61 245.70,474.30 246.60,470.91 247.50,469.32 248.40,471.43 249.30,466.14 250.20,472.69 251.10,470.33 252.00,473.15 252.90,471.99 253.80,471.20 254.70,470.71 255.60,467.21 256.50,470.03 257.40,470.87 258.30,472.76 259.20,471.31 260.10,472.01 261.00,471.85 261.90,469.24 262.80,470.71 263.70,469.84 264.60,468.10 265.50,467.67 266.40,471.58 267.30,472.73 268.20,472.64 269.10,468.77 270.00,472.71 270.90,473.71 271.80,468.92 272.70,471.00 273.60,473.05 274.50,470.34 275.40,472.17 276.30,469.00 277.20,469.62 278.10,471.65 279.00,469.87 279.90,470.54 280.80,470.45 281.70,468.26 282.60,473.71 283.50,469.86 284.40,469.47 285.30,469.35 286.20,470.27 287.10,468.60 288.00,471.61 288.90,469.59 289.80,471.61 290.70,468.69 291.60,468.45 292.50,468.61 293.40,470.53 294.30,467.93 295.20,471.55 296.10,469.59 297.00,471.64 297.90,469.49 298.80,471.49 299.70,467.53 300.60,467.34 301.50,471.67 302.40,468.74 303.30,472.26 304.20,468.95 305.10,470.97 306.00,468.74 306.90,467.19 307.80,472.50 308.70,469.75 309.60,471.72 310.50,470.39 311.40,467.22 312.30,470.75 313.20,471.90 314.10,472.25 315.00,472.83 315.90,470.75 316.80,469.90 317.70,470.28 318.60,467.11 319.50,471.98 320.40,471.28 321.30,470.65 322.20,468.77 323.10,471.14 324.00,469.13 324.90,472.15 325.80,469.03 326.70,468.72 327.60,469.47 328.50,467.66 329.40,467.77 330.30,469.35 331.20,465.90 332.10,473.37 333.00,470.64 333.90,470.49 334.80,468.52 335.70,470.31 336.60,469.96 337.50,470.15 338.40,467.48 339.30,469.76 340.20,466.77 341.10,469.60 342.00,468.44 342.90,468.90 343.80,469.37 344.70,471.32 345.60,471.95 346.50,469.94 347.40,468.07 348.30,472.37 349.20,467.50 350.10,468.93 351.00,469.47 351.90,468.40 352.80,472.66 353.70,470.87 354.60,472.60 355.50,469.05 356.40,472.05 357.30,469.41 358.20,469.42 359.10,470.55 360.00,470.78 360.90,471.24 361.80,469.27 362.70,467.22 363.60,469.20 364.50,465.21 365.40,469.23 366.30,468.34 367.20,471.08 368.10,465.13 369.00,473.54 369.90,468.98 370.80,466.98 371.70,470.37 372.60,470.47 373.50,470.36 374.40,473.30 375.30,468.23 376.20,470.11 377.10,469.86 378.00,468.46 378.90,470.08 379.80,471.71 380.70,468.15 381.60,470.33 382.50,471.26 383.40,471.24 384.30,465.43 385.20,470.27 386.10,468.58 387.00,472.40 387.90,469.19 388.80,473.27 389.70,466.33 390.60,470.79 391.50,467.23 392.40,474.06 393.30,473.53 394.20,467.47 395.10,470.73 396.00,469.38 396.90,466.71 397.80,467.68 398.70,469.69 399.60,470.57 400.50,468.78 401.40,469.95 402.30,470.21 403.20,470.13 404.10,467.07 405.00,469.61 405.90,470.27 406.80,466.85 407.70,471.95 408.60,471.81 409.50,469.61 410.40,472.85 411.30,467.97 412.20,467.72 413.10,467.86 414.00,467.46 414.90,474.06 415.80,469.37 416.70,469.19 417.60,469.89 418.50,471.95 419.40,469.54 420.30,468.62 421.20,469.70 422.10,471.36 423.00,468.86 423.90,471.78 424.80,469.73 425.70,468.91 426.60,470.03 427.50,472.52 428.40,468.78 429.30,471.50 430.20,470.12 431.10,469.43 432.00,469.26 432.90,471.27 433.80,470.45 434.70,470.07 435.60,470.24 436.50,467.67 437.40,468.02 438.30,467.42 439.20,468.52 440.10,468.60 441.00,468.30 441.90,469.97 442.80,467.48 443.70,468.65 444.60,470.51 445.50,471.88 446.40,469.13 447.30,471.05 448.20,471.33 449.10,467.31 450.00,469.42 450.90,467.24 451.80,468.34 452.70,469.67 453.60,466.85 454.50,470.18 455.40,468.73 456.30,468.55 457.20,469.85 458.10,467.56 459.00,466.09 459.90,468.97 460.80,467.71 461.70,468.58 462.60,467.06 463.50,467.32 464.40,467.16 465.30,466.73 466.20,467.50 467.10,467.54 468.00,468.89 468.90,474.14 469.80,467.80 470.70,466.17 471.60,469.78 472.50,466.14 473.40,467.03 474.30,467.91 475.20,468.88 476.10,468.95 477.00,469.17 477.90,468.56 478.80,470.60 479.70,470.14 480.60,467.82 481.50,468.36 482.40,466.45 483.30,469.81 484.20,468.35 485.10,471.87 486.00,467.55 486.90,471.20 487.80,466.49 488.70,465.67 489.60,466.92 490.50,469.21 491.40,470.33 492.30,467.17 493.20,470.24 494.10,467.73 495.00,467.75 495.90,468.09 496.80,471.34 497.70,468.88 498.60,469.08 499.50,466.05 500.40,468.83 501.30,469.01 502.20,471.25 503.10,467.08 504.00,467.35 504.90,466.99 505.80,467.42 506.70,469.62 507.60,467.16 508.50,470.61 509.40,468.53 510.30,466.95 511.20,467.37 512.10,466.10 513.00,465.36 513.90,471.00 514.80,470.20 515.70,466.78 516.60,467.66 517.50,471.07 518.40,467.18 519.30,468.75 520.20,469.22 521.10,468.03 522.00,468.04 522.90,467.79 523.80,468.54 524.70,465.73 525.60,468.40 526.50,468.75 527.40,465.17 528.30,469.05 529.20,466.74 530.10,463.00 531.00,465.05 531.90,468.42 532.80,469.19 533.70,467.53 534.60,465.82 535.50,467.96 536.40,470.28 537.30,468.12 538.20,464.43 539.10,469.35 540.00,467.64 540.90,467.70 541.80,468.29 542.70,469.56 543.60,467.84 544.50,465.66 545.40,467.82 546.30,468.36 547.20,470.09 548.10,465.99 549.00,467.88 549.90,466.64 550.80,468.54 551.70,467.18 552.60,462.95 553.50,469.65 554.40,466.96 555.30,466.23 556.20,464.71 557.10,465.64 558.00,465.50 558.90,467.78 559.80,468.25 560.70,467.88 561.60,468.59 562.50,466.46 563.40,468.99 564.30,467.80 565.20,468.71 566.10,468.98 567.00,467.07 567.90,470.75 568.80,469.62 569.70,466.98 570.60,470.95 571.50,470.69 572.40,465.03 573.30,462.27 574.20,466.73 575.10,469.00 576.00,470.23 576.90,469.53 577.80,467.80 578.70,470.29 579.60,469.64 580.50,466.71 581.40,468.28 582.30,470.51 583.20,466.18 584.10,466.78 585.00,466.43 585.90,470.53 586.80,468.92 587.70,469.64 588.60,466.85 589.50,467.74 590.40,469.79 591.30,467.31 592.20,469.73 593.10,467.73 594.00,467.71 594.90,468.66 595.80,469.16 596.70,470.64 597.60,467.15 598.50,471.04 599.40,466.35 600.30,466.28 601.20,463.99 602.10,469.09 603.00,470.14 603.90,465.69 604.80,467.13 605.70,467.24 606.60,465.08 607.50,467.76 608.40,468.14 609.30,466.81 610.20,465.94 611.10,467.84 612.00,468.60 612.90,465.26 613.80,467.43 614.70,468.52 615.60,462.94 616.50,468.11 617.40,470.42 618.30,465.44 619.20,469.93 620.10,467.06 621.00,468.64 621.90,467.22 622.80,464.65 623.70,463.16 624.60,473.55 625.50,464.10 626.40,466.92 627.30,469.86 628.20,467.99 629.10,467.77 630.00,464.13 630.90,466.44 631.80,465.25 632.70,464.48 633.60,468.06 634.50,469.40 635.40,466.17 636.30,466.36 637.20,468.15 638.10,468.90 639.00,465.27 639.90,469.56 640.80,469.48 641.70,467.43 642.60,465.57 643.50,468.35 644.40,468.55 645.30,470.32 646.20,466.40 647.10,470.03 648.00,466.80 648.90,468.26 649.80,467.19 650.70,467.51 651.60,469.81 652.50,466.23 653.40,468.74 654.30,466.91 655.20,467.29 656.10,466.16 657.00,467.68 657.90,464.02 658.80,466.89 659.70,469.02 660.60,468.73 661.50,464.62 662.40,465.45 663.30,466.63 664.20,470.44 665.10,466.60 666.00,467.29 666.90,466.89 667.80,467.80 668.70,465.77 669.60,467.72 670.50,468.08 671.40,469.02 672.30,465.81 673.20,468.78 674.10,470.48 675.00,468.59 675.90,468.41 676.80,461.96 677.70,470.09 678.60,470.45 679.50,469.29 680.40,468.09 681.30,469.01 682.20,472.26 683.10,466.04 684.00,466.55 684.90,469.07 685.80,467.75 686.70,463.59 687.60,467.59 688.50,467.79 689.40,465.64 690.30,467.83 691.20,467.61 692.10,464.17 693.00,468.05 693.90,470.79 694.80,470.11 695.70,465.27 696.60,464.37 697.50,467.26 698.40,467.63 699.30,464.90 700.20,465.90 701.10,469.43 702.00,467.55 702.90,468.88 703.80,467.08 704.70,468.86 705.60,466.23 706.50,466.25 707.40,465.51 708.30,463.88 709.20,466.44 710.10,464.82 711.00,466.30 711.90,467.33 712.80,467.38 713.70,467.74 714.60,466.41 715.50,466.97 716.40,469.01 717.30,466.80 718.20,467.10 719.10,462.92 720.00,465.18 720.90,468.89 721.80,465.57 722.70,465.21 723.60,468.66 724.50,464.95 725.40,468.69 726.30,466.80 727.20,465.94 728.10,463.54 729.00,469.36 729.90,463.22 730.80,464.90 731.70,468.31 732.60,464.87 733.50,467.83 734.40,466.90 735.30,466.50 736.20,465.16 737.10,465.83 738.00,467.41 738.90,465.28 739.80,468.00 740.70,467.34 741.60,467.84 742.50,467.31 743.40,467.87 744.30,467.55 745.20,468.30 746.10,467.55 747.00,467.44 747.90,465.34 748.80,463.97 749.70,466.97 750.60,468.50 751.50,465.21 752.40,463.79 753.30,465.93 754.20,467.47 755.10,468.30 756.00,466.31 756.90,464.86 757.80,466.74 758.70,467.99 759.60,466.74 760.50,468.54 761.40,465.97 762.30,468.29 763.20,469.58 764.10,465.13 765.00,465.34 765.90,468.06 766.80,474.85 767.70,468.09 768.60,466.72 769.50,469.00 770.40,466.59 771.30,464.04 772.20,465.16 773.10,469.05 774.00,463.69 774.90,463.29 775.80,468.74 776.70,467.00 777.60,468.79 778.50,464.95 779.40,465.50 780.30,466.15 781.20,463.89 782.10,466.24 783.00,466.26 783.90,468.94 784.80,466.47 785.70,465.91 786.60,467.54 787.50,468.57 788.40,468.45 789.30,467.16 790.20,466.04 791.10,465.88 792.00,464.46 792.90,466.79 793.80,466.63 794.70,469.71 795.60,467.03 796.50,467.92 797.40,468.87 798.30,463.48 799.20,465.55 800.10,466.24 801.00,466.84 801.90,464.39 802.80,468.75 803.70,468.76 804.60,467.86 805.50,468.36 806.40,463.74 807.30,469.53 808.20,465.00 809.10,461.69 810.00,466.89 810.90,467.66 811.80,464.91 812.70,462.27 813.60,463.94 814.50,466.16 815.40,460.65 816.30,468.30 817.20,468.25 818.10,466.25 819.00,468.34 819.90,466.26 820.80,464.61 821.70,467.60 822.60,467.48 823.50,464.95 824.40,464.13 825.30,464.85 826.20,468.49 827.10,465.99 828.00,471.27 828.90,465.38 829.80,467.52 830.70,467.03 831.60,466.10 832.50,467.90 833.40,465.02 834.30,466.38 835.20,464.48" fill="none" stroke="#002060" stroke-width="1" stroke-linejoin="round" stroke-opacity="0.8"/>
<polyline points="108.00,496.75 108.90,497.07 109.80,495.50 110.70,495.01 111.60,492.08 112.50,493.63 113.40,492.45 114.30,495.14 115.20,494.14 116.10,494.32 117.00,495.73 117.90,493.74 118.80,496.84 119.70,498.01 120.60,492.27 121.50,497.39 122.40,493.65 123.30,492.77 124.20,493.70 125.10,491.53 126.00,495.18 126.90,497.15 127.80,490.97 128.70,495.38 129.60,495.74 130.50,495.91 131.40,495.87 132.30,495.40 133.20,493.36 134.10,496.44 135.00,495.17 135.90,496.22 136.80,495.12 137.70,493.82 138.60,494.31 139.50,495.79 140.40,496.77 141.30,490.08 142.20,491.52 143.10,490.71 144.00,493.21 144.90,492.89 145.80,494.86 146.70,493.72 147.60,497.43 148.50,493.01 149.40,492.80 150.30,492.54 151.20,493.32 152.10,494.92 153.00,492.68 153.90,491.15 154.80,489.63 155.70,494.98 156.60,492.45 157.50,491.20 158.40,493.79 159.30,495.39 160.20,499.03 161.10,498.08 162.00,492.38 162.90,493.15 163.80,489.97 164.70,489.95 165.60,490.19 166.50,496.45 167.40,494.03 168.30,489.27 169.20,492.00 170.10,492.70 171.00,492.43 171.90,499.40 172.80,487.64 173.70,493.35 174.60,494.94 175.50,495.47 176.40,489.45 177.30,494.80 178.20,491.53 179.10,493.07 180.00,490.78 180.90,496.13 181.80,501.43 182.70,496.67 183.60,493.67 184.50,490.41 185.40,496.36 186.30,497.10 187.20,491.89 188.10,496.52 189.00,490.32 189.90,491.49 190.80,494.83 191.70,490.31 192.60,496.19 193.50,497.63 194.40,494.54 195.30,495.51 196.20,498.03 197.10,495.58 198.00,497.37 198.90,497.66 199.80,492.04 200.70,499.39 201.60,498.19 202.50,494.93 203.40,496.98 204.30,495.52 205.20,495.22 206.10,490.97 207.00,493.04 207.90,493.59 208.80,497.93 209.70,496.11 210.60,495.70 211.50,494.15 212.40,497.33 213.30,488.92 214.20,492.41 215.10,496.63 216.00,493.54 216.90,495.93 217.80,498.07 218.70,496.29 219.60,491.14 220.50,493.96 221.40,491.87 222.30,495.55 223.20,496.83 224.10,493.94 225.00,495.64 225.90,494.03 226.80,498.83 227.70,494.78 228.60,495.21 229.50,496.43 230.40,498.09 231.30,496.88 232.20,494.38 233.10,494.67 234.00,496.25 234.90,496.22 235.80,493.45 236.70,493.19 237.60,493.95 238.50,495.54 239.40,493.48 240.30,492.05 241.20,493.53 242.10,493.11 243.00,495.87 243.90,492.83 244.80,493.16 245.70,500.98 246.60,496.04 247.50,491.30 248.40,498.66 249.30,493.24 250.20,491.70 251.10,496.74 252.00,489.62 252.90,494.28 253.80,496.45 254.70,497.09 255.60,492.69 256.50,492.78 257.40,494.22 258.30,498.69 259.20,488.31 260.10,497.34 261.00,495.54 261.90,498.94 262.80,491.18 263.70,498.42 264.60,492.55 265.50,495.19 266.40,493.62 267.30,488.96 268.20,494.38 269.10,495.40 270.00,496.46 270.90,493.09 271.80,491.88 272.70,496.11 273.60,493.71 274.50,496.88 275.40,497.73 276.30,493.99 277.20,494.13 278.10,492.89 279.00,489.94 279.90,494.50 280.80,496.16 281.70,497.56 282.60,494.47 283.50,499.47 284.40,493.34 285.30,494.47 286.20,493.30 287.10,493.53 288.00,493.74 288.90,492.97 289.80,493.58 290.70,495.16 291.60,494.78 292.50,492.17 293.40,495.94 294.30,492.68 295.20,495.56 296.10,494.69 297.00,490.19 297.90,491.70 298.80,497.83 299.70,492.85 300.60,493.05 301.50,493.39 302.40,494.90 303.30,496.54 304.20,493.73 305.10,498.36 306.00,493.25 306.90,493.48 307.80,494.08 308.70,495.14 309.60,499.62 310.50,502.69 311.40,493.38 312.30,494.16 313.20,495.97 314.10,494.27 315.00,496.49 315.90,492.13 316.80,496.47 317.70,489.59 318.60,495.73 319.50,496.06 320.40,500.18 321.30,492.47 322.20,496.12 323.10,496.05 324.00,492.40 324.90,495.12 325.80,492.37 326.70,490.50 327.60,489.30 328.50,493.79 329.40,490.88 330.30,487.32 331.20,495.53 332.10,488.56 333.00,496.94 333.90,495.32 334.80,491.70 335.70,490.24 336.60,492.41 337.50,491.40 338.40,493.60 339.30,493.63 340.20,500.11 341.10,489.67 342.00,493.10 342.90,495.72 343.80,496.79 344.70,497.51 345.60,492.18 346.50,496.27 347.40,487.81 348.30,493.90 349.20,496.37 350.10,496.15 351.00,489.45 351.90,491.75 352.80,488.58 353.70,492.52 354.60,491.20 355.50,495.00 356.40,492.62 357.30,495.74 358.20,493.96 359.10,493.17 360.00,500.56 360.90,498.46 361.80,489.66 362.70,497.52 363.60,496.09 364.50,497.39 365.40,495.36 366.30,490.16 367.20,493.15 368.10,485.70 369.00,489.34 369.90,491.82 370.80,498.78 371.70,494.42 372.60,495.04 373.50,496.45 374.40,491.79 375.30,497.80 376.20,494.77 377.10,492.03 378.00,492.92 378.90,493.68 379.80,495.72 380.70,497.53 381.60,493.51 382.50,493.71 383.40,498.39 384.30,505.54 385.20,500.60 386.10,494.88 387.00,492.92 387.90,496.61 388.80,495.26 389.70,491.83 390.60,498.27 391.50,501.69 392.40,491.72 393.30,491.94 394.20,492.49 395.10,490.88 396.00,496.05 396.90,489.37 397.80,496.51 398.70,495.06 399.60,495.88 400.50,490.68 401.40,494.47 402.30,494.76 403.20,496.18 404.10,494.99 405.00,492.76 405.90,496.77 406.80,497.43 407.70,497.25 408.60,492.36 409.50,495.88 410.40,490.82 411.30,493.47 412.20,496.76 413.10,489.38 414.00,501.63 414.90,498.40 415.80,491.31 416.70,492.18 417.60,493.79 418.50,493.57 419.40,490.77 420.30,493.62 421.20,490.42 422.10,492.58 423.00,499.44 423.90,493.82 424.80,492.62 425.70,498.90 426.60,494.75 427.50,495.47 428.40,492.66 429.30,497.26 430.20,492.80 431.10,496.04 432.00,496.17 432.90,499.57 433.80,496.86 434.70,493.90 435.60,490.35 436.50,492.87 437.40,491.55 438.30,499.44 439.20,492.77 440.10,488.55 441.00,494.83 441.90,495.84 442.80,491.77 443.70,495.75 444.60,490.81 445.50,494.75 446.40,493.32 447.30,495.02 448.20,495.41 449.10,491.46 450.00,496.59 450.90,492.68 451.80,494.16 452.70,498.19 453.60,491.70 454.50,494.04 455.40,499.62 456.30,498.39 457.20,491.72 458.10,491.75 459.00,495.82 459.90,491.56 460.80,494.09 461.70,488.89 462.60,495.57 463.50,490.03 464.40,494.27 465.30,495.47 466.20,492.23 467.10,490.09 468.00,490.79 468.90,489.26 469.80,499.23 470.70,486.81 471.60,490.22 472.50,494.55 473.40,493.89 474.30,496.36 475.20,498.43 476.10,495.01 477.00,493.56 477.90,492.14 478.80,493.07 479.70,495.98 480.60,495.18 481.50,495.21 482.40,487.85 483.30,490.94 484.20,491.85 485.10,492.42 486.00,491.19 486.90,495.32 487.80,496.21 488.70,498.01 489.60,492.44 490.50,493.44 491.40,493.90 492.30,493.65 493.20,491.33 494.10,496.38 495.00,488.86 495.90,492.23 496.80,489.13 497.70,495.77 498.60,488.58 499.50,489.43 500.40,493.60 501.30,491.15 502.20,494.22 503.10,492.70 504.00,498.28 504.90,490.71 505.80,491.40 506.70,494.96 507.60,494.03 508.50,494.66 509.40,492.90 510.30,497.04 511.20,494.84 512.10,498.39 513.00,488.64 513.90,494.49 514.80,492.75 515.70,495.02 516.60,490.13 517.50,495.91 518.40,489.44 519.30,495.88 520.20,494.85 521.10,489.25 522.00,494.48 522.90,488.91 523.80,494.87 524.70,489.70 525.60,493.35 526.50,492.87 527.40,489.63 528.30,489.08 529.20,494.69 530.10,492.35 531.00,496.44 531.90,493.34 532.80,502.79 533.70,493.90 534.60,497.69 535.50,494.31 536.40,493.68 537.30,494.80 538.20,491.13 539.10,491.43 540.00,498.22 540.90,492.77 541.80,489.27 542.70,495.33 543.60,490.41 544.50,493.75 545.40,497.61 546.30,498.19 547.20,500.12 548.10,497.75 549.00,495.87 549.90,495.47 550.80,494.56 551.70,493.35 552.60,501.17 553.50,493.20 554.40,497.44 555.30,493.16 556.20,496.44 557.10,486.65 558.00,493.81 558.90,491.95 559.80,499.14 560.70,498.98 561.60,491.20 562.50,493.21 563.40,496.88 564.30,494.19 565.20,493.68 566.10,495.78 567.00,490.32 567.90,497.30 568.80,494.53 569.70,486.57 570.60,491.23 571.50,493.26 572.40,498.88 573.30,493.50 574.20,489.86 575.10,496.72 576.00,494.42 576.90,493.45 577.80,495.97 578.70,492.54 579.60,493.20 580.50,496.14 581.40,494.53 582.30,495.80 583.20,492.60 584.10,497.50 585.00,490.08 585.90,490.19 586.80,495.18 587.70,492.52 588.60,494.35 589.50,493.62 590.40,493.05 591.30,490.93 592.20,494.73 593.10,498.40 594.00,490.55 594.90,500.51 595.80,498.51 596.70,491.44 597.60,495.38 598.50,490.84 599.40,493.15 600.30,490.84 601.20,492.16 602.10,489.01 603.00,493.06 603.90,490.93 604.80,491.25 605.70,488.72 606.60,493.51 607.50,497.95 608.40,492.53 609.30,493.02 610.20,490.68 611.10,492.27 612.00,491.35 612.90,489.66 613.80,491.25 614.70,492.14 615.60,494.65 616.50,492.27 617.40,494.32 618.30,497.83 619.20,496.84 620.10,491.94 621.00,487.01 621.90,492.76 622.80,493.74 623.70,497.06 624.60,493.93 625.50,502.30 626.40,492.50 627.30,494.84 628.20,491.08 629.10,490.86 630.00,492.53 630.90,493.72 631.80,494.87 632.70,485.72 633.60,495.90 634.50,498.71 635.40,498.26 636.30,495.87 637.20,492.88 638.10,495.06 639.00,497.01 639.90,490.86 640.80,494.76 641.70,494.37 642.60,492.82 643.50,497.42 644.40,491.48 645.30,490.80 646.20,493.02 647.10,491.54 648.00,496.31 648.90,489.15 649.80,489.98 650.70,493.84 651.60,495.51 652.50,489.57 653.40,496.17 654.30,488.50 655.20,495.51 656.10,490.94 657.00,491.92 657.90,497.32 658.80,492.88 659.70,491.49 660.60,493.59 661.50,498.56 662.40,493.33 663.30,490.94 664.20,493.48 665.10,489.90 666.00,491.34 666.90,491.28 667.80,495.39 668.70,491.79 669.60,494.10 670.50,495.68 671.40,496.69 672.30,488.91 673.20,492.80 674.10,490.18 675.00,494.78 675.90,493.89 676.80,492.94 677.70,491.04 678.60,489.45 679.50,486.80 680.40,495.77 681.30,492.40 682.20,492.95 683.10,493.68 684.00,494.74 684.90,497.34 685.80,492.43 686.70,494.40 687.60,488.96 688.50,491.91 689.40,491.15 690.30,491.34 691.20,495.58 692.10,493.08 693.00,492.97 693.90,493.00 694.80,492.28 695.70,492.28 696.60,491.27 697.50,491.52 698.40,491.77 699.30,492.35 700.20,488.34 701.10,492.94 702.00,492.68 702.90,493.75 703.80,489.87 704.70,490.54 705.60,494.83 706.50,491.04 707.40,493.87 708.30,491.12 709.20,489.89 710.10,489.28 711.00,491.28 711.90,491.60 712.80,489.81 713.70,496.06 714.60,492.79 715.50,489.55 716.40,498.15 717.30,494.95 718.20,490.02 719.10,490.26 720.00,492.24 720.90,494.39 721.80,489.36 722.70,495.38 723.60,491.76 724.50,494.63 725.40,492.33 726.30,493.80 727.20,494.16 728.10,495.69 729.00,490.97 729.90,497.11 730.80,489.64 731.70,493.75 732.60,495.14 733.50,492.79 734.40,495.89 735.30,486.87 736.20,492.53 737.10,496.28 738.00,492.72 738.90,490.01 739.80,492.98 740.70,493.05 741.60,490.08 742.50,495.71 743.40,490.75 744.30,488.97 745.20,493.05 746.10,490.32 747.00,491.97 747.90,493.50 748.80,491.20 749.70,494.17 750.60,493.26 751.50,495.43 752.40,490.21 753.30,492.71 754.20,493.15 755.10,493.22 756.00,487.61 756.90,490.04 757.80,493.30 758.70,493.88 759.60,492.60 760.50,492.96 761.40,495.84 762.30,491.34 763.20,489.86 764.10,497.97 765.00,494.79 765.90,492.00 766.80,490.02 767.70,498.35 768.60,491.59 769.50,489.66 770.40,497.13 771.30,487.29 772.20,492.12 773.10,493.94 774.00,491.80 774.90,491.25 775.80,493.48 776.70,489.61 777.60,491.95 778.50,494.14 779.40,489.87 780.30,495.69 781.20,491.94 782.10,492.25 783.00,491.31 783.90,493.77 784.80,491.23 785.70,493.31 786.60,497.01 787.50,496.98 788.40,487.33 789.30,496.01 790.20,490.99 791.10,493.56 792.00,492.84 792.90,493.39 793.80,490.80 794.70,493.74 795.60,494.74 796.50,491.00 797.40,492.31 798.30,494.25 799.20,494.86 800.10,493.29 801.00,492.97 801.90,493.46 802.80,491.53 803.70,493.10 804.60,491.67 805.50,491.50 806.40,486.80 807.30,488.09 808.20,493.16 809.10,494.03 810.00,493.33 810.90,492.64 811.80,491.27 812.70,494.36 813.60,490.90 814.50,492.31 815.40,497.30 816.30,488.22 817.20,490.83 818.10,491.46 819.00,485.43 819.90,488.15 820.80,496.08 821.70,494.12 822.60,491.77 823.50,496.03 824.40,488.81 825.30,498.99 826.20,492.01 827.10,490.08 828.00,496.12 828.90,493.87 829.80,492.62 830.70,491.85 831.60,487.56 832.50,487.26 833.40,492.13 834.30,494.37 835.20,490.26" fill="none" stroke="#7030A0" stroke-width="1" stroke-linejoin="round" stroke-opacity="0.8"/>
<path d="M108,4 H836.3 V507.8 H108 Z" fill="none" stroke="#000" stroke-width="2"/>
<path d="M199,502 V507.8 M290,502 V507.8 M381,502 V507.8 M472,502 V507.8 M563,502 V507.8 M654,502 V507.8 M745,502 V507.8 " stroke="#000" stroke-width="1.8"/>
<text x="108.2" y="548.2" font-size="28" text-anchor="middle">0.2</text>
<text x="563.4" y="548.2" font-size="28" text-anchor="middle">0.7</text>
<text x="464.3" y="595.3" font-size="41" text-anchor="middle">time [h]</text>
<line x1="863" y1="39.7" x2="894.2" y2="39.7" stroke="#FF7C80" stroke-width="5" stroke-linecap="round"/>
<text x="898.3" y="51.6" font-size="32"><tspan font-style="italic">x</tspan> = 0.9</text>
<line x1="863" y1="107.1" x2="894.2" y2="107.1" stroke="#ED7D31" stroke-width="5" stroke-linecap="round"/>
<text x="898.3" y="118.4" font-size="32"><tspan font-style="italic">x</tspan> = 0.8</text>
<line x1="863" y1="174.5" x2="894.2" y2="174.5" stroke="#FFC000" stroke-width="5" stroke-linecap="round"/>
<text x="898.3" y="185.9" font-size="32"><tspan font-style="italic">x</tspan> = 0.7</text>
<line x1="863" y1="244.3" x2="894.2" y2="244.3" stroke="#00B050" stroke-width="5" stroke-linecap="round"/>
<text x="898.3" y="256" font-size="32"><tspan font-style="italic">x</tspan> = 0.6</text>
<line x1="863" y1="313.1" x2="894.2" y2="313.1" stroke="#FF0000" stroke-width="5" stroke-linecap="round"/>
<text x="898.3" y="324.5" font-size="32"><tspan font-style="italic">x</tspan> = 0.5</text>
<line x1="863" y1="373.3" x2="894.2" y2="373.3" stroke="#00B0F0" stroke-width="5" stroke-linecap="round"/>
<text x="898.3" y="385" font-size="32"><tspan font-style="italic">x</tspan> = 0.4</text>
<line x1="863" y1="413.9" x2="894.2" y2="413.9" stroke="#0070C0" stroke-width="5" stroke-linecap="round"/>
<text x="898.3" y="425.1" font-size="32"><tspan font-style="italic">x</tspan> = 0.3</text>
<line x1="863" y1="453.3" x2="894.2" y2="453.3" stroke="#002060" stroke-width="5" stroke-linecap="round"/>
<text x="898.3" y="464.5" font-size="32"><tspan font-style="italic">x</tspan> = 0.2</text>
<line x1="863" y1="501.3" x2="894.2" y2="501.3" stroke="#7030A0" stroke-width="5" stroke-linecap="round"/>
<text x="898.3" y="511.9" font-size="32"><tspan font-style="italic">x</tspan> = 0.1</text>
<text class="sans" x="0" y="0" font-size="44" transform="translate(3.3,643.7) scale(0.9,1)">B</text>
<text x="0" y="0" font-size="41" transform="translate(47,1010.9) rotate(-90)">Frequency (h<tspan font-size="27" dy="-11.8">-1</tspan><tspan dy="11.8">)</tspan></text>
<path d="M133.0,654.0 H837.5 V1055.5 H133.0 Z" fill="none" stroke="#000" stroke-width="2"/>
<path d="M133.0,1039.44 H139.5 M133.0,1023.38 H139.5 M133.0,1007.32 H139.5 M133.0,991.26 H139.5 M133.0,975.20 H139.5 M133.0,959.14 H139.5 M133.0,943.08 H139.5 M133.0,927.02 H139.5 M133.0,910.96 H139.5 M133.0,894.90 H139.5 M133.0,878.84 H139.5 M133.0,862.78 H139.5 M133.0,846.72 H139.5 M133.0,830.66 H139.5 M133.0,814.60 H139.5 M133.0,798.54 H139.5 M133.0,782.48 H139.5 M133.0,766.42 H139.5 M133.0,750.36 H139.5 M133.0,734.30 H139.5 M133.0,718.24 H139.5 M133.0,702.18 H139.5 M133.0,686.12 H139.5 M133.0,670.06 H139.5 M203.45,1055.5 V1049.0 M273.90,1055.5 V1049.0 M344.35,1055.5 V1049.0 M414.80,1055.5 V1049.0 M485.25,1055.5 V1049.0 M555.70,1055.5 V1049.0 M626.15,1055.5 V1049.0 M696.60,1055.5 V1049.0 M767.05,1055.5 V1049.0 " stroke="#000" stroke-width="1.8"/>
<path d="M196.05,1047.90 L210.85,1062.70 M196.05,1062.70 L210.85,1047.90 M203.09,1047.88 L217.90,1062.68 M203.09,1062.68 L217.90,1047.88 M210.14,1047.86 L224.94,1062.66 M210.14,1062.66 L224.94,1047.86 M217.19,1047.84 L231.99,1062.64 M217.19,1062.64 L231.99,1047.84 M224.23,1047.81 L239.03,1062.61 M224.23,1062.61 L239.03,1047.81 M231.28,1047.78 L246.08,1062.58 M231.28,1062.58 L246.08,1047.78 M238.32,1047.75 L253.12,1062.55 M238.32,1062.55 L253.12,1047.75 M245.37,1047.72 L260.17,1062.52 M245.37,1062.52 L260.17,1047.72 M252.41,1047.69 L267.21,1062.49 M252.41,1062.49 L267.21,1047.69 M259.46,1047.65 L274.25,1062.45 M259.46,1062.45 L274.25,1047.65 M266.50,1047.60 L281.30,1062.40 M266.50,1062.40 L281.30,1047.60 M273.55,1047.56 L288.34,1062.36 M273.55,1062.36 L288.34,1047.56 M280.59,1047.51 L295.39,1062.31 M280.59,1062.31 L295.39,1047.51 M287.63,1047.45 L302.43,1062.25 M287.63,1062.25 L302.43,1047.45 M294.68,1047.39 L309.48,1062.19 M294.68,1062.19 L309.48,1047.39 M301.73,1047.32 L316.52,1062.12 M301.73,1062.12 L316.52,1047.32 M308.77,1047.25 L323.57,1062.05 M308.77,1062.05 L323.57,1047.25 M315.82,1047.17 L330.62,1061.97 M315.82,1061.97 L330.62,1047.17 M322.86,1047.08 L337.66,1061.88 M322.86,1061.88 L337.66,1047.08 M329.90,1046.98 L344.70,1061.78 M329.90,1061.78 L344.70,1046.98 M336.95,1046.88 L351.75,1061.68 M336.95,1061.68 L351.75,1046.88 M344.00,1046.76 L358.79,1061.56 M344.00,1061.56 L358.79,1046.76 M351.04,1046.64 L365.84,1061.44 M351.04,1061.44 L365.84,1046.64 M358.09,1046.50 L372.88,1061.30 M358.09,1061.30 L372.88,1046.50 M365.13,1046.35 L379.93,1061.15 M365.13,1061.15 L379.93,1046.35 M372.18,1046.18 L386.97,1060.98 M372.18,1060.98 L386.97,1046.18 M379.22,1046.00 L394.02,1060.80 M379.22,1060.80 L394.02,1046.00 M386.27,1045.81 L401.06,1060.61 M386.27,1060.61 L401.06,1045.81 M393.31,1045.59 L408.11,1060.39 M393.31,1060.39 L408.11,1045.59 M400.36,1045.35 L415.15,1060.15 M400.36,1060.15 L415.15,1045.35 M407.40,1045.10 L422.20,1059.90 M407.40,1059.90 L422.20,1045.10 M414.44,1044.81 L429.24,1059.61 M414.44,1059.61 L429.24,1044.81 M421.49,1044.50 L436.29,1059.30 M421.49,1059.30 L436.29,1044.50 M428.54,1044.17 L443.33,1058.97 M428.54,1058.97 L443.33,1044.17 M435.58,1043.79 L450.38,1058.59 M435.58,1058.59 L450.38,1043.79 M442.63,1043.39 L457.43,1058.19 M442.63,1058.19 L457.43,1043.39 M449.67,1042.95 L464.47,1057.75 M449.67,1057.75 L464.47,1042.95 M456.72,1042.46 L471.51,1057.26 M456.72,1057.26 L471.51,1042.46 M463.76,1041.93 L478.56,1056.73 M463.76,1056.73 L478.56,1041.93 M470.81,1041.35 L485.60,1056.15 M470.81,1056.15 L485.60,1041.35 M477.85,1040.71 L492.65,1055.51 M477.85,1055.51 L492.65,1040.71 M484.90,1040.02 L499.69,1054.82 M484.90,1054.82 L499.69,1040.02 M491.94,1039.26 L506.74,1054.06 M491.94,1054.06 L506.74,1039.26 M498.99,1038.43 L513.78,1053.23 M498.99,1053.23 L513.78,1038.43 M506.03,1037.52 L520.83,1052.32 M506.03,1052.32 L520.83,1037.52 M513.08,1036.52 L527.88,1051.32 M513.08,1051.32 L527.88,1036.52 M520.12,1035.43 L534.92,1050.23 M520.12,1050.23 L534.92,1035.43 M527.16,1034.24 L541.96,1049.04 M527.16,1049.04 L541.96,1034.24 M534.21,1032.94 L549.01,1047.74 M534.21,1047.74 L549.01,1032.94 M541.25,1031.51 L556.05,1046.31 M541.25,1046.31 L556.05,1031.51 M548.30,1029.95 L563.10,1044.75 M548.30,1044.75 L563.10,1029.95 M555.35,1028.05 L570.14,1042.85 M555.35,1042.85 L570.14,1028.05 M562.39,1025.95 L577.19,1040.75 M562.39,1040.75 L577.19,1025.95 M569.44,1023.63 L584.24,1038.43 M569.44,1038.43 L584.24,1023.63 M576.48,1021.07 L591.28,1035.87 M576.48,1035.87 L591.28,1021.07 M583.52,1018.24 L598.32,1033.04 M583.52,1033.04 L598.32,1018.24 M590.57,1015.11 L605.37,1029.91 M590.57,1029.91 L605.37,1015.11 M597.62,1011.65 L612.42,1026.45 M597.62,1026.45 L612.42,1011.65 M604.66,1007.83 L619.46,1022.63 M604.66,1022.63 L619.46,1007.83 M611.71,1003.62 L626.50,1018.42 M611.71,1018.42 L626.50,1003.62 M618.75,998.96 L633.55,1013.76 M618.75,1013.76 L633.55,998.96 M625.79,993.93 L640.59,1008.73 M625.79,1008.73 L640.59,993.93 M632.84,988.38 L647.64,1003.18 M632.84,1003.18 L647.64,988.38 M639.88,982.27 L654.68,997.07 M639.88,997.07 L654.68,982.27 M646.93,975.53 L661.73,990.33 M646.93,990.33 L661.73,975.53 M653.98,968.10 L668.77,982.90 M653.98,982.90 L668.77,968.10 M661.02,959.90 L675.82,974.70 M661.02,974.70 L675.82,959.90 M668.07,950.88 L682.87,965.68 M668.07,965.68 L682.87,950.88 M675.11,940.92 L689.91,955.72 M675.11,955.72 L689.91,940.92 M682.16,929.95 L696.96,944.75 M682.16,944.75 L696.96,929.95 M689.20,917.85 L704.00,932.65 M689.20,932.65 L704.00,917.85 M696.25,904.04 L711.04,918.84 M696.25,918.84 L711.04,904.04 M703.29,889.11 L718.09,903.91 M703.29,903.91 L718.09,889.11 M710.34,872.24 L725.13,887.04 M710.34,887.04 L725.13,872.24 M717.38,853.61 L732.18,868.41 M717.38,868.41 L732.18,853.61 M724.42,833.38 L739.22,848.18 M724.42,848.18 L739.22,833.38 M731.47,810.25 L746.27,825.05 M731.47,825.05 L746.27,810.25 M738.51,784.56 L753.31,799.36 M738.51,799.36 L753.31,784.56 M745.56,755.65 L760.36,770.45 M745.56,770.45 L760.36,755.65 M752.61,723.21 L767.40,738.01 M752.61,738.01 L767.40,723.21 M759.65,685.95 L774.45,700.75 M759.65,700.75 L774.45,685.95" stroke="#0000FF" stroke-width="2" fill="none"/>
<circle cx="203.45" cy="1055.50" r="10.0" fill="#FF0000" stroke="#000" stroke-width="1.6"/><circle cx="273.90" cy="1055.50" r="10.0" fill="#FF0000" stroke="#000" stroke-width="1.6"/><circle cx="344.35" cy="1055.50" r="10.0" fill="#FF0000" stroke="#000" stroke-width="1.6"/><circle cx="414.80" cy="1055.50" r="10.0" fill="#FF0000" stroke="#000" stroke-width="1.6"/><circle cx="485.25" cy="1055.50" r="10.0" fill="#FF0000" stroke="#000" stroke-width="1.6"/><circle cx="555.70" cy="1024.50" r="10.0" fill="#FF0000" stroke="#000" stroke-width="1.6"/><circle cx="626.15" cy="952.88" r="10.0" fill="#FF0000" stroke="#000" stroke-width="1.6"/><circle cx="696.60" cy="870.65" r="10.0" fill="#FF0000" stroke="#000" stroke-width="1.6"/><circle cx="767.05" cy="697.68" r="10.0" fill="#FF0000" stroke="#000" stroke-width="1.6"/>
<circle cx="217.75" cy="799.05" r="14.8" fill="#FF0000" stroke="#7a1010" stroke-width="0.8"/>
<path d="M204.7,839.3 L230.1,864.9 M204.7,864.9 L230.1,839.3" stroke="#4D4DFF" stroke-width="2"/>
<text x="250" y="816.8" font-size="41">Experiment</text>
<text x="249.5" y="865.4" font-size="41">Calculation</text>
<text x="109.8" y="1063.70" font-size="28" text-anchor="end">0</text>
<text x="109.8" y="983.40" font-size="28" text-anchor="end">50</text>
<text x="109.8" y="903.10" font-size="28" text-anchor="end">100</text>
<text x="109.8" y="822.80" font-size="28" text-anchor="end">150</text>
<text x="109.8" y="742.50" font-size="28" text-anchor="end">200</text>
<text x="109.8" y="662.20" font-size="28" text-anchor="end">250</text>
<text x="133.00" y="1096" font-size="28" text-anchor="middle">0</text>
<text x="485.25" y="1096" font-size="28" text-anchor="middle">0.5</text>
<text x="837.50" y="1096" font-size="28" text-anchor="middle">1</text>
<text x="276" y="1153.9" font-size="41">BZ solution ratio, <tspan font-style="italic">x</tspan> [-]</text>
</svg></body></html>
